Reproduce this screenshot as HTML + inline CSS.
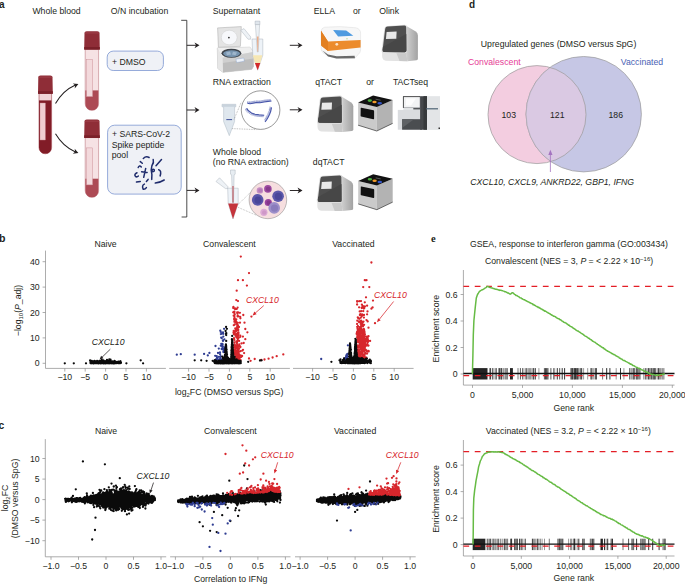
<!DOCTYPE html>
<html><head><meta charset="utf-8"><style>
html,body{margin:0;padding:0;background:#fff;}
svg{display:block;font-family:"Liberation Sans",sans-serif;}
</style></head><body>
<svg width="685" height="585" viewBox="0 0 685 585">
<rect width="685" height="585" fill="#fff"/>
<text x="-1" y="7.7" font-size="10" font-weight="bold" fill="#231f20">a</text>
<text x="468.9" y="7.8" font-size="10" font-weight="bold" fill="#231f20">d</text>
<text x="-1.1" y="242.2" font-size="10.6" font-weight="bold" fill="#231f20">b</text>
<text x="-1.4" y="429" font-size="10.4" font-weight="bold" fill="#231f20">c</text>
<text x="430.9" y="241.5" font-size="10.6" font-weight="bold" font-family="Liberation Serif" fill="#231f20">e</text>
<text x="480.8" y="47" font-size="8.7" text-anchor="start" fill="#231f20" >Upregulated genes (DMSO versus SpG)</text>
<text x="468" y="65.2" font-size="8.7" text-anchor="start" fill="#e63c96" >Convalescent</text>
<text x="620.8" y="65.2" font-size="8.7" text-anchor="start" fill="#4a62b4" >Vaccinated</text>
<defs><clipPath id="pinkclip"><circle cx="537" cy="114.6" r="49"/></clipPath></defs>
<circle cx="537" cy="114.6" r="49" fill="#f3cde0"/>
<circle cx="583.7" cy="114.2" r="57.7" fill="#c6c7e5" stroke="#9a9a9a" stroke-width="0.7"/>
<circle cx="583.7" cy="114.2" r="57.7" fill="#dac9e3" clip-path="url(#pinkclip)"/>
<circle cx="537" cy="114.6" r="49" fill="none" stroke="#9a9a9a" stroke-width="0.7"/>
<circle cx="583.7" cy="114.2" r="57.7" fill="none" stroke="#9a9a9a" stroke-width="0.5" clip-path="url(#pinkclip)"/>
<text x="501.5" y="118" font-size="8.7" text-anchor="start" fill="#231f20" >103</text>
<text x="550" y="118" font-size="8.7" text-anchor="start" fill="#231f20" >121</text>
<text x="608.5" y="118" font-size="8.7" text-anchor="start" fill="#231f20" >186</text>
<line x1="550.4" y1="172" x2="550.4" y2="153" stroke="#a474c0" stroke-width="0.8" />
<path d="M548.3 155 L550.4 149.8 L552.5 155 Z" fill="#a474c0"/>
<text x="470.3" y="184.6" font-size="8.7" text-anchor="start" fill="#231f20" font-style="italic">CXCL10, CXCL9, ANKRD22, GBP1, IFNG</text>
<text x="470" y="246.6" font-size="8.7" text-anchor="start" fill="#231f20" >GSEA, response to interferon gamma (GO:003434)</text>
<text x="485" y="263.8" font-size="8.7" text-anchor="start" fill="#231f20" >Convalescent (NES = 3, <tspan font-style="italic">P</tspan> = &lt; 2.22 × 10<tspan font-size="6" dy="-3.2">−16</tspan><tspan dy="3.2">)</tspan></text>
<line x1="463.4" y1="270" x2="463.4" y2="385.1" stroke="#8a8a8a" stroke-width="0.7" />
<line x1="460.6" y1="374" x2="463.4" y2="374" stroke="#8a8a8a" stroke-width="0.7" />
<text x="457.6" y="377.1" font-size="8.7" text-anchor="end" fill="#231f20" >0</text>
<line x1="460.6" y1="347.5" x2="463.4" y2="347.5" stroke="#8a8a8a" stroke-width="0.7" />
<text x="457.6" y="350.6" font-size="8.7" text-anchor="end" fill="#231f20" >0.2</text>
<line x1="460.6" y1="321" x2="463.4" y2="321" stroke="#8a8a8a" stroke-width="0.7" />
<text x="457.6" y="324.1" font-size="8.7" text-anchor="end" fill="#231f20" >0.4</text>
<line x1="460.6" y1="294.5" x2="463.4" y2="294.5" stroke="#8a8a8a" stroke-width="0.7" />
<text x="457.6" y="297.6" font-size="8.7" text-anchor="end" fill="#231f20" >0.6</text>
<line x1="463.4" y1="385.1" x2="674.5" y2="385.1" stroke="#8a8a8a" stroke-width="0.7" />
<line x1="472.5" y1="385.1" x2="472.5" y2="387.9" stroke="#8a8a8a" stroke-width="0.7" />
<text x="472.5" y="398" font-size="8.7" text-anchor="middle" fill="#231f20" >0</text>
<line x1="522.5" y1="385.1" x2="522.5" y2="387.9" stroke="#8a8a8a" stroke-width="0.7" />
<text x="522.5" y="398" font-size="8.7" text-anchor="middle" fill="#231f20" >5,000</text>
<line x1="572.4" y1="385.1" x2="572.4" y2="387.9" stroke="#8a8a8a" stroke-width="0.7" />
<text x="572.4" y="398" font-size="8.7" text-anchor="middle" fill="#231f20" >10,000</text>
<line x1="622.4" y1="385.1" x2="622.4" y2="387.9" stroke="#8a8a8a" stroke-width="0.7" />
<text x="622.4" y="398" font-size="8.7" text-anchor="middle" fill="#231f20" >15,000</text>
<line x1="672.3" y1="385.1" x2="672.3" y2="387.9" stroke="#8a8a8a" stroke-width="0.7" />
<text x="672.3" y="398" font-size="8.7" text-anchor="middle" fill="#231f20" >20,000</text>
<text x="573.8" y="411" font-size="8.7" text-anchor="middle" fill="#231f20" >Gene rank</text>
<text x="0" y="0" font-size="8.7" text-anchor="middle" fill="#231f20" transform="translate(438.8 328.6) rotate(-90)">Enrichment score</text>
<rect x="472.7" y="368.1" width="14.8" height="11.4" fill="#111" fill-opacity="0.92"/>
<rect x="510.0" y="368.1" width="2.9" height="11.4" fill="#111" fill-opacity="0.92"/>
<path d="M489.5 368.1V379.5M493.2 368.1V379.5M495.0 368.1V379.5M498.5 368.1V379.5M503.5 368.1V379.5M505.9 368.1V379.5M528.4 368.1V379.5M533.9 368.1V379.5M538.9 368.1V379.5M554.7 368.1V379.5M578.5 368.1V379.5M579.2 368.1V379.5M583.6 368.1V379.5M587.7 368.1V379.5M593.7 368.1V379.5M616.2 368.1V379.5M623.9 368.1V379.5M647.2 368.1V379.5M657.1 368.1V379.5M661.8 368.1V379.5M664.0 368.1V379.5" stroke="#111" stroke-width="0.95" stroke-opacity="0.45" fill="none"/>
<path d="M490.6 368.1V379.5M496.2 368.1V379.5M499.6 368.1V379.5M501.0 368.1V379.5M501.8 368.1V379.5M507.1 368.1V379.5M522.8 368.1V379.5M526.8 368.1V379.5M530.0 368.1V379.5M535.3 368.1V379.5M545.6 368.1V379.5M546.7 368.1V379.5M547.9 368.1V379.5M557.3 368.1V379.5M562.2 368.1V379.5M564.6 368.1V379.5M571.0 368.1V379.5M574.3 368.1V379.5M575.5 368.1V379.5M576.8 368.1V379.5M577.3 368.1V379.5M581.7 368.1V379.5M591.0 368.1V379.5M595.3 368.1V379.5M609.9 368.1V379.5M620.5 368.1V379.5M633.1 368.1V379.5M634.2 368.1V379.5M637.1 368.1V379.5M639.9 368.1V379.5M645.8 368.1V379.5M648.6 368.1V379.5M650.0 368.1V379.5M651.7 368.1V379.5M653.1 368.1V379.5M654.2 368.1V379.5M655.2 368.1V379.5M658.4 368.1V379.5M660.0 368.1V379.5" stroke="#111" stroke-width="0.95" stroke-opacity="0.9" fill="none"/>
<path d="M492.5 368.1V379.5M505.0 368.1V379.5M518.0 368.1V379.5M525.2 368.1V379.5M532.0 368.1V379.5M553.6 368.1V379.5M602.6 368.1V379.5M631.2 368.1V379.5M643.9 368.1V379.5M662.9 368.1V379.5" stroke="#111" stroke-width="0.95" stroke-opacity="0.6" fill="none"/>
<path d="M520.4 368.1V379.5M533.4 368.1V379.5M544.4 368.1V379.5M550.9 368.1V379.5M559.7 368.1V379.5M571.9 368.1V379.5M572.5 368.1V379.5M574.0 368.1V379.5M580.7 368.1V379.5M592.0 368.1V379.5M596.5 368.1V379.5M629.7 368.1V379.5M636.2 368.1V379.5M638.2 368.1V379.5" stroke="#111" stroke-width="0.95" stroke-opacity="0.75" fill="none"/>
<path d="M606.7 368.1V379.5" stroke="#111" stroke-width="0.95" stroke-opacity="0.95" fill="none"/>
<line x1="463.4" y1="375.6" x2="674.5" y2="375.6" stroke="#e41e26" stroke-width="1.25" stroke-dasharray="5.75 5.6"/>
<line x1="463.4" y1="373.5" x2="674.5" y2="373.5" stroke="#111" stroke-width="1.3" />
<line x1="463.4" y1="286.4" x2="674.5" y2="286.4" stroke="#e41e26" stroke-width="1.3" stroke-dasharray="5.75 5.6"/>
<path d="M472.4 374.0 L472.9 355.2 L473.3 335.0 L473.9 320.8 L474.5 314.6 L475.2 307.8 L476.3 298.0 L477.5 294.5 L478.2 293.5 L479.0 292.1 L479.6 291.3 L480.3 290.8 L481.0 290.4 L481.6 290.0 L482.4 289.8 L483.2 289.3 L484.0 288.9 L484.8 288.2 L485.5 287.8 L486.3 287.3 L487.1 286.4 L487.8 286.5 L488.4 286.7 L489.1 287.2 L489.7 287.4 L490.4 287.5 L491.1 287.8 L491.7 287.9 L492.4 288.0 L493.0 288.5 L493.7 288.4 L494.3 288.8 L495.0 289.1 L495.7 289.2 L496.4 289.2 L497.1 289.6 L497.8 289.5 L498.5 290.1 L499.1 290.0 L499.8 290.4 L500.4 290.2 L501.1 290.3 L501.7 290.6 L502.4 290.7 L503.0 290.9 L503.7 291.1 L504.3 291.5 L505.0 291.8 L505.7 291.8 L506.3 292.1 L507.0 292.5 L507.6 293.0 L508.3 292.9 L508.9 293.4 L509.6 293.8 L510.2 294.2 L510.8 293.8 L511.4 293.3 L512.0 292.8 L512.6 292.7 L513.3 293.1 L514.0 293.8 L514.6 294.3 L515.3 294.7 L516.0 295.5 L516.7 295.5 L517.3 295.8 L518.0 296.4 L518.6 296.7 L519.3 297.1 L519.9 297.7 L520.6 297.9 L521.2 298.0 L521.9 298.8 L522.5 298.8 L523.1 299.3 L523.8 299.7 L524.4 299.7 L525.0 300.1 L525.6 300.6 L526.3 300.7 L526.9 301.3 L527.5 301.4 L528.1 301.8 L528.8 301.9 L529.4 302.6 L530.0 302.8 L530.6 303.0 L531.2 303.5 L531.9 303.5 L532.5 303.9 L533.1 304.7 L533.8 304.5 L534.4 305.2 L535.0 305.4 L535.6 305.9 L536.2 306.2 L536.9 306.5 L537.5 306.8 L538.1 307.4 L538.8 307.3 L539.4 307.9 L540.0 308.0 L540.6 308.7 L541.2 309.0 L541.8 309.0 L542.4 309.7 L543.0 309.7 L543.6 310.5 L544.2 310.5 L544.8 311.2 L545.5 311.1 L546.1 311.5 L546.7 312.0 L547.3 312.5 L547.9 312.6 L548.5 313.1 L549.1 313.5 L549.7 313.5 L550.3 314.2 L550.9 314.6 L551.5 314.8 L552.1 315.3 L552.7 315.5 L553.3 316.0 L553.9 316.3 L554.5 316.3 L555.2 316.7 L555.8 317.2 L556.4 317.7 L557.0 318.0 L557.6 318.3 L558.2 318.7 L558.8 318.7 L559.4 319.1 L560.0 319.7 L560.6 319.8 L561.2 320.2 L561.8 320.9 L562.4 321.2 L563.0 321.5 L563.6 322.1 L564.2 322.5 L564.8 322.5 L565.5 322.9 L566.1 323.2 L566.7 323.7 L567.3 324.2 L567.9 324.4 L568.5 325.2 L569.1 325.2 L569.7 325.7 L570.3 326.4 L570.9 326.6 L571.5 326.8 L572.1 327.2 L572.7 327.7 L573.3 328.3 L573.9 328.5 L574.5 328.8 L575.2 329.3 L575.8 329.9 L576.4 330.3 L577.0 330.7 L577.6 331.0 L578.2 331.1 L578.8 331.6 L579.4 332.0 L580.0 332.3 L580.6 332.7 L581.2 333.3 L581.8 333.6 L582.4 333.9 L583.0 334.3 L583.6 334.7 L584.2 335.4 L584.9 335.9 L585.5 336.2 L586.1 336.4 L586.7 336.8 L587.3 337.1 L587.9 337.7 L588.5 338.3 L589.1 338.3 L589.7 339.1 L590.3 339.2 L590.9 339.8 L591.5 340.0 L592.1 340.7 L592.7 341.2 L593.4 341.4 L594.0 341.8 L594.6 342.1 L595.2 342.4 L595.8 343.0 L596.4 343.4 L597.0 343.8 L597.6 344.4 L598.2 344.6 L598.8 345.1 L599.4 345.4 L600.0 346.1 L600.6 346.1 L601.2 346.9 L601.8 347.0 L602.5 347.7 L603.1 347.7 L603.7 348.2 L604.3 349.0 L604.9 349.0 L605.5 349.7 L606.1 350.2 L606.7 350.6 L607.3 350.8 L607.9 351.3 L608.5 351.4 L609.1 351.8 L609.7 352.2 L610.3 352.5 L610.9 352.8 L611.5 353.1 L612.1 353.7 L612.7 353.8 L613.4 354.5 L614.0 354.5 L614.6 354.8 L615.2 355.2 L615.8 355.6 L616.4 356.1 L617.0 356.3 L617.6 356.7 L618.2 356.9 L618.8 357.2 L619.4 358.1 L620.0 358.2 L620.6 358.7 L621.2 358.9 L621.8 359.0 L622.4 359.7 L623.0 360.1 L623.7 360.5 L624.3 360.4 L624.9 360.7 L625.5 361.4 L626.1 361.6 L626.7 361.9 L627.3 362.1 L627.9 362.5 L628.5 363.0 L629.1 363.1 L629.7 363.7 L630.4 364.2 L631.0 364.0 L631.6 364.4 L632.2 364.9 L632.8 365.5 L633.4 365.6 L634.0 365.8 L634.6 366.2 L635.2 366.6 L635.8 366.9 L636.5 367.2 L637.1 367.4 L637.7 367.9 L638.3 368.2 L638.9 368.2 L639.5 368.5 L640.1 368.8 L640.7 369.0 L641.3 369.7 L641.9 369.9 L642.6 369.9 L643.2 370.6 L643.8 370.9 L644.4 371.2 L645.0 371.1 L645.6 371.7 L646.2 372.1 L646.9 372.2 L647.5 372.3 L648.1 372.9 L648.7 373.0 L649.3 373.4 L650.0 373.9 L650.6 374.0 L651.2 374.4 L651.9 374.2 L652.6 374.4 L653.3 374.6 L653.9 374.6 L654.6 374.9 L655.3 375.1 L656.0 375.5 L656.7 375.2 L657.3 375.0 L658.0 375.3 L658.7 375.0 L659.3 374.9 L660.0 374.9 L660.7 374.6 L661.3 374.5 L662.0 374.6 L662.7 374.2 L663.4 374.3 L664.0 373.8 L664.7 373.8" stroke="#66bb44" stroke-width="1.5" fill="none" stroke-linejoin="round"/>
<text x="485.8" y="434" font-size="8.7" text-anchor="start" fill="#231f20" >Vaccinated (NES = 3.2, <tspan font-style="italic">P</tspan> = &lt; 2.22 × 10<tspan font-size="6" dy="-3.2">−16</tspan><tspan dy="3.2">)</tspan></text>
<line x1="463.4" y1="440" x2="463.4" y2="556" stroke="#8a8a8a" stroke-width="0.7" />
<line x1="460.6" y1="544.6" x2="463.4" y2="544.6" stroke="#8a8a8a" stroke-width="0.7" />
<text x="457.6" y="547.7" font-size="8.7" text-anchor="end" fill="#231f20" >0</text>
<line x1="460.6" y1="518.1" x2="463.4" y2="518.1" stroke="#8a8a8a" stroke-width="0.7" />
<text x="457.6" y="521.2" font-size="8.7" text-anchor="end" fill="#231f20" >0.2</text>
<line x1="460.6" y1="491.6" x2="463.4" y2="491.6" stroke="#8a8a8a" stroke-width="0.7" />
<text x="457.6" y="494.7" font-size="8.7" text-anchor="end" fill="#231f20" >0.4</text>
<line x1="460.6" y1="465.1" x2="463.4" y2="465.1" stroke="#8a8a8a" stroke-width="0.7" />
<text x="457.6" y="468.2" font-size="8.7" text-anchor="end" fill="#231f20" >0.6</text>
<line x1="463.4" y1="556" x2="674.5" y2="556" stroke="#8a8a8a" stroke-width="0.7" />
<line x1="473" y1="556" x2="473" y2="558.8" stroke="#8a8a8a" stroke-width="0.7" />
<text x="473" y="568.8" font-size="8.7" text-anchor="middle" fill="#231f20" >0</text>
<line x1="521.3" y1="556" x2="521.3" y2="558.8" stroke="#8a8a8a" stroke-width="0.7" />
<text x="521.3" y="568.8" font-size="8.7" text-anchor="middle" fill="#231f20" >5,000</text>
<line x1="569.6" y1="556" x2="569.6" y2="558.8" stroke="#8a8a8a" stroke-width="0.7" />
<text x="569.6" y="568.8" font-size="8.7" text-anchor="middle" fill="#231f20" >10,000</text>
<line x1="617.9" y1="556" x2="617.9" y2="558.8" stroke="#8a8a8a" stroke-width="0.7" />
<text x="617.9" y="568.8" font-size="8.7" text-anchor="middle" fill="#231f20" >15,000</text>
<line x1="666.2" y1="556" x2="666.2" y2="558.8" stroke="#8a8a8a" stroke-width="0.7" />
<text x="666.2" y="568.8" font-size="8.7" text-anchor="middle" fill="#231f20" >20,000</text>
<text x="573.8" y="581.2" font-size="8.7" text-anchor="middle" fill="#231f20" >Gene rank</text>
<text x="0" y="0" font-size="8.7" text-anchor="middle" fill="#231f20" transform="translate(438.8 499.0) rotate(-90)">Enrichment score</text>
<rect x="472.7" y="538.7" width="12.4" height="11.4" fill="#111" fill-opacity="0.92"/>
<rect x="600.5" y="538.7" width="2.4" height="11.4" fill="#111" fill-opacity="0.92"/>
<path d="M485.9 538.7V550.1M492.6 538.7V550.1M495.5 538.7V550.1M502.3 538.7V550.1M516.5 538.7V550.1M535.7 538.7V550.1M540.5 538.7V550.1M542.1 538.7V550.1M544.5 538.7V550.1M561.8 538.7V550.1M568.6 538.7V550.1M573.2 538.7V550.1M577.2 538.7V550.1M606.1 538.7V550.1M611.6 538.7V550.1M633.7 538.7V550.1M664.4 538.7V550.1" stroke="#111" stroke-width="0.95" stroke-opacity="0.45" fill="none"/>
<path d="M487.5 538.7V550.1M500.7 538.7V550.1M507.6 538.7V550.1M515.7 538.7V550.1M522.8 538.7V550.1M538.9 538.7V550.1M549.3 538.7V550.1M559.3 538.7V550.1M590.3 538.7V550.1M591.2 538.7V550.1M611.0 538.7V550.1M623.0 538.7V550.1M633.2 538.7V550.1" stroke="#111" stroke-width="0.95" stroke-opacity="0.6" fill="none"/>
<path d="M489.1 538.7V550.1M490.7 538.7V550.1M493.9 538.7V550.1M504.3 538.7V550.1M506.0 538.7V550.1M510.8 538.7V550.1M511.6 538.7V550.1M514.7 538.7V550.1M517.3 538.7V550.1M519.6 538.7V550.1M521.2 538.7V550.1M525.2 538.7V550.1M532.4 538.7V550.1M534.0 538.7V550.1M537.3 538.7V550.1M558.0 538.7V550.1M559.9 538.7V550.1M562.8 538.7V550.1M571.0 538.7V550.1M574.2 538.7V550.1M574.8 538.7V550.1M578.8 538.7V550.1M592.4 538.7V550.1M593.8 538.7V550.1M604.5 538.7V550.1M607.7 538.7V550.1M612.5 538.7V550.1M632.0 538.7V550.1M636.6 538.7V550.1M640.9 538.7V550.1M643.9 538.7V550.1M648.7 538.7V550.1M652.7 538.7V550.1M659.1 538.7V550.1M665.1 538.7V550.1" stroke="#111" stroke-width="0.95" stroke-opacity="0.9" fill="none"/>
<path d="M497.1 538.7V550.1M498.7 538.7V550.1M561.0 538.7V550.1M628.6 538.7V550.1M642.3 538.7V550.1M645.1 538.7V550.1M663.1 538.7V550.1" stroke="#111" stroke-width="0.95" stroke-opacity="0.75" fill="none"/>
<path d="M582.8 538.7V550.1M584.1 538.7V550.1" stroke="#111" stroke-width="0.95" stroke-opacity="0.95" fill="none"/>
<line x1="463.4" y1="546.2" x2="674.5" y2="546.2" stroke="#e41e26" stroke-width="1.25" stroke-dasharray="5.75 5.6"/>
<line x1="463.4" y1="544.1" x2="674.5" y2="544.1" stroke="#111" stroke-width="1.3" />
<line x1="463.4" y1="451.7" x2="674.5" y2="451.7" stroke="#e41e26" stroke-width="1.3" stroke-dasharray="5.75 5.6"/>
<path d="M473.0 544.6 L473.2 534.8 L473.4 510.0 L473.8 498.2 L474.7 489.8 L475.4 485.3 L476.0 480.9 L477.2 474.6 L477.9 471.1 L478.6 466.9 L479.5 464.0 L480.4 460.8 L481.1 459.5 L481.7 458.2 L482.4 456.3 L483.1 455.7 L483.9 454.6 L484.6 453.8 L485.3 453.5 L486.0 453.0 L486.6 453.1 L487.3 452.6 L488.0 452.2 L488.7 452.1 L489.3 452.2 L490.0 452.1 L490.7 452.0 L491.3 451.8 L492.0 451.8 L492.6 451.8 L493.2 452.1 L493.9 451.7 L494.5 452.0 L495.1 452.1 L495.8 451.7 L496.4 452.1 L497.0 452.0 L497.6 452.1 L498.2 451.8 L498.9 451.8 L499.5 451.8 L500.2 452.3 L500.9 452.3 L501.6 452.4 L502.3 452.6 L503.0 452.7 L503.6 452.9 L504.3 453.3 L504.9 454.0 L505.6 454.1 L506.2 454.8 L506.9 454.8 L507.5 455.2 L508.2 455.7 L508.8 455.9 L509.5 456.3 L510.1 457.0 L510.8 457.3 L511.4 457.7 L512.1 457.9 L512.7 458.5 L513.4 458.8 L514.0 459.0 L514.6 459.5 L515.3 459.5 L516.0 460.2 L516.6 460.5 L517.2 461.0 L517.9 461.3 L518.5 461.5 L519.2 461.8 L519.8 462.6 L520.5 462.6 L521.1 463.1 L521.8 463.4 L522.4 463.8 L523.1 464.5 L523.7 465.0 L524.3 465.1 L525.0 465.7 L525.6 465.9 L526.2 466.5 L526.8 466.8 L527.5 467.1 L528.1 467.6 L528.7 468.0 L529.4 468.8 L530.0 469.0 L530.6 469.2 L531.2 470.0 L531.8 470.4 L532.4 470.5 L533.0 470.7 L533.6 471.1 L534.2 471.5 L534.8 472.0 L535.4 472.2 L536.0 472.7 L536.6 473.1 L537.2 473.6 L537.8 474.1 L538.4 474.4 L539.0 474.7 L539.6 475.0 L540.2 475.5 L540.8 475.8 L541.4 476.2 L542.0 476.4 L542.6 476.9 L543.2 477.7 L543.8 477.6 L544.5 478.2 L545.1 478.7 L545.7 479.2 L546.3 479.2 L546.9 479.7 L547.5 480.0 L548.1 480.5 L548.7 480.9 L549.3 481.6 L549.9 481.9 L550.5 482.3 L551.1 482.3 L551.7 482.7 L552.3 483.4 L552.9 483.9 L553.5 484.1 L554.2 484.5 L554.8 484.6 L555.4 485.2 L556.0 485.9 L556.6 486.2 L557.2 486.6 L557.8 487.1 L558.4 487.1 L559.0 487.4 L559.6 487.8 L560.2 488.4 L560.8 488.9 L561.4 489.4 L562.0 489.7 L562.6 490.1 L563.2 490.5 L563.8 490.8 L564.4 491.2 L565.0 491.4 L565.6 492.1 L566.2 492.3 L566.8 493.0 L567.4 493.3 L568.0 493.5 L568.6 493.8 L569.2 494.3 L569.8 494.9 L570.4 495.3 L571.0 495.4 L571.6 495.8 L572.2 496.4 L572.8 496.8 L573.4 497.1 L574.0 497.5 L574.6 498.1 L575.2 498.2 L575.8 498.7 L576.4 499.2 L577.0 499.8 L577.6 500.1 L578.2 500.6 L578.8 500.8 L579.4 501.1 L580.0 501.5 L580.6 502.2 L581.2 502.5 L581.8 502.7 L582.4 503.0 L583.0 503.6 L583.6 504.1 L584.2 504.3 L584.8 504.6 L585.5 505.2 L586.1 505.7 L586.7 505.7 L587.3 506.0 L587.9 506.5 L588.5 506.9 L589.2 507.4 L589.8 507.6 L590.4 508.2 L591.0 508.6 L591.6 508.8 L592.2 509.1 L592.9 509.8 L593.5 509.8 L594.1 510.5 L594.7 510.6 L595.3 510.9 L596.0 511.6 L596.6 511.7 L597.2 512.4 L597.8 512.5 L598.4 512.8 L599.0 513.1 L599.7 513.6 L600.3 514.1 L600.9 514.6 L601.5 514.5 L602.1 514.9 L602.8 515.1 L603.4 515.7 L604.0 515.6 L604.6 515.8 L605.2 516.1 L605.9 516.5 L606.5 517.1 L607.1 517.3 L607.7 517.5 L608.3 517.9 L609.0 518.2 L609.6 518.2 L610.2 518.4 L610.8 519.0 L611.4 519.2 L612.1 519.1 L612.7 519.7 L613.3 519.8 L613.9 520.2 L614.5 520.6 L615.1 520.9 L615.8 521.1 L616.4 521.7 L617.0 522.1 L617.6 522.7 L618.2 522.7 L618.8 523.5 L619.5 523.5 L620.1 523.9 L620.7 524.5 L621.3 524.9 L621.9 525.1 L622.5 525.3 L623.2 525.9 L623.8 526.2 L624.4 526.8 L625.0 526.8 L625.6 527.3 L626.3 528.0 L626.9 527.9 L627.5 528.5 L628.1 529.1 L628.8 529.4 L629.4 529.4 L630.0 529.8 L630.6 530.2 L631.3 531.0 L631.9 531.0 L632.5 531.7 L633.1 532.1 L633.8 532.2 L634.4 532.6 L635.0 533.3 L635.6 533.5 L636.3 533.7 L636.9 534.3 L637.5 534.3 L638.1 534.5 L638.8 534.6 L639.4 535.2 L640.0 535.5 L640.6 535.6 L641.2 536.0 L641.9 535.7 L642.5 536.0 L643.1 536.4 L643.7 536.8 L644.3 537.1 L645.0 537.0 L645.6 537.2 L646.2 537.5 L646.8 537.7 L647.4 538.2 L648.1 538.0 L648.7 538.5 L649.3 538.7 L649.9 539.2 L650.5 539.6 L651.2 539.9 L651.8 540.2 L652.4 540.6 L653.0 541.1 L653.6 541.7 L654.2 541.8 L654.9 542.3 L655.5 543.0 L656.1 543.1 L656.7 543.5 L657.3 543.9 L658.0 544.6 L658.6 544.9 L659.2 545.6 L659.8 545.6 L660.4 545.6 L661.1 545.2 L661.7 545.0 L662.3 545.0 L662.9 545.2 L663.5 545.2 L664.2 545.1 L664.8 544.9 L665.4 545.0" stroke="#66bb44" stroke-width="1.5" fill="none" stroke-linejoin="round"/>
<line x1="45.5" y1="250.6" x2="45.5" y2="368.4" stroke="#8a8a8a" stroke-width="0.7" />
<line x1="42.6" y1="363.3" x2="45.5" y2="363.3" stroke="#8a8a8a" stroke-width="0.7" />
<text x="39.6" y="366.4" font-size="8.7" text-anchor="end" fill="#231f20" >0</text>
<line x1="42.6" y1="337.9" x2="45.5" y2="337.9" stroke="#8a8a8a" stroke-width="0.7" />
<text x="39.6" y="341" font-size="8.7" text-anchor="end" fill="#231f20" >10</text>
<line x1="42.6" y1="312.5" x2="45.5" y2="312.5" stroke="#8a8a8a" stroke-width="0.7" />
<text x="39.6" y="315.6" font-size="8.7" text-anchor="end" fill="#231f20" >20</text>
<line x1="42.6" y1="287.1" x2="45.5" y2="287.1" stroke="#8a8a8a" stroke-width="0.7" />
<text x="39.6" y="290.2" font-size="8.7" text-anchor="end" fill="#231f20" >30</text>
<line x1="42.6" y1="261.7" x2="45.5" y2="261.7" stroke="#8a8a8a" stroke-width="0.7" />
<text x="39.6" y="264.8" font-size="8.7" text-anchor="end" fill="#231f20" >40</text>
<text font-size="8.7" fill="#231f20" text-anchor="middle" transform="translate(20.6 310.5) rotate(-90)">−log<tspan font-size="6" dy="2">10</tspan><tspan dy="-2">(</tspan><tspan font-style="italic">P</tspan>_adj)</text>
<line x1="45.5" y1="368.4" x2="165.9" y2="368.4" stroke="#8a8a8a" stroke-width="0.7" />
<line x1="64.8" y1="368.4" x2="64.8" y2="371.6" stroke="#8a8a8a" stroke-width="0.7" />
<text x="64.8" y="380.3" font-size="8.7" text-anchor="middle" fill="#231f20" >−10</text>
<line x1="85.2" y1="368.4" x2="85.2" y2="371.6" stroke="#8a8a8a" stroke-width="0.7" />
<text x="85.2" y="380.3" font-size="8.7" text-anchor="middle" fill="#231f20" >−5</text>
<line x1="105.6" y1="368.4" x2="105.6" y2="371.6" stroke="#8a8a8a" stroke-width="0.7" />
<text x="105.6" y="380.3" font-size="8.7" text-anchor="middle" fill="#231f20" >0</text>
<line x1="126" y1="368.4" x2="126" y2="371.6" stroke="#8a8a8a" stroke-width="0.7" />
<text x="126" y="380.3" font-size="8.7" text-anchor="middle" fill="#231f20" >5</text>
<line x1="146.4" y1="368.4" x2="146.4" y2="371.6" stroke="#8a8a8a" stroke-width="0.7" />
<text x="146.4" y="380.3" font-size="8.7" text-anchor="middle" fill="#231f20" >10</text>
<text x="105.6" y="246.5" font-size="8.7" text-anchor="middle" fill="#231f20" >Naive</text>
<line x1="169.2" y1="368.4" x2="289.9" y2="368.4" stroke="#8a8a8a" stroke-width="0.7" />
<line x1="188.6" y1="368.4" x2="188.6" y2="371.6" stroke="#8a8a8a" stroke-width="0.7" />
<text x="188.6" y="380.3" font-size="8.7" text-anchor="middle" fill="#231f20" >−10</text>
<line x1="209" y1="368.4" x2="209" y2="371.6" stroke="#8a8a8a" stroke-width="0.7" />
<text x="209" y="380.3" font-size="8.7" text-anchor="middle" fill="#231f20" >−5</text>
<line x1="229.4" y1="368.4" x2="229.4" y2="371.6" stroke="#8a8a8a" stroke-width="0.7" />
<text x="229.4" y="380.3" font-size="8.7" text-anchor="middle" fill="#231f20" >0</text>
<line x1="249.8" y1="368.4" x2="249.8" y2="371.6" stroke="#8a8a8a" stroke-width="0.7" />
<text x="249.8" y="380.3" font-size="8.7" text-anchor="middle" fill="#231f20" >5</text>
<line x1="270.2" y1="368.4" x2="270.2" y2="371.6" stroke="#8a8a8a" stroke-width="0.7" />
<text x="270.2" y="380.3" font-size="8.7" text-anchor="middle" fill="#231f20" >10</text>
<text x="229.4" y="246.5" font-size="8.7" text-anchor="middle" fill="#231f20" >Convalescent</text>
<line x1="293" y1="368.4" x2="413.6" y2="368.4" stroke="#8a8a8a" stroke-width="0.7" />
<line x1="312.6" y1="368.4" x2="312.6" y2="371.6" stroke="#8a8a8a" stroke-width="0.7" />
<text x="312.6" y="380.3" font-size="8.7" text-anchor="middle" fill="#231f20" >−10</text>
<line x1="333" y1="368.4" x2="333" y2="371.6" stroke="#8a8a8a" stroke-width="0.7" />
<text x="333" y="380.3" font-size="8.7" text-anchor="middle" fill="#231f20" >−5</text>
<line x1="353.4" y1="368.4" x2="353.4" y2="371.6" stroke="#8a8a8a" stroke-width="0.7" />
<text x="353.4" y="380.3" font-size="8.7" text-anchor="middle" fill="#231f20" >0</text>
<line x1="373.8" y1="368.4" x2="373.8" y2="371.6" stroke="#8a8a8a" stroke-width="0.7" />
<text x="373.8" y="380.3" font-size="8.7" text-anchor="middle" fill="#231f20" >5</text>
<line x1="394.2" y1="368.4" x2="394.2" y2="371.6" stroke="#8a8a8a" stroke-width="0.7" />
<text x="394.2" y="380.3" font-size="8.7" text-anchor="middle" fill="#231f20" >10</text>
<text x="353.4" y="246.5" font-size="8.7" text-anchor="middle" fill="#231f20" >Vaccinated</text>
<text x="229.2" y="394.6" font-size="8.7" fill="#231f20" text-anchor="middle">log<tspan font-size="6" dy="2">2</tspan><tspan dy="-2">FC (DMSO versus SpG)</tspan></text>
<path d="M109.5 362.6h0M99 363h0M104.5 363h0M113.1 362.1h0M98.1 363.3h0M109.9 362.5h0M120.9 362.9h0M107.9 361.6h0M109.3 363.3h0M111.1 361.6h0M111.1 363.1h0M96.3 362h0M105.6 362h0M98.5 361.9h0M109.2 363.1h0M104.1 362.8h0M94.8 363.1h0M110.7 362.9h0M100.5 362.8h0M108.6 362.5h0M114.8 363h0M102.6 363.2h0M105.3 363h0M111.8 362.6h0M119.7 362.9h0M107.8 362.7h0M111.1 362.4h0M112.8 363.3h0M90.7 362.5h0M103.6 361.6h0M112.9 363.2h0M107.6 362h0M109.5 361.7h0M105.9 362.8h0M110.3 362.9h0M105.7 362.4h0M94.4 360.9h0M112.8 363.1h0M118.8 361.7h0M114.3 363h0M104 363.1h0M112.1 363h0M102.7 362.8h0M104.8 363h0M112.7 363.1h0M105.9 363.3h0M105.3 362.3h0M111.7 362.7h0M108.3 362.7h0M110.7 362.3h0M109.4 363h0M107.7 361.7h0M103.6 363.1h0M109 363h0M93.3 362.2h0M110 362.9h0M112.9 363.1h0M105.9 362.2h0M119.6 362.1h0M114.7 363.1h0M120.5 361.5h0M118.2 362.7h0M114.6 363h0M113.6 363.1h0M117.9 363h0M105.9 361.5h0M107.9 362.6h0M106.2 363.1h0M95.4 362h0M103.7 362.5h0M106.7 361.8h0M100 361.8h0M97.2 362.3h0M120.9 362.6h0M103 363h0M113.9 362.7h0M108 361.6h0M110.1 362.8h0M100.1 362.6h0M90.6 362.8h0M107.5 362.2h0M109.5 362.8h0M109.6 363.2h0M93.8 363.3h0M97.4 362.2h0M109.6 362.7h0M115.1 361.6h0M95.1 362.2h0M111.1 363.1h0M90.9 362.3h0M102.3 363h0M95.1 362.5h0M106.9 361.2h0M106.8 362.7h0M114.3 362.9h0M107.4 362.8h0M109.1 363.1h0M100.7 361.9h0M100 363.2h0M108.4 363h0M116.3 361.8h0M98.3 363h0M107.2 362.8h0M91.7 362.5h0M114.4 362.4h0M107.4 362h0M114.6 362.6h0M106.2 362.6h0M106 362.6h0M113.3 363.2h0M106.7 362.4h0M105 362.7h0M101.3 362.2h0M112.7 363.2h0M103.4 361.5h0M112.7 362.6h0M109.6 362.9h0M118.4 363.2h0M118.9 363.1h0M94.8 363h0M107.1 362.3h0M100.7 362.1h0M115.5 362.8h0M108.3 363.1h0M117.8 362.1h0M96.8 363.1h0M107.7 362.8h0M99.9 362.8h0M93.5 362.7h0M108.1 362.5h0M91.1 363.3h0M111.1 362.7h0M110.3 361.4h0M106.6 362.3h0M114.2 363.1h0M112.1 362.6h0M106 361.8h0M90.5 362.3h0M113.8 363.2h0M106.8 361.6h0M105.6 363.2h0M116 363.1h0M97.1 361h0M104.3 363.3h0M115 362.5h0M108.5 362h0M102.8 361.7h0M117.7 362.1h0M96.8 363.1h0M118.2 361.8h0M104.6 361.9h0M107.1 361.7h0M104.1 362.6h0M116.3 362.5h0M103.9 361.9h0M104.4 363.1h0M109.8 362.8h0M99.7 362.8h0M95.3 361.5h0M100.5 362.7h0M96.3 363.2h0M106.5 362.9h0M111 362.7h0M109.2 361.8h0M96.5 363h0M102.4 363h0M102.7 362.9h0M98.9 362.6h0M109 362.5h0M113.2 362.4h0M103.8 363.3h0M112.6 362.3h0M108.1 361.8h0M103.6 362.1h0M103.9 362h0M103.3 363h0M98.6 363.3h0M112.4 362.6h0M103.1 362.7h0M105.4 363.1h0M101.6 363h0M106.6 362.4h0M114.7 362.9h0M106.5 361.8h0M104.7 362.1h0M99.2 361.3h0M111.4 362h0M113.8 361.3h0M92.2 361.4h0M102.7 362.3h0M111.9 363.2h0M98.6 363h0M115.4 362.6h0M106.2 362.8h0M114.3 362.9h0M102.9 362.5h0M108.9 360.8h0M110.1 362.6h0M98 363h0M116 362.1h0M116.5 363.2h0M103.5 362.4h0M90.6 363.2h0M99.7 362.5h0M100 362.7h0M98.9 361.6h0M116.1 362.7h0M107.4 362.8h0M106.2 363.2h0M119.6 362.9h0M94.9 362.7h0M114.3 363h0M109.3 363.1h0M103.7 362h0M101 362h0M101 362.8h0M114.5 363.2h0M101.1 362.6h0M94.8 363h0M112.4 362.9h0M105.5 362.1h0M106.9 361.5h0M107.2 362h0M103.8 362.6h0M110.7 362.1h0M110.3 362h0M108.1 362.5h0M104.8 362.2h0M106.4 361.8h0M108.6 362.3h0M105 361.7h0M107.3 362.6h0M103.4 361.6h0M115.8 362.7h0M105.9 363.1h0M113.1 362.3h0M100.2 361.9h0M108.4 362.2h0M112.6 362h0M105.2 363.2h0M90.7 362.5h0M117.9 362.4h0M99 362.3h0M102.1 362.9h0M100.1 363h0M114.5 363.3h0M91.6 362.9h0M113.5 362.6h0M115.7 363h0M99.7 362.1h0M100.2 362h0M110 362.1h0M94.1 362.9h0M96.2 362.3h0M90.9 362.3h0M111.4 362.2h0M93.6 363.2h0M107.5 362.8h0M90.7 363.1h0M104.4 361.6h0M91 362.3h0M107.2 361.7h0M92 363.1h0M98.5 363.2h0M104.6 363h0M101.1 363.2h0M120.5 363.1h0M106.9 363.1h0M112.8 362.9h0M116.8 363h0M108.1 363.3h0M111.2 362.2h0M110.2 361.9h0M102.3 362.8h0M115.6 362.7h0M106.3 363h0M103.9 361.6h0M109 361.5h0M105.4 362.9h0M112.1 362.3h0M112.5 361.9h0M90.6 362.2h0M103.4 361.8h0M101.8 361.5h0M109.5 362.5h0M116.6 362.4h0M102.1 361.3h0M93.1 361.7h0M113.5 362.7h0M107.5 362h0M103.3 363.2h0M113.5 363h0M115.2 362.3h0M107.6 362h0M111.7 362.5h0M103.9 363h0M96 363h0M102 362.3h0M91.9 362.6h0M105.1 363h0M107.5 362.8h0M103.2 362.3h0M91.5 361.4h0M106.2 362.6h0M105.1 361.2h0M112.6 362.3h0M91.7 361h0M96 363h0M107.7 362.6h0M102.6 363h0M105.8 362.9h0M108.4 363.2h0M113.7 361.9h0M104.2 362.9h0M120.1 362.6h0M98.3 363.3h0M118.1 361.8h0M114.6 362.3h0M97.5 361.1h0M94.9 363.2h0M94.3 362.9h0M113.6 362.6h0M94.3 362.8h0M108.7 362.7h0M111.2 361.8h0M91.6 363.2h0M109.1 361.1h0M109.1 363h0M93.5 361.6h0M102.4 362.5h0M108.2 362h0M97.3 363.1h0M112.3 362.8h0M105.8 363.2h0M98.8 362.3h0M105.2 362.8h0M102.1 361.4h0M120.4 361.4h0M110.8 363h0M98.4 362.2h0M101.7 359.9h0M105.8 362.6h0M109.3 361.8h0M120.5 362.8h0M115.2 363h0M116 362.9h0M109 362.4h0M108.2 362.1h0M96 363.1h0M92.9 361.8h0M109.1 362.5h0M109.2 363.3h0M109.5 362.1h0M92.5 363.2h0M101.4 361.6h0M116.3 362.7h0M105.9 363.3h0M96.2 363h0M96.2 362.8h0M101.9 362.5h0M113.2 363.3h0M106.3 362.2h0M112.6 362.7h0M103.3 362.1h0M117.2 362.2h0M100.5 363.3h0M105.8 363.3h0M107.4 362.7h0M98.2 363.2h0M111.9 363.1h0M91 362.3h0M102.8 363.2h0M104.5 363.2h0M105.6 363h0M106.3 362.8h0M94.7 361.7h0M108 362.3h0M111.9 361.8h0M102.6 362.7h0M101.6 363.1h0M107.6 362.4h0M100.8 360.8h0M112.7 361.8h0M101.7 362.2h0M108.9 362.6h0M109.9 363h0M106.7 362.4h0M109.2 362.8h0M107.2 362.9h0M94.5 362.6h0M96.6 361.9h0M111.3 363h0M107.1 362.1h0M106.4 362.7h0M119.6 363.1h0M111.2 362.4h0M111.7 362.5h0M106.5 362.8h0M94.5 363.2h0M102.9 363.1h0M107.2 362.6h0M101.5 362.5h0M109.3 361.9h0M99.8 362.9h0M105.4 362.6h0M106.2 362.3h0M101.3 362.4h0M107.3 362.1h0M103.4 360.5h0M114.1 363.1h0M108.5 363h0M104 363.2h0M109.8 362.9h0M106.6 362.7h0M101.3 362.7h0M100.3 362.8h0M101 363.2h0M97.9 363h0M98.7 361.9h0M113.9 361.9h0M93.2 363.3h0M98.8 362.5h0M102.8 362.7h0M98.6 362.9h0M102.5 362.4h0M114.6 363h0M101.1 363.3h0M99.8 362.5h0M112.3 361.5h0M116.3 362.2h0M110.3 363.1h0M118.4 363h0M106.9 361.1h0M107 359.9h0M102.3 361.8h0M101.4 363.1h0M99.2 361.4h0M104.4 363.2h0M102.8 362.1h0M104.2 362.2h0M109.6 363.1h0M103.2 362.3h0M109 362.6h0M109.7 362.3h0M117.9 362.6h0M97.7 362.5h0M99.4 362.6h0M103.4 363.3h0M109.8 362.6h0M103.8 363.1h0M114.6 363.1h0M111.6 362.5h0M106.9 362.1h0M105.7 362.6h0M106.1 361.9h0M113.8 363.3h0M94.2 362.4h0M93.6 361.9h0M106.5 362.7h0M100.3 363.2h0M107.1 362.6h0M95.7 361.9h0M93.5 362.3h0M104.3 362.6h0M92.2 362.3h0M102.4 362.1h0M91.8 362.8h0M109.6 362.6h0M108.6 362.5h0M112.8 363h0M107.1 362.3h0M107.6 362.5h0M97.5 363.1h0M95.8 362.9h0M109.5 363h0M106.8 362.1h0M102.8 362.8h0M107.9 362.9h0M99.2 362.7h0M91.6 362.8h0M112.1 362.5h0M98.8 363h0M116.1 362.9h0M109.5 362.5h0M97.3 361.6h0M119.6 362.6h0M106.7 362.3h0M118 362.2h0M104.1 362.8h0M109.3 361.4h0M106.2 362.6h0M105.7 362.2h0M112 362.9h0M95.9 362.4h0M103.4 362h0M107.7 362.6h0M92.5 362.4h0M97.4 362.2h0M102.8 362.2h0M108.5 361.3h0M109.7 362.7h0M111.3 362.8h0M110.7 362.5h0M106.9 361.4h0M109.7 363.1h0M109.2 363.1h0M91.7 361.8h0M96.6 363h0M100 362.4h0M111.2 361.6h0M106 362.6h0M111.4 363.3h0M107 363.2h0M116.6 362.5h0M110.6 363.1h0M114.7 362.8h0M118.2 362h0M113.4 362.5h0M106.4 362.9h0M96 362.3h0M106.1 361.5h0M105.1 363.2h0M101.1 362.8h0M113.1 362.1h0M112 363h0M102.9 362h0M105.4 363.3h0M103.1 363h0M100 362.3h0M113.1 363.2h0M110.8 361.2h0M99.7 362.5h0M111.1 362.3h0M115.5 361.7h0M110.9 362.8h0M98 362.9h0M110.1 362.8h0M96.8 362.6h0M112 363h0M94 362.8h0M95.6 362.3h0M90.8 361.7h0M112.4 363.2h0M104.5 363.1h0M103.7 363h0M118.7 363.2h0M98.2 361.7h0M106.8 362.6h0M91.4 363h0M64.8 363.3h0M73.8 363.3h0M86 363.3h0M126.4 363.3h0M140.7 360.3h0M143.1 363.3h0M90.1 360.5h0M95.4 361.3h0M109.3 359.5h0M110.5 359.7h0M114.6 360.8h0M117.8 362h0M99.5 361h0M93 362.8h0M119.9 363h0" stroke="#0a0a0a" stroke-width="2.3" stroke-linecap="round" fill="none"/>
<text x="91.7" y="344.5" font-size="8.7" text-anchor="start" fill="#231f20" font-style="italic">CXCL10</text>
<line x1="110.3" y1="349.2" x2="102" y2="357.3" stroke="#231f20" stroke-width="0.75" />
<path d="M99.6 359.6 L101.1 355.7 L103.5 358.2 Z" fill="#231f20"/>
<path d="M220 360h0M224.5 357.5h0M222.4 343.8h0M224.1 351.3h0M218.9 356.8h0M220.3 330.6h0M221.7 359.3h0M221.3 343.8h0M222.6 344.4h0M224.4 339.3h0M224 350.1h0M220.1 354.3h0M221.7 349h0M222.4 347h0M220.9 334.1h0M223.7 349.2h0M223.2 333.8h0M219.6 359.5h0M221.8 333.6h0M220.8 345.7h0M223 340.9h0M220 352.5h0M217.9 359.4h0M217 357.6h0M221.7 359.3h0M215.2 355.8h0M218 353h0M220.2 358.7h0M223.3 359.7h0M223.4 352h0M223 332.4h0M221.2 337.6h0M224.1 348.5h0M220.8 356.5h0M222.8 346.4h0M216.7 356.1h0M223.8 358.3h0M222.4 359.6h0M221.7 338.2h0M220.7 331.8h0M222.5 348.5h0M222.1 360h0M224.9 347.3h0M223.5 350h0M223.4 351.6h0M176.8 354.7h0M180.8 354.2h0M194.7 354.7h0M204.1 353.9h0M207.8 355.4h0M209.4 352.9h0M215.5 346h0M224.1 328.8h0M222.9 340.4h0M215.9 359.5h0M218.8 348.6h0M223.3 336.6h0" stroke="#2f3d92" stroke-width="2.3" stroke-linecap="round" fill="none"/>
<path d="M238.3 354.3h0M238 335.8h0M238.8 346.6h0M234 358.7h0M236.4 337.3h0M239.9 346.1h0M239 354.7h0M235.7 350.4h0M238.7 359.7h0M239.2 359.2h0M238 359.9h0M234.1 346.2h0M237.4 350.2h0M234.3 315.7h0M237.6 360.1h0M234.8 354.3h0M235.7 357.8h0M235 350.3h0M239.2 344.3h0M236.4 360h0M237.5 358.4h0M234.7 324.5h0M236.9 324h0M237.2 334.6h0M233.3 308.1h0M233.8 325.2h0M237 360.3h0M237.6 353.8h0M234.7 332.6h0M233.8 350h0M234 338.2h0M233.8 332.2h0M237.5 335.7h0M238.7 353.6h0M239 354.9h0M236.3 319.3h0M238.7 337.7h0M236.5 358.4h0M235.5 354.2h0M237 341.5h0M237.3 350.9h0M234.8 344.9h0M237.6 333.3h0M239.1 357.1h0M235 352.8h0M237.8 332.9h0M234.3 331.1h0M235.1 353.5h0M237.7 329.2h0M237.1 336.9h0M238.5 334h0M233.3 353.3h0M237.2 345.4h0M237.4 324.9h0M235.9 330.6h0M236.3 356.5h0M237.6 316.4h0M238.2 349.9h0M235 308.3h0M234.9 320.5h0M240.2 316.9h0M237.1 327.7h0M238.2 351.8h0M235.7 360.5h0M235.6 360.5h0M237.5 354.4h0M233.2 358.5h0M237.8 340h0M236.9 357.5h0M237.1 354.8h0M236.7 337.7h0M236.3 359.7h0M233.7 315.7h0M239.7 357.3h0M236.5 341.5h0M238.1 356.5h0M233.4 306.9h0M237.2 357.6h0M236.1 321.5h0M237.5 325.3h0M235.6 329.3h0M237.1 360h0M235.5 360h0M234.9 346.3h0M239.2 345.8h0M236.2 346.2h0M234.2 319.7h0M235.2 353.5h0M236.9 343h0M237.4 359.8h0M235.2 354.6h0M235.8 354.2h0M236.3 353.3h0M237 336.4h0M234.6 351.4h0M238.3 349h0M236.5 330.9h0M236 335.4h0M234.2 358.4h0M234.6 334h0M238 359.5h0M235 346.2h0M236.3 359.5h0M235.1 359.5h0M236.9 344.1h0M234.5 342.5h0M236.2 322.6h0M236 353.2h0M237.1 323.3h0M238.1 312.5h0M239 356.6h0M237.8 322.8h0M236.9 322.6h0M234.2 319.6h0M234.8 354.2h0M233.6 360.3h0M235 359.7h0M237.7 315.4h0M243 349.8h0M237.3 313.3h0M233.7 357.6h0M236.8 343.7h0M237.7 359.4h0M237.4 326.5h0M238.3 330h0M236.5 333.9h0M236.4 353h0M238.1 360.5h0M240.4 318.3h0M237.8 353.9h0M238.6 351.4h0M239.2 346.4h0M235.1 331.8h0M234.9 360h0M235.4 347.7h0M236.5 357.9h0M236.1 322.5h0M233.8 338.9h0M238.7 355.8h0M237.9 335.2h0M240.3 335.6h0M235.8 359.9h0M234.6 359.3h0M235.3 352.2h0M236.5 348.1h0M239 346.5h0M234.4 312.9h0M234.4 344.6h0M240.6 355.3h0M237 342.5h0M233.5 347.8h0M234 334.2h0M233.7 330.9h0M234.8 318.8h0M237.2 360.1h0M236.1 355.5h0M237.2 326.3h0M233.8 354.5h0M239 327h0M238.1 360.4h0M239.9 312.8h0M235.8 346.1h0M237.8 328h0M235.8 358.8h0M237.3 351.4h0M239.1 348.8h0M241.5 343.4h0M233.2 307.9h0M238.1 338.5h0M235.1 359.6h0M234.3 331.3h0M240.3 336.8h0M235.1 349.8h0M233.9 354.3h0M242.1 356h0M239.1 359.8h0M233.2 312.3h0M234.2 353h0M237.5 346.7h0M235 309h0M239.7 357.6h0M238 337.5h0M237 329.1h0M234.2 318.5h0M235.3 328.5h0M235.7 345.7h0M234.4 316.2h0M233.3 351h0M234.7 314.4h0M233.5 332.7h0M235.1 359.8h0M236 360.5h0M234.6 359.2h0M234.4 360h0M238.5 359.5h0M234.7 357h0M240.1 360.4h0M239.1 340.9h0M237.7 360.3h0M234.7 331.9h0M237.6 358.6h0M238.2 356.3h0M237.8 325.2h0M237.6 346.5h0M240.5 351.2h0M237.6 307.6h0M234.4 311.6h0M234.3 339.9h0M237.9 337.4h0M239 360.2h0M236.1 358.4h0M240.5 360h0M237.2 348.1h0M234.4 360.4h0M235.8 352.1h0M237.4 333.8h0M236.7 351.6h0M239.3 358.6h0M238.7 327.3h0M234.4 321.8h0M238.5 332.4h0M234.5 318h0M235.1 348.1h0M237.8 325.4h0M235.5 335.8h0M234.4 354.3h0M234.4 332.2h0M238.8 354.5h0M236 360.5h0M238.8 360.5h0M240.8 256.6h0M249 273.1h0M238 280.2h0M242.9 280.2h0M246.9 285.6h0M236.7 290.7h0M236.3 300.1h0M238 301.1h0M236.7 308.9h0M243.3 315h0M240 322.7h0M245.3 329h0M247.4 332.3h0M242.9 336.6h0M240.4 347h0M243.7 343h0M242.5 350.6h0M244.5 322.7h0M238.4 316.3h0M237.2 312.5h0M245.3 339.2h0M244.1 353.1h0M249 358.5h0M254.7 359h0M261.2 360h0M264.5 359.5h0M268.6 358.7h0M272.6 357.5h0M276.7 356.2h0M283.3 354.4h0M250.6 360.8h0M241.2 356.9h0M238.8 352.1h0" stroke="#d7262c" stroke-width="2.3" stroke-linecap="round" fill="none"/>
<path d="M222.4 361.1h0M219.6 361.9h0M238.9 361.6h0M219.1 362.8h0M234.1 361.2h0M223.2 362.4h0M223.1 361.3h0M224.3 362.3h0M236.4 363h0M221 361.9h0M231.1 362.9h0M236.1 362.6h0M239.4 360.9h0M227.6 362.6h0M222.5 363.3h0M229.9 361.8h0M219 362.5h0M226.3 362.8h0M215.8 363.2h0M226.2 362.6h0M214.8 361.6h0M236.7 362.1h0M225.8 361.7h0M222.1 362.6h0M225.7 362.1h0M223.6 361.7h0M236.3 362.7h0M238.3 362.8h0M226.3 362.5h0M229.4 362.9h0M216.9 362.7h0M223.2 360.3h0M238.4 362.6h0M237.3 360.4h0M230.9 362.8h0M235.9 361.7h0M230.6 362.7h0M222.5 360.8h0M227.3 362.1h0M231.6 363h0M237.8 362.3h0M215.4 362.7h0M226.4 361.7h0M216.9 362.7h0M229.9 362.4h0M225.6 361.9h0M225.1 363h0M217.7 362.3h0M229 361.1h0M217.6 362.7h0M217.2 362.6h0M228.6 363.3h0M229.2 362h0M220.6 362.8h0M228.1 363.1h0M230.1 362.3h0M216.6 362.7h0M226.2 362.4h0M233.4 362.2h0M234.5 360.7h0M233.6 361h0M217.4 362.7h0M219.2 362.3h0M239.8 361.5h0M218.3 362.5h0M235 362.5h0M224.4 363h0M215.1 362.6h0M222.5 362.9h0M233.2 361.2h0M230.9 362.2h0M237.5 360.9h0M237.4 362.3h0M219.1 363.3h0M234.7 362.3h0M232.5 363h0M224.5 362.8h0M234 361.6h0M215.8 362.7h0M230.5 362.1h0M235.7 362.5h0M217.7 361.8h0M221.4 362.5h0M219.8 361.2h0M229.9 362.6h0M217.7 362.8h0M235.6 363.2h0M219.5 362.4h0M232.7 363h0M224.7 361.9h0M228.8 361.5h0M232.7 362.3h0M215.1 360.7h0M223.7 362.5h0M237.5 362.2h0M235.6 362.6h0M236.1 363.1h0M232.5 362.3h0M218.8 362.5h0M236.8 361.5h0M230.7 361.9h0M216.7 362.9h0M238.1 362.6h0M230.1 362.6h0M224.1 363.1h0M226.9 362.3h0M223.9 362.8h0M214.9 362.4h0M215.2 362.8h0M226.7 363h0M218.5 363.3h0M232.2 363.2h0M227.8 362.4h0M221.6 362h0M239.7 362.7h0M240.6 361.9h0M234.8 363h0M237.5 363.1h0M231.3 361.7h0M224.2 362.9h0M237.5 361.3h0M239.2 362.9h0M234.6 362.4h0M234 361.7h0M223.9 363.2h0M229.1 363h0M223.5 363.1h0M223.2 362h0M224.3 363.2h0M221.1 363.2h0M218.3 362.2h0M214.9 362.4h0M226.3 362.4h0M229.6 363.1h0M216.4 362.6h0M222.6 362.6h0M229.1 361.6h0M239.2 361.9h0M229.9 361.1h0M216.8 362.6h0M240.5 361.9h0M224 363.1h0M237.4 362.1h0M216.5 360.9h0M221.9 363.1h0M221.4 362.6h0M221.7 363.2h0M233.1 363.1h0M219.9 362.2h0M230.5 362.2h0M219.8 362.1h0M233.9 361.8h0M216.8 362.9h0M235.8 362.6h0M218.3 362.6h0M219.6 361h0M231.4 362.8h0M238.8 363.1h0M234.3 362.3h0M231.7 361.9h0M223.5 362.3h0M216.2 363h0M231.1 363.1h0M223.4 361.8h0M221.4 363.2h0M226.8 360.7h0M229.4 363.1h0M240.5 361.8h0M233.6 362.8h0M223.3 362.7h0M218.4 362.9h0M234.7 361.5h0M225.8 362.2h0M228.8 362.1h0M231.9 362.5h0M230.4 362.4h0M221.4 361.7h0M233.3 363.1h0M222.8 361.3h0M234.9 362.1h0M222 363.1h0M228.4 362.7h0M214.9 363.1h0M227.1 362.2h0M224.2 361.7h0M240.6 363h0M217.1 361.4h0M215.4 363h0M227.8 363h0M229.2 362.2h0M224.3 360.8h0M218.6 362.5h0M238.8 361.6h0M218.9 361.3h0M221 362.9h0M240.4 361.7h0M223.7 363.3h0M235.6 362.3h0M238.3 363h0M217.5 363.3h0M231.6 362.9h0M225.2 363h0M229.4 363h0M225.4 360.9h0M231.1 362h0M220.6 363.3h0M226 362.4h0M220.8 362.7h0M231.5 361.5h0M222.5 362.5h0M229.6 363.3h0M218.8 361.8h0M221.7 361.6h0M234.3 362.9h0M223.4 362.5h0M227.4 362.8h0M232.5 362.9h0M230.3 361.9h0M237.8 362.9h0M220.2 362.5h0M235.1 362.6h0M237.3 362.4h0M240.7 361.2h0M222.5 362.8h0M240.2 363.2h0M215 362.7h0M233.9 363h0M217.3 362.5h0M217.1 361.8h0M223.6 361.7h0M237.7 362.4h0M240.3 362.5h0M235.4 363.1h0M232.7 362h0M220.8 363h0M226 363.1h0M240.6 363.2h0M223 362.9h0M227.4 362.9h0M218.3 362.7h0M232.6 363h0M218.6 363.2h0M217.6 362h0M223.9 360.7h0M223.8 363.2h0M220.3 361h0M233.8 362.8h0M221.8 362.9h0M216.5 362.5h0M215.8 362.1h0M229.2 363.2h0M224.2 361.6h0M231.8 363.2h0M228.9 361.6h0M240.4 362.8h0M237.5 363.1h0M223 362.2h0M225.7 362.2h0M224.8 363.1h0M225.4 360.8h0M214.8 360.1h0M230.6 362.5h0M230.7 362.9h0M224.6 363.3h0M217.7 362.5h0M236.7 362.8h0M216 360.9h0M232.8 362.6h0M229 361.8h0M223 363.3h0M234.2 363.3h0M237 361.8h0M240.7 363.2h0M220.8 362h0M224.6 361.9h0M233.3 362.2h0M230.7 362.4h0M232.4 362.6h0M228.9 361.9h0M220.5 362.6h0M238.4 362.7h0M227.1 363.1h0M227.2 361.9h0M220.5 361.7h0M228.5 361.3h0M228.4 361.2h0M220.9 362.9h0M219.2 362.7h0M231.4 362.2h0M236.3 361.5h0M215.8 361.9h0M224.7 362.3h0M217.9 361.5h0M218.7 363.3h0M224 362.8h0M235.7 362.1h0M217 363.1h0M225 361.5h0M226.4 363.3h0M227.2 362.7h0M218.6 361.5h0M232.5 362.4h0M220.9 362.3h0M224.4 362.7h0M215.2 362.4h0M220 362.9h0M219.4 363.1h0M233.5 363.1h0M221 362.3h0M236.5 361.9h0M237.1 362.4h0M220 361.5h0M230.8 362.4h0M224.4 362.1h0M224.3 363h0M233.3 363h0M231.6 362.2h0M235.9 362.6h0M229.8 362.4h0M238.9 362.2h0M233.3 360.5h0M224.4 362.8h0M216.6 362.4h0M234.5 362.3h0M227.7 362.3h0M238.2 363.3h0M230.2 363h0M226.8 361.2h0M225.5 362.8h0M227.1 362.4h0M227.5 362.5h0M228.1 362.5h0M234 361.8h0M225.2 361.6h0M229.2 362.9h0M234.8 363.2h0M220.5 362.7h0M216.7 363.1h0M217 362.8h0M234.4 362.9h0M232.5 363.1h0M233.3 362.9h0M232.8 363.3h0M225.6 359.8h0M236 361.3h0M237.5 362.7h0M228.2 362.5h0M214.9 362.4h0M221.6 363.2h0M222.9 363.2h0M229.2 361h0M228.1 363h0M222.7 363.1h0M237.3 362.6h0M221.4 361.2h0M220 362h0M224.5 362.8h0M226.8 361.8h0M224.3 363.2h0M235.6 362.5h0M229.2 360.9h0M216 362.7h0M225.4 362h0M229.5 362.9h0M235.5 362.5h0M222.3 362.8h0M230.2 361.3h0M226.6 362.2h0M237.6 362.8h0M216.2 361.8h0M216 362.6h0M237.2 361.9h0M219.4 362.6h0M238.8 361.4h0M227.7 362.5h0M232.3 362.9h0M220.2 362.4h0M236.6 361.7h0M220.1 361.3h0M217.3 361.6h0M239.5 362.2h0M225.5 362.8h0M238.4 362.6h0M232.6 363.1h0M232.9 363h0M215.8 362.8h0M220.8 362.5h0M229.9 362.7h0M218.7 362h0M238.5 362.3h0M218.7 361.3h0M235.6 362.2h0M215.6 363.2h0M224.6 362.8h0M229 362.7h0M217.2 361.5h0M225.9 362.9h0M232.4 361.7h0M217.9 361.9h0M238.8 360.6h0M228.5 363.2h0M222.3 362.2h0M227.7 361.7h0M239 362.2h0M237.3 362.6h0M230.3 362.8h0M218.4 363.2h0M221.8 361.6h0M220.6 361.9h0M238.9 361.8h0M240 363h0M223.7 361.7h0M216 362.7h0M223.4 362.5h0M234.1 363h0M219.4 363.1h0M216.5 362.4h0M229.3 362.1h0M235.3 362.5h0M230.3 363h0M228.1 363.2h0M217.3 362.9h0M229.8 362.8h0M223.9 362.1h0M219 362.1h0M219.1 362.3h0M236.7 362.9h0M237.5 362.7h0M217.2 363.2h0M237.7 362.3h0M228.7 362.4h0M217.8 362.6h0M228.7 363.2h0M227.9 362.8h0M225.3 362.7h0M220 362.7h0M237.5 362.7h0M227.8 363.1h0M239.3 363.2h0M227.5 362.9h0M232.7 361.9h0M220.7 363.3h0M221.6 362.6h0M215.5 362.2h0M222.3 362.4h0M238 362h0M220.8 362.5h0M230.3 362.9h0M216.3 361.5h0M221.1 360.7h0M215.8 361.4h0M230.9 362.6h0M223.6 361.3h0M235.9 360.8h0M215 362.7h0M239.3 362.3h0M217 362.7h0M221.1 363.1h0M218.7 361.6h0M223.7 362.8h0M220.4 362.7h0M223.4 359.4h0M235.4 362.7h0M227.2 361.3h0M238.4 363.3h0M234.3 362.8h0M231 362.7h0M236.8 363.2h0M233.4 362.8h0M223.8 361.7h0M232.3 360.8h0M234.2 361.9h0M239.2 361.7h0M238.3 363.2h0M235.7 361.1h0M230.1 361.3h0M235.2 362.5h0M237.5 362.4h0M228.6 360.5h0M239.4 361.1h0M235.3 361.3h0M221.3 362.9h0M219.9 362.6h0M226.7 363.2h0M238.4 362h0M232.6 363h0M235.2 362.2h0M235.4 362.2h0M236.3 360.8h0M225.3 361.9h0M236.5 362.4h0M223.6 361.5h0M235.4 362.1h0M214.8 363.1h0M217.6 363.3h0M235.9 361.9h0M226.7 362.5h0M223.5 363.1h0M236.8 362.3h0M230.9 363.2h0M221.8 362.8h0M233 361.7h0M235.8 362.7h0M217.9 363.2h0M236.2 363h0M219.5 362.9h0M224.2 360.5h0M220.6 362.1h0M238.1 362.3h0M225 360.4h0M227.9 363.3h0M240.5 362.5h0M218.9 361.3h0M228.5 362.6h0M239.4 363.3h0M226.6 363h0M223.9 362.5h0M217.3 361.1h0M228.1 362.6h0M224.5 361.1h0M232.1 362.3h0M216.7 362.4h0M239.7 362.4h0M224.2 362.4h0M224.5 361.9h0M228.3 362.2h0M227.7 361.1h0M224.2 362.9h0M236.5 363.2h0M232.6 362.1h0M234.3 362.9h0M238 363h0M215.6 361.4h0M223.2 361.5h0M238 361.2h0M218.5 362h0M215.9 362.5h0M225 363.3h0M222 361.7h0M234.6 362.9h0M225.7 361.9h0M240.3 362.1h0M232.4 361.6h0M224.6 361.6h0M232.8 362.9h0M222 362.5h0M236.3 362h0M235.4 362.9h0M228.2 362.8h0M237.6 362.3h0M219.2 361.7h0M222.9 362.4h0M224.7 363h0M240 362.6h0M222.8 363.1h0M239.4 363h0M226.2 362.3h0M217.5 363.2h0M224.8 362.2h0M239.9 363.2h0M238.4 362.5h0M226.5 362.5h0M235 361.9h0M222.9 362.2h0M227 361.7h0M229.3 362.4h0M221.9 361.6h0M224.2 362.1h0M222.2 362.6h0M231.2 363.2h0M215.8 361.3h0M236.3 362.3h0M239.3 362.9h0M221.6 363.3h0M229 362.9h0M234.4 362.8h0M235.8 362.2h0M217.6 362.7h0M240 361.8h0M231.3 362.6h0M225 361.5h0M239.3 363.3h0M225 362.3h0M235.8 362.9h0M237.5 362.7h0M228.6 361.6h0M238.3 363.1h0M218.2 363.1h0M225.5 362.9h0M227.8 362.3h0M229.8 361.9h0M225.3 362.5h0M236.8 362.9h0M235.3 363h0M232.2 362.7h0M234.4 360.9h0M238.2 363.3h0M234.1 362.6h0M237.7 361.8h0M218.1 362.8h0M230.7 361.6h0M221.9 361.9h0M236.2 362.7h0M221.8 363.1h0M217.2 362.5h0M232.4 361.3h0M224.1 363h0M233 361.3h0M223.2 362.3h0M214.8 362.9h0M221.9 362.8h0M216.3 361.9h0M235.8 362.8h0M215.7 363h0M220.6 362.8h0M231.1 362.8h0M229.6 362.4h0M220.4 363.1h0M236.6 362.5h0M235.8 363h0M235 363.2h0M215.5 362.1h0M216.4 363.3h0M231.2 363.1h0M225.2 361.8h0M228.1 362.6h0M237.4 362.9h0M240.7 362.3h0M223.3 360.6h0M240.5 362.1h0M218.2 362.7h0M226.6 362.6h0M226.6 361.7h0M223.6 362.9h0M222.1 362.2h0M219.8 363.2h0M226.2 361.9h0M219.9 363.1h0M221.6 362.6h0M229.3 362.4h0M234.2 360.4h0M239.5 361.7h0M233.5 362.4h0M216.3 363.2h0M237.3 363.1h0M233.6 362.7h0M224 362.6h0M219 360.9h0M222.7 360.7h0M215.9 362.8h0M238.2 362.3h0M235.7 362.8h0M217.5 363.2h0M218.7 363.1h0M240.6 362h0M238.5 362.9h0M236.2 362.1h0M218.1 362.2h0M228 362.4h0M220.2 363.3h0M238.4 363.1h0M233.3 360.3h0M226.1 362.2h0M233.8 361.7h0M236.7 361.9h0M218.2 362.5h0M230 363.2h0M224.6 361.2h0M235.2 363.2h0M226.8 361h0M228.7 362.7h0M216.6 362.6h0M237.8 361.9h0M227.4 362.8h0M221.1 362.7h0M238.4 362.9h0M230.1 362.9h0M218 362.9h0M230 362.1h0M231.3 363h0M216.5 362.1h0M233.6 362.1h0M225.2 362.9h0M232.3 363.1h0M231.7 362.5h0M232.8 362.7h0M238.4 363.2h0M230.4 362.5h0M240.5 363h0M220.7 361.7h0M236.2 362h0M231.3 363.3h0M217.2 363h0M240.2 363.2h0M216 363h0M221 362.6h0M232.3 363h0M239 361.6h0M221.6 361.3h0M218.7 361.4h0M222.1 362.8h0M236.3 362.9h0M233.6 361.7h0M223.1 362.1h0M233.3 363.2h0M234.9 363.2h0M234.3 363.2h0M229.5 362h0M230.5 360.6h0M230.1 363h0M221.3 362.3h0M229.3 362.6h0M220.5 360.8h0M232.6 358.6h0M233.7 362.6h0M227.9 360.7h0M223.8 360.7h0M227.4 358h0M229.3 358.9h0M226.2 359.9h0M234.3 361h0M234.3 361.3h0M225.4 361.9h0M232.9 361.2h0M236.4 360.5h0M233 362.3h0M222.3 363.3h0M231.7 360.8h0M227.9 361.5h0M227.1 360.5h0M235.4 360.9h0M232.4 361.7h0M234.1 357.9h0M232.1 359.5h0M234.3 362.6h0M227.5 362.1h0M235.8 362.2h0M227.6 362.8h0M225.3 361.4h0M226.1 362.8h0M227.7 362.3h0M236.4 360h0M232.9 358.4h0M234.1 359.1h0M224.9 363.1h0M224.5 362.9h0M224.2 363h0M234.9 361.3h0M233 362.2h0M233.1 359.8h0M229.1 360.4h0M222.1 362.3h0M230.7 361.3h0M226.4 356.9h0M223.1 361.8h0M229.1 361.4h0M235.7 360.7h0M227.1 360h0M236.2 361.3h0M221.9 362.8h0M235.2 361.3h0M220.6 363h0M236.6 359.3h0M223.3 359.7h0M231.7 361.8h0M232.6 363.3h0M224.6 361.4h0M220.9 362.7h0M224.7 361.7h0M236.2 361.2h0M231.1 360.6h0M230.2 362.6h0M221.5 361.3h0M221.5 360.9h0M222.7 363.1h0M222.3 356.6h0M231.6 363h0M224.9 363.1h0M222.1 361.7h0M225.4 360h0M227.7 361.2h0M232.3 358.4h0M226 360h0M234 358.6h0M224.1 362.4h0M234.4 362.1h0M225 359.7h0M220.6 361.3h0M223 358.2h0M231.2 360.1h0M223.4 361.4h0M222.8 357.4h0M226.7 359.2h0M231.1 361.7h0M221.5 362.5h0M220.7 362.5h0M236.1 362.2h0M226.4 363.1h0M233.3 361.9h0M224.5 361.2h0M222.2 361h0M224.5 362.7h0M226.6 361.3h0M232.9 363h0M224 361.7h0M226.7 360.9h0M228.1 360.6h0M234.6 359.7h0M234.1 362.1h0M224.3 360.6h0M222.3 362.8h0M227.9 363h0M222.3 362.2h0M228.2 362.5h0M227.6 361.7h0M222.4 361.1h0M228.1 362.3h0M235.7 362.4h0M224.1 363h0M232.6 358.6h0M236.1 361.3h0M234.4 358.6h0M229 359.4h0M224.3 360.9h0M223.9 358.8h0M221.8 362.7h0M227.9 357.6h0M232.4 360.8h0M225.6 362h0M223.8 362h0M222.4 361.2h0M236.5 361.7h0M220.6 363.1h0M231.1 362.7h0M228.1 363.2h0M232.5 361.5h0M228.6 362.9h0M230.3 362.5h0M233.5 362.1h0M235.9 363h0M226.4 358.3h0M235.2 362.5h0M230.2 361.6h0M235.1 361.8h0M221 362.4h0M227.6 362.2h0M232.6 362h0M229.9 360.9h0M231.5 362.3h0M220.6 361.5h0M228.2 362.7h0M228.8 360.5h0M236.6 362.4h0M230.6 362.3h0M223.7 358.6h0M236.7 361.5h0M236.1 362.8h0M225.7 361.4h0M231.3 362h0M220.8 362.2h0M233.9 362.2h0M220.4 361.8h0M227.8 362.1h0M229.6 363h0M224.3 362h0M222.4 361.9h0M222.7 362.9h0M228.9 358.7h0M221.4 360.7h0M224.2 361.6h0M227.8 360.4h0M227.1 360.4h0M234.5 360.9h0M236 362.6h0M227.1 357.3h0M221.3 362.3h0M220.7 362.7h0M225.2 361.7h0M234.6 356.9h0M227.3 358.4h0M233.6 362.4h0M231.1 362h0M224.4 363.2h0M231.2 359.4h0M235.1 360.9h0M236.1 362.9h0M235.1 362.4h0M229.7 361.7h0M224.6 359.8h0M224.3 361.2h0M231.5 361h0M221.6 363.1h0M228.1 359.8h0M231.4 363.2h0M228.2 363h0M231.5 362.4h0M223.4 359.8h0M236.1 362.9h0M227.5 361.5h0M236.1 362.6h0M226 345h0M226.7 358.9h0M226.4 356.4h0M225.6 348.7h0M225 359.1h0M224.5 358.2h0M225.6 360.7h0M224.9 355.3h0M226.7 352.2h0M225.7 352.3h0M225.9 349.9h0M225.9 360h0M226.6 363h0M225.5 360.2h0M226 345h0M226 347.4h0M226.2 351.2h0M225.9 344.9h0M225.7 348.7h0M226.9 358.4h0M226.5 351.8h0M226 346.6h0M224.3 359.5h0M226.4 353.1h0M224.7 358.1h0M224.6 363.2h0M225.3 350h0M225.2 358.9h0M226.5 349.8h0M224.4 362.9h0M226.1 345.5h0M225.4 360.5h0M225.6 353.3h0M225.9 355.3h0M224.6 358.4h0M224.7 361.7h0M226.4 361.6h0M225.6 350h0M226.1 348.2h0M225.9 356.8h0M227.4 359.7h0M225.1 352.6h0M226.6 360.4h0M226.5 356h0M226.9 358.9h0M225.6 348h0M225.4 352.1h0M226.3 349.8h0M225.7 348.2h0M226.5 361.5h0M225.3 352.5h0M226.2 359.6h0M226.4 361.2h0M225.2 358.7h0M226 355.2h0M225.4 349.5h0M225.6 349.5h0M226.3 357.8h0M226.1 350.1h0M225.8 346.1h0M226.4 357.4h0M224.9 358.3h0M226.8 359h0M226.1 347.5h0M226 345h0M225.4 357.4h0M225.4 349.6h0M225.3 351.7h0M226 362.4h0M227.4 360.4h0M225.9 346.6h0M224.7 359.5h0M226 353.6h0M226.5 356.4h0M226.5 353.2h0M224.4 361.3h0M225.9 355.9h0M226.4 358.5h0M225.4 359.1h0M226.4 354.2h0M225.8 348.6h0M226.9 354.8h0M226 345.5h0M225.8 361.3h0M225.6 351.2h0M227.8 362.6h0M225.8 346h0M226.2 354.4h0M224.7 357.6h0M226.2 349h0M225 355h0M224.9 355.8h0M225.9 344.9h0M226.7 357.8h0M224.5 360.7h0M224.7 362h0M226.6 353.2h0M224.8 360.1h0M225.9 348.7h0M224.9 356.9h0M227.4 358.7h0M225.1 361.1h0M226.3 349.2h0M225.9 346.1h0M226 345.1h0M225.8 357.8h0M226.2 349.7h0M224.8 360.8h0M225.9 345h0M225.8 347.8h0M225.2 358.6h0M227 354.4h0M227.2 360.5h0M225 357.2h0M225.8 349.1h0M225.7 359.7h0M226.2 347.6h0M225.1 352.3h0M226 348.8h0M226.1 346.2h0M226.9 357.1h0M225.8 347.7h0M225.6 356.3h0M225.6 356.6h0M224.9 361.2h0M225.9 346h0M226.5 351.2h0M225.7 348.9h0M226 345.8h0M225.9 344.4h0M226.2 348.9h0M226.4 358.5h0M226.8 356h0M226.1 360.8h0M226.8 356.9h0M226.9 356.7h0M226.2 347.1h0M227.5 360.7h0M226.1 349.1h0M225.3 350.9h0M226 346.7h0M225.6 354.6h0M226.2 348.4h0M225.8 346.7h0M225.3 356.8h0M225.3 361.4h0M227.1 362.8h0M224.6 359h0M226.8 362h0M225.8 359.5h0M226.7 355.6h0M225.9 345.1h0M226.5 351.3h0M226.8 354.3h0M225.7 349.3h0M226 346.7h0M226.3 361.3h0M225.9 347.5h0M225.8 354.1h0M226 346.5h0M225.5 359.3h0M227.1 356.4h0M225.5 350h0M225.8 345.9h0M225.8 352h0M225.9 349.6h0M226 361.5h0M226.1 347.7h0M225.2 356.5h0M226.2 349.1h0M227.2 359.1h0M225.9 344.4h0M226.5 356h0M225.8 345.6h0M225.4 357.6h0M225.6 349.4h0M225.9 352.9h0M225.4 350.6h0M226 345.1h0M226.5 352.6h0M227.3 359.8h0M226.4 352.8h0M225.9 346.8h0M225.8 345.7h0M225.9 362.9h0M226.1 346.2h0M225.9 345.1h0M225.9 345.5h0M226.4 360.6h0M225.9 348h0M225.5 351.8h0M225.7 358h0M225.9 353.5h0M224.1 361.5h0M226.5 356.8h0M225.7 349h0M226 358.4h0M226.3 360h0M225.8 346.1h0M226.3 352.1h0M226.3 333.2h0M225.9 334.1h0M225.6 331h0M226.9 328.8h0M226.2 340.9h0M226.6 349.7h0M226.2 335h0M225.4 348.3h0M226.1 327h0M232.8 355.6h0M231.4 357.7h0M231.9 359.6h0M231.9 349.2h0M231.4 359.6h0M231.2 361.4h0M232.2 356.1h0M232.1 359.1h0M233.1 353.2h0M233 352.2h0M231.6 352.5h0M231.7 349.8h0M231 359.4h0M232.7 347.3h0M231.9 354.1h0M231.9 353.6h0M232.1 347.5h0M233.2 359.8h0M231.5 350.2h0M232.3 343.9h0M232.5 355.2h0M232.1 342.3h0M231.8 353.4h0M232.4 350.6h0M232.6 346.5h0M231.8 360h0M232.3 343.8h0M232.4 349.8h0M233.2 355.5h0M232 350.7h0M231.1 359.1h0M232.3 342.8h0M231.6 362.7h0M232.2 352.3h0M233 355h0M232.2 355.3h0M232.2 342.1h0M231.9 352.4h0M232.4 354.5h0M232 345.3h0M231.9 354.8h0M233.1 355h0M231.8 351h0M232.9 355.7h0M232.7 359.6h0M231.1 362.8h0M233.2 361.9h0M231.4 359.9h0M231.4 362h0M232.4 346.5h0M232.3 342.5h0M232.8 350.7h0M233.5 361.3h0M231.6 353.4h0M232.5 346.2h0M231.3 354.5h0M232.3 343.3h0M232.8 349.7h0M230.7 362.4h0M230.7 360.5h0M232.3 347.1h0M231.1 360.7h0M232.5 359.2h0M232.7 347.9h0M233.2 355.1h0M232 353.4h0M231.5 357.5h0M232.2 341h0M231.8 347.2h0M231.2 359.2h0M232.7 355.3h0M232.3 362h0M231.7 347.7h0M232.7 353.3h0M232.1 350.1h0M232.2 343.2h0M231.9 355.6h0M232.2 341.7h0M232.2 342.4h0M231.2 360h0M232.6 354.5h0M233.2 363.2h0M232.2 345.3h0M233.2 363.2h0M232.5 353.8h0M232.5 350.3h0M233.1 354h0M232.2 341.5h0M231.9 349.2h0M231.7 354.7h0M232.3 342.6h0M232.4 345.3h0M232.2 340.7h0M232.8 356h0M232.5 357.3h0M233.2 359.7h0M231.8 352.1h0M232.1 342.2h0M232.2 342h0M232.9 359.9h0M232.8 350.2h0M232.1 349.9h0M232.1 342h0M231.9 345.5h0M231.2 357h0M232.1 343.4h0M231.9 346.7h0M232.3 346.6h0M232.2 361.1h0M231.9 346.8h0M231.9 348.3h0M233.1 354.8h0M232.3 341.7h0M232.3 353.5h0M232.3 344.8h0M232.9 352.9h0M233.1 354.1h0M231.5 352.5h0M231.9 346.2h0M231.7 347.8h0M232.2 340.7h0M231.8 346.4h0M232 348.7h0M233 357.6h0M232.1 362.5h0M233.3 361.3h0M232 342.9h0M232.1 352.7h0M232.4 346.9h0M233.1 355.5h0M231.2 359.1h0M231.9 344.7h0M232.2 359h0M231.4 355.6h0M232.2 342h0M232 345.3h0M232.1 342.4h0M232.2 342.6h0M232.2 341.1h0M232.2 348.9h0M232.1 343.8h0M233.5 361.1h0M232.3 344.9h0M231.9 346.3h0M232.8 352.7h0M232.2 341.3h0M232.7 359.6h0M232 350.6h0M231.1 359.5h0M232.2 352.5h0M231.8 357.2h0M232.6 350.6h0M231.7 349.8h0M232.1 343h0M232.2 341.4h0M232.4 360.1h0M232.2 341.2h0M231.9 350.8h0M231.2 362.6h0M231.5 360.5h0M232.3 348.9h0M232.2 341.6h0M233.2 355h0M232.2 348.8h0M232.3 343.6h0M232.4 355.1h0M233.3 356.4h0M233.4 357.7h0M230.6 361.8h0M231.7 350.7h0M231.5 351.7h0M232.3 344.2h0M232.6 347.7h0M232.2 340.6h0M231.7 347h0M231.9 362.2h0M232.2 341.1h0M231.4 350.3h0M233 353.8h0M232.6 349.8h0M231.2 363h0M233.1 359.2h0M233.5 361h0M233.1 357.2h0M231.9 351.5h0M232.2 341.2h0M231.7 347.4h0M232.5 344.3h0M232.9 360.8h0M231.3 357.1h0M232.5 355h0M232.3 341.5h0M232.2 340.6h0M231.8 348.4h0M232.2 346.7h0M233.1 355.1h0M231.3 357.5h0M231.2 359.7h0M232.6 349.8h0M232.2 359.6h0M231.9 339.2h0M232 339.8h0M232.5 349.3h0M232.3 345.3h0M232.2 335.9h0M232.8 345.2h0M231.9 347.9h0M194.7 360.3h0M201.2 360.3h0M206.6 360.8h0M212.7 360.8h0M248.2 361.8h0M260 360.5h0M261.6 360.3h0M214.3 362h0" stroke="#0a0a0a" stroke-width="2.3" stroke-linecap="round" fill="none"/>
<text x="245.9" y="302.8" font-size="8.7" text-anchor="start" fill="#d7262c" font-style="italic">CXCL10</text>
<line x1="263.8" y1="305.6" x2="255.1" y2="313.2" stroke="#d7262c" stroke-width="0.75" />
<path d="M252.6 315.4 L254.3 311.6 L256.6 314.2 Z" fill="#d7262c"/>
<path d="M251.4 316.6h0" stroke="#d7262c" stroke-width="2.3" stroke-linecap="round" fill="none"/>
<path d="M345.3 361.2h0M346.4 355.4h0M346.1 361.6h0M345.3 360.7h0M345.7 362.3h0M346.1 357.4h0M345.3 362.4h0M345.3 359h0M345.6 361.6h0M346 361.2h0M347.3 354.7h0M344.4 361.3h0M345.8 361.1h0M344.2 361.9h0M344.9 361.1h0M344.9 360h0M345.1 358.9h0M345.4 360h0M346.1 359.4h0M347 361.4h0M345.5 358h0M346.3 357h0M346.5 355.3h0M345.1 360.8h0M347.1 357.1h0M346.8 360.6h0M345.9 361.7h0M345.1 361.2h0M346.7 362.2h0M347 357h0M347.9 362.2h0M346.7 355.6h0M347.2 359.9h0M346 359.4h0M345.5 361.5h0M345.4 361.5h0M345.4 361.6h0M347 357.4h0M347 356.7h0M345 359.7h0M345.7 361.2h0M345.1 360.6h0M346.7 359.3h0M346.5 361h0M346.3 359h0M346 361.3h0M346.6 359.7h0M344.4 358.6h0M346.1 356.3h0M345.4 358.7h0M344.1 360.9h0M346.1 360.8h0M347.4 355.6h0M347.1 355.9h0M346.2 361.7h0M345.5 361.9h0M346.3 362.1h0M345.2 359.9h0M346.9 354.3h0M346.8 359.3h0M344.5 362.3h0M346.2 359.2h0M346.9 354.9h0M343.3 362.1h0M347.1 360.8h0M344.8 360.5h0M344.8 361.7h0M346.9 361.8h0M345.6 358.6h0M344.8 360.9h0M347.6 353.9h0M344.4 362h0M345.3 360.1h0M347.9 359h0M344.7 361h0M344.7 361.4h0M321.2 359h0M347.9 345.3h0" stroke="#2f3d92" stroke-width="2.3" stroke-linecap="round" fill="none"/>
<path d="M358.1 351.3h0M364 348.9h0M364.2 334.2h0M358.7 346.4h0M364.1 350.3h0M359.5 341.2h0M365 343.8h0M364.7 349h0M361.8 344.2h0M364.4 337.8h0M362.9 339.6h0M358.6 346.1h0M360.5 355.7h0M360.8 342h0M362.7 359.9h0M362.8 345.3h0M361 349.2h0M359.5 331.7h0M363.4 336.5h0M363.8 345h0M360.5 345.2h0M360.1 333.3h0M363 356.7h0M364.3 354.7h0M360.7 353.9h0M358.9 355.6h0M364.6 349.6h0M357.5 335.5h0M364.9 334.5h0M362 358.5h0M358.7 356.1h0M360.8 342.9h0M360.6 338h0M359.7 332.1h0M361.9 354h0M363.2 344.4h0M362.3 350.3h0M360.8 358.5h0M362.3 335.7h0M361.7 342.7h0M361.1 336.7h0M357.1 333.6h0M362.2 333.2h0M362.9 342h0M357.3 353h0M357.7 346.3h0M358.8 351.7h0M363 341.7h0M360.4 346.7h0M363.2 349h0M364.9 350.7h0M359.4 337.4h0M359.3 338.9h0M357.8 335.6h0M358.9 346.8h0M361.2 344.2h0M362 358.2h0M360 339.6h0M359.4 359.7h0M361.7 352.8h0M364.8 359h0M362.2 357.9h0M363.7 343.9h0M362.4 333h0M363.6 356.3h0M363.3 333.6h0M359.9 338h0M357.1 337.2h0M362.7 343.1h0M362.9 342h0M364.3 340h0M360.7 344.2h0M359 351.6h0M357.9 340.8h0M362.8 344.9h0M359.9 359.4h0M364.9 357.2h0M358 346.1h0M362.6 354.5h0M362.4 343.2h0M362.8 338.1h0M364.6 337.9h0M358.6 335.4h0M363.6 360.2h0M360.8 346.2h0M362.5 352.8h0M358.9 358.4h0M359.1 351.2h0M364.7 348.6h0M359.9 355.9h0M359 346.5h0M358.2 334.5h0M360.3 355.8h0M364.8 338.7h0M362.9 347.2h0M364.1 341.9h0M358 355.6h0M363.3 339.5h0M363.4 338.5h0M362.8 360.4h0M359.7 341.6h0M364.8 336.5h0M365.1 353h0M359.2 346.6h0M360.6 332h0M360.2 347.8h0M363 332.3h0M364.4 336.1h0M360.1 344.1h0M360.9 344.2h0M356.7 333.3h0M362.3 337.2h0M357.4 345.3h0M360.7 337.8h0M360.8 336.7h0M362.9 345.4h0M363.2 349.7h0M359.8 340.2h0M363.2 333.1h0M360.3 349.2h0M361.2 359.1h0M364.2 358.1h0M362.7 331.6h0M360.2 338h0M364.1 335.3h0M360.8 353.1h0M360.8 348.8h0M361.9 332h0M358.1 333.9h0M361.7 348.3h0M359.2 338.4h0M363.3 348.7h0M368.3 341h0M362.1 344.3h0M359.9 334.4h0M362.8 348.1h0M360.2 348.9h0M360.1 349.5h0M365 358.2h0M362.2 343.3h0M364 337.7h0M359.7 345h0M363.8 346.4h0M359.6 360.3h0M361.2 354.2h0M362.9 351.8h0M363 338.3h0M363.8 359.2h0M362.4 342.7h0M356.7 333.9h0M360.1 341.7h0M362.8 334.2h0M364.7 342.9h0M359.9 335.6h0M361.1 351.6h0M359.1 354.6h0M359.6 341.1h0M357 355.2h0M357.9 338.8h0M357.2 340.3h0M358 339.7h0M357.3 358.3h0M364.3 334.7h0M361.6 341.2h0M360.8 340.7h0M359.2 335.8h0M364.8 340h0M361.6 346.8h0M362.8 354.1h0M364.1 342.8h0M362.4 340.9h0M359.2 352.8h0M364 334.3h0M364.1 348h0M360.9 357.1h0M359.2 335.6h0M362.5 358.5h0M362.7 336.8h0M358.7 351.8h0M364.6 358.6h0M362.1 345.1h0M357.4 356.3h0M363.3 345.8h0M364 332h0M361.6 343.9h0M362.6 336.3h0M360.9 352.1h0M356.7 342.6h0M358 346.4h0M362.9 343.4h0M365.2 341.6h0M358 349.7h0M357.7 353.1h0M362.2 346.2h0M359.6 344.2h0M358 347.8h0M362.8 354.8h0M357.2 350h0M362.1 357.4h0M364.5 345.4h0M364.3 338.9h0M360.3 335.5h0M360.8 335.5h0M364.5 355.5h0M364.9 349.2h0M357.5 346.8h0M364.7 351h0M359.1 332.2h0M357.2 334.1h0M359 342.3h0M365 347h0M364.5 333h0M362.8 339.7h0M362.4 359.5h0M358.1 353.9h0M360.1 335.5h0M360.4 338.5h0M361.8 347h0M360.5 334.3h0M363.4 340.9h0M365.5 341.5h0M363.3 332.9h0M366.4 350.5h0M360.9 345.4h0M364.2 350.6h0M364.6 343h0M361.6 338.1h0M362.1 356.3h0M363.6 348.1h0M360.4 338.2h0M364.5 331.9h0M366.4 357.6h0M362.3 356.3h0M364.3 354.8h0M364.9 340.6h0M363.6 345.7h0M357.3 339.6h0M362 339.4h0M357.8 346.2h0M363.4 356.9h0M362.4 341.3h0M361.3 341.4h0M360.7 354.1h0M358.7 341.7h0M357.1 334.7h0M362.5 344.6h0M359.1 346.2h0M357.3 358.5h0M358.3 337.9h0M359.3 357.6h0M360.6 329h0M364.2 330.2h0M357.2 326.8h0M361.8 321.6h0M363.5 321.6h0M357.3 320.7h0M359.9 331.9h0M361.3 326.7h0M359.3 321.4h0M362.3 324.4h0M362 329.4h0M360.3 322.2h0M358.2 331h0M361.4 324.2h0M357.1 331.9h0M360.3 328.3h0M363 326.3h0M361.3 321.2h0M362.4 323.8h0M359.9 328.6h0M362.5 321.8h0M361 328.4h0M363.8 328.9h0M361.9 322.9h0M358.8 329.7h0M359.2 330.8h0M361.2 331.5h0M363.4 331.7h0M359.6 329.4h0M361.2 325.5h0M359.9 329.7h0M358.5 330.8h0M358 326.2h0M359 322h0M361.1 320.6h0M359.8 327.4h0M360.9 329.6h0M357.5 328.2h0M357.1 324h0M363.1 321.9h0M361.3 321.6h0M361.8 324.5h0M363 330.5h0M364 331.6h0M364.1 324.8h0M358.9 329.2h0M360.7 323.9h0M357.6 330.1h0M361.8 330.7h0M359.9 327.1h0M361.7 307.6h0M362.1 314.3h0M367.1 314.3h0M357.2 301.7h0M359.2 318.8h0M361.7 316.3h0M357.1 304.5h0M363.9 308.6h0M357.1 301.1h0M367.1 305.7h0M359.9 315h0M361.8 308.1h0M360.3 314.2h0M362.8 307.1h0M361.9 304.7h0M362.8 315h0M361 301.1h0M359.7 311.4h0M363.4 307.8h0M359.1 307.3h0M357.8 317.5h0M358.1 318.1h0M363.3 311.1h0M364.2 308.2h0M360.7 317.7h0M359.3 301.2h0M363.9 317.6h0M361.5 315.1h0M364.9 306.5h0M367.5 311.4h0M366.4 338.7h0M368.6 350.9h0M368.2 345.7h0M367.6 337.5h0M367.8 342.6h0M365.7 341.8h0M367.9 341.2h0M368.7 351.4h0M365.3 344.5h0M366 353.6h0M367 351.5h0M365.1 345.2h0M368 340.2h0M368.5 345.6h0M367.1 353.6h0M365 357.6h0M367.1 344.2h0M368.5 336.2h0M367.3 338.4h0M366.5 341.2h0M366.2 345.7h0M367.7 338.9h0M365.3 349.4h0M365.4 357.4h0M366.1 340.1h0M371.4 262.5h0M364.8 280.2h0M366.5 280.2h0M363.2 287.1h0M369.3 287.1h0M366 297.3h0M373 300.6h0M364.8 302.3h0M362.8 305.9h0M371.4 308.7h0M372.6 307.4h0M361.2 311.2h0M364 315h0M368.5 327.7h0M366.9 336.6h0M365.2 339.2h0M367.7 321.4h0M366.5 320.1h0M370.1 340.9h0" stroke="#d7262c" stroke-width="2.3" stroke-linecap="round" fill="none"/>
<path d="M362.6 361.3h0M353 362.7h0M362.9 359h0M362.7 362.1h0M353.1 358.8h0M357.1 362.4h0M352.1 362.1h0M351.9 362.1h0M359.4 362.2h0M343 360.7h0M354.2 360.2h0M352.5 361.6h0M351.4 360.2h0M353.3 361.5h0M354.9 360h0M360 362h0M354.9 361.3h0M361.8 360.6h0M353.6 359h0M349.4 361.8h0M353.7 361.9h0M357.1 362.1h0M359.3 362.9h0M355.2 363.1h0M358.7 360h0M345.7 361.9h0M350.2 362.7h0M356.4 362.5h0M364.8 360.7h0M359.3 360.4h0M356.6 358.6h0M354.6 363.2h0M355.5 362.5h0M355.5 360.5h0M358.2 363.1h0M357.7 362.5h0M351.4 359.7h0M354.1 361.8h0M360 360.3h0M354.9 360.2h0M359.7 360.9h0M354 362.4h0M363.9 359.6h0M343.2 362.5h0M356.4 362.5h0M363.3 360.8h0M347.6 361.7h0M357.6 361.8h0M358.3 362.9h0M364.4 362.5h0M347.7 363h0M352.6 362.9h0M357.8 362.9h0M366.7 361.5h0M350.7 363.1h0M358.8 362.5h0M356.7 362.1h0M343.1 359.8h0M353.3 363.3h0M350.6 363.1h0M357.7 362.1h0M359.7 363h0M345.4 362.4h0M353.8 361h0M362.2 361h0M344.2 362.6h0M368.5 360.7h0M348.2 362.8h0M354.6 362.5h0M351 362.5h0M361.3 362.2h0M356.1 363.2h0M352.9 362.9h0M358.5 359.5h0M350.7 362h0M342.1 361.9h0M350.8 362.2h0M351.4 362.3h0M359.2 359.1h0M350.5 362.7h0M349.7 361.1h0M354.8 362h0M344.9 362.8h0M356.4 359.1h0M364.1 360.9h0M356.4 362.6h0M355 362.6h0M350.9 362.6h0M357.1 361.7h0M354.8 362.7h0M361.1 362.6h0M353.8 361.1h0M345.7 361.7h0M361.4 362.9h0M350.9 360.9h0M351.3 362.1h0M353.6 362.1h0M350.2 361.8h0M366.1 362.2h0M353.7 360.9h0M349.4 362.8h0M357.4 362.3h0M360.9 363.1h0M349.3 361.3h0M354.3 359.1h0M356.8 363h0M355.1 361.5h0M364.2 360.1h0M352.5 359.9h0M354.6 362.5h0M348 361.6h0M348.6 360.2h0M356.9 362.6h0M359.5 363.1h0M351.9 362.8h0M356.2 363h0M362.6 360.7h0M363.2 362.8h0M355.9 362.6h0M367.3 361.8h0M353.4 362.4h0M369.4 360.8h0M358.3 363.2h0M356 361.3h0M362.3 362.7h0M363.3 362.9h0M346.5 361.9h0M345.5 362h0M357.9 361.7h0M355.8 362.8h0M348.2 360.2h0M351.1 361.5h0M367.4 363h0M362.2 360.6h0M360.8 362.6h0M356.5 362.3h0M351.4 362.6h0M352.3 358.1h0M362 360.7h0M348.4 362.4h0M356.2 361.6h0M359.3 360.1h0M356.6 362.3h0M345.3 362.4h0M346.4 360.2h0M363 362.4h0M356.9 362.4h0M353.9 362.8h0M347.9 359.2h0M364.2 360.3h0M352.1 360.5h0M354.6 362.7h0M349.1 360.9h0M355.9 361.7h0M359.3 362.9h0M366.6 362.4h0M350.8 358.5h0M361.8 361.6h0M354.1 363.1h0M349.5 362.3h0M354.5 362.8h0M354.5 362.7h0M370.8 363.2h0M367.8 361.9h0M352.7 362.8h0M354.9 363.2h0M368 360.8h0M369.5 361.5h0M361.5 360.5h0M352.3 363.2h0M355.3 362.3h0M351.8 362.5h0M354.2 361.7h0M350.4 360.9h0M354.3 363.2h0M355.4 362.9h0M356.6 358.8h0M356.6 361h0M350.3 363.2h0M351.2 362.6h0M359.6 363.1h0M352.2 361.6h0M348 362.3h0M362.4 362.4h0M350.4 360.5h0M346.1 361.6h0M351.6 361h0M354.9 360.7h0M353.1 361.4h0M356.7 362h0M357.7 359.5h0M340.5 359.4h0M351.1 361.9h0M352.6 362.2h0M367 361.8h0M353.4 363h0M355.9 362.5h0M361.6 362h0M350.7 362.9h0M364.7 360.7h0M358.3 360.3h0M353.6 361.1h0M341.8 363.2h0M353.1 362.1h0M350.6 360.7h0M358.2 362.1h0M354.6 358.6h0M356.7 362.3h0M351.4 362.5h0M355.6 362.1h0M349.9 359h0M352 360.8h0M352.7 361.2h0M350.6 362.3h0M355.1 362.5h0M357.7 361.3h0M358.1 361.9h0M364.2 362.4h0M357.3 362.3h0M344 362.6h0M350.2 360.6h0M358.8 361.3h0M355.3 361.5h0M352.2 363.3h0M365.9 362.5h0M344.1 361.5h0M350.6 360.9h0M351.9 363.1h0M350.4 362.2h0M362 361h0M357.5 362.6h0M365.5 361.6h0M349 362.7h0M350.7 362.4h0M347.7 361.1h0M341.3 361.3h0M347.9 359.6h0M353.3 361.9h0M355.9 363.3h0M370.4 361.4h0M366.2 361.1h0M358.6 362h0M346.1 362.2h0M360.4 362.9h0M354 361.7h0M370.5 360.6h0M356.1 362.5h0M358.6 363.3h0M357.1 362h0M367 361.3h0M345.3 363.2h0M359.5 360.2h0M352.5 362.7h0M354.9 361.5h0M358.6 363.1h0M357 362.1h0M353.9 362.4h0M355.8 361.3h0M360.4 362.8h0M352.4 362.3h0M351.9 360.9h0M353 363h0M353 359.6h0M351.3 363.1h0M349.6 362.4h0M343 362.9h0M352.8 361.4h0M359.8 361.4h0M357 359.3h0M358.8 360.6h0M352 362h0M365.7 359.7h0M356.5 362.2h0M359 361.9h0M352.1 360h0M359.2 361.5h0M367.4 362.6h0M354 362.5h0M369.8 359.7h0M356.4 360.9h0M352.9 362.5h0M354 362.4h0M356 361h0M348.9 362.7h0M347.3 363h0M357.5 361.3h0M357.4 361.2h0M354.6 361.3h0M352.8 358.2h0M353.2 361.7h0M347.3 363h0M359.2 361.2h0M347.8 361.9h0M355.1 363.2h0M353.6 361h0M356.8 361.8h0M356.4 361.5h0M353.9 362.8h0M342.3 361.7h0M353.8 362.5h0M368.1 361.9h0M350.2 362.3h0M359.8 358.3h0M353.1 362.9h0M350.7 362.6h0M353 359.5h0M353.9 363h0M348.4 361.9h0M356.3 362.3h0M360.4 361.9h0M352.6 362.1h0M348.6 361.7h0M354.4 362.9h0M357.8 359.6h0M359.2 360.3h0M356.1 361.9h0M356.6 363.2h0M350.9 361.7h0M366.1 361.1h0M357.7 362.3h0M359.4 358.6h0M355.3 362.6h0M353.4 357.5h0M357.8 362.1h0M344.6 362.2h0M340.7 361.8h0M353.6 361.6h0M358.7 359.4h0M365.4 361.9h0M352.8 361.8h0M353.5 362h0M353.2 362.8h0M353.1 360.5h0M357.4 362.8h0M355.9 362.6h0M350.3 358.7h0M352.9 362.9h0M359.5 362.9h0M348.6 361.1h0M357.5 362h0M356.6 359.5h0M360.2 359.7h0M356.3 361.4h0M354.3 363.2h0M362.1 362.2h0M356.9 360.6h0M340.1 360.1h0M351.5 362.2h0M353.3 363.1h0M360 363.1h0M356.2 362.2h0M356.4 361.5h0M354.3 362.1h0M355 362.7h0M351.2 362.9h0M356.4 359h0M363.1 362h0M353.2 362.5h0M354.9 361h0M352.4 360.7h0M356.4 361.2h0M365.2 359.3h0M353.3 362h0M354.4 361.8h0M358.7 363.3h0M349.2 362.2h0M355.7 361.5h0M357.8 362.6h0M354.4 360.4h0M354.5 363.2h0M341.1 362.9h0M355 362.4h0M352.6 358.9h0M360 361.4h0M364.1 361.6h0M347.7 361.5h0M362.2 361.6h0M355.4 362.9h0M352.8 361.4h0M357.8 357.6h0M359.3 360.4h0M351.3 363h0M355.5 362h0M349.5 362.8h0M363.8 361.5h0M355.1 358.2h0M359.3 363.2h0M354.3 360.8h0M358.9 362.4h0M340.4 359.8h0M366.1 362.1h0M366.5 361.1h0M350 357.5h0M354.8 362.8h0M347.4 359.8h0M354 362.5h0M354.2 363h0M358.2 362.6h0M354.5 358.4h0M364.8 362.6h0M349.9 362.2h0M358.2 362.1h0M346.5 361.4h0M349.2 361.1h0M342.9 361.9h0M355.5 362.9h0M354 360.5h0M362.3 362h0M357.4 360.8h0M354.3 362.2h0M348.2 359.8h0M348.1 362.6h0M354.5 361h0M353.5 360.7h0M351.9 362.9h0M370.3 361.4h0M356 362.6h0M360.3 363h0M355.2 361.7h0M354.7 363.3h0M347.5 363.2h0M351.3 362.3h0M362.3 362.8h0M354.3 363.3h0M367.9 362h0M355.4 362.5h0M353.3 362.4h0M353.9 361.1h0M350.5 361.9h0M340.4 361.9h0M360.5 360h0M363.8 362.4h0M366.6 361.6h0M356.6 361.6h0M354.3 360.7h0M355 361.3h0M364.6 362.9h0M359.8 362.3h0M346.7 362.7h0M355.9 360.9h0M347.4 362.8h0M355.9 361.1h0M346.7 361.4h0M353.7 363.2h0M357.5 362.6h0M353.6 363.1h0M360.1 360.7h0M363 361.1h0M357 359.8h0M354.1 362.7h0M348.9 359.9h0M357.6 362.7h0M355.5 359.8h0M361.9 361.2h0M354.9 362.3h0M342.4 362.8h0M351.6 358.5h0M354.9 363h0M355.4 361.6h0M354.9 362.9h0M345.3 361.5h0M355.9 361.3h0M340.5 362.9h0M357.9 363h0M351.8 360.3h0M354.7 363.1h0M346.3 361.9h0M357.6 361.2h0M353.7 360.5h0M353.3 362.4h0M369.6 361.7h0M353.3 362.9h0M350.5 361.2h0M368.4 362.2h0M357 363h0M357.8 362.3h0M364.6 363.2h0M352.8 362.6h0M348.3 360.1h0M360.4 362.4h0M350.4 361.7h0M355.3 363.1h0M345 361.4h0M350.8 361.9h0M358.4 362.1h0M356.6 362.9h0M349.8 360.1h0M346.9 359.4h0M347.4 362h0M355.8 361.3h0M352.4 361.3h0M359.6 361.9h0M361.8 358.1h0M352 360.5h0M354.3 359.9h0M357.7 361.5h0M358 361.9h0M354.1 359.8h0M348.6 362.9h0M360.2 363.1h0M363.2 359.2h0M367.1 361.2h0M341.4 362.6h0M355.5 361.4h0M354 360.9h0M355.7 361.1h0M357.7 361.5h0M361.4 362.6h0M348.1 362.6h0M365.2 362.2h0M359.8 360.8h0M341.4 362.2h0M356.7 362.3h0M358.9 360.4h0M340.2 360.5h0M354.4 361.7h0M360.2 361h0M349.5 362.2h0M358.7 360.7h0M350 362.2h0M356.5 362.5h0M364.6 362.8h0M348.1 359.2h0M355 360.7h0M351.7 361.7h0M360.4 363.1h0M358 362.3h0M358.8 360.9h0M355.2 360.2h0M350.2 362.1h0M355.8 362.1h0M355.8 359.9h0M352.7 362.1h0M362.5 360.5h0M342.1 363h0M354 362.5h0M351.3 362.8h0M352.4 362.6h0M348.6 362.2h0M340.9 362.4h0M346.3 361.3h0M358.6 362.2h0M353.7 361.1h0M354.4 363.3h0M356.5 360.6h0M345.4 362.6h0M355.5 363h0M349.8 361.6h0M359 362.8h0M353.6 362.9h0M368 362.1h0M353.9 359.7h0M350.9 363h0M353 362.6h0M366.8 361.6h0M356.1 363.3h0M360 362.5h0M358.8 361.7h0M350.2 362h0M360.3 361.5h0M360.4 361.3h0M366.9 358.7h0M352.1 360.5h0M370.4 361.8h0M358.5 361.9h0M351.3 360.6h0M353.9 361.2h0M354.9 362.1h0M353.8 362.7h0M370.1 362.9h0M361.6 361.3h0M357 363.2h0M353.4 361.6h0M351.4 362h0M354.3 362.1h0M357.2 361.1h0M352.6 361.3h0M354.8 361.4h0M370.8 363h0M353.3 362.3h0M353.1 359.7h0M349.3 361.3h0M365.8 360h0M352.8 363.2h0M358.8 359.6h0M358.5 360.8h0M355 361.6h0M356.3 361h0M346.9 362.8h0M349.4 359.3h0M357.8 363h0M357.7 362.1h0M355.5 360h0M352.8 362.5h0M366.1 358.7h0M363.7 361.2h0M351.3 361.9h0M346.5 362.6h0M354.4 363.1h0M351.1 360.9h0M342.3 361.7h0M352.3 362h0M354.2 360.9h0M356.6 361.4h0M360.4 361.6h0M348.2 362.8h0M349.6 362.3h0M349.2 362.5h0M358 361.1h0M370.8 360.6h0M341.8 362.9h0M356.1 362h0M357.8 360.5h0M353.4 358.4h0M356.2 362h0M356.1 362.4h0M355.9 361.2h0M368.9 360.6h0M360.1 360.1h0M348 360.3h0M357.9 361.5h0M356.7 362.3h0M344 358.4h0M350.7 360.7h0M360.9 360.2h0M361.7 361.7h0M356.1 362.7h0M360.6 362.9h0M351.4 360.3h0M352.3 362.5h0M344.5 362.9h0M345.6 362.3h0M351.5 363.1h0M344.4 361.8h0M351.9 362.6h0M352.7 361.4h0M352.2 361.5h0M351.2 361.4h0M353.3 360.3h0M358.3 361.9h0M357.4 363.3h0M361.2 361.9h0M364.7 361.9h0M361.9 362h0M344 359.2h0M353.4 361.7h0M351.6 361.7h0M343.7 361.3h0M347.2 361.4h0M357.8 362.7h0M350.6 359.3h0M349.8 352.7h0M350.1 361.8h0M350.8 353.3h0M349.1 359.4h0M351 357.5h0M350.6 358.9h0M348.5 362.7h0M350.1 349.8h0M350 361.2h0M350.1 345.4h0M350 352.7h0M349.2 353.7h0M350.2 346.5h0M349.6 356.7h0M351.6 359.7h0M350.1 347.3h0M350.2 351.8h0M348.6 359.5h0M349.8 349.3h0M349.3 352.5h0M348.8 362.9h0M350.3 350.8h0M350.1 344.4h0M349.2 353.4h0M350.1 345h0M349.9 347h0M350.1 347.4h0M349.8 359.2h0M350.4 361.9h0M350.8 359.1h0M350.8 360h0M350.5 351.5h0M350.1 345.2h0M350 350.3h0M350.3 346.3h0M350.2 348.8h0M351.4 358.3h0M350.2 344.8h0M351 356.9h0M350.6 350.4h0M350.1 348h0M350.9 355.8h0M350.2 350.8h0M349.9 346.7h0M350 363h0M351.4 361.4h0M351.6 361.6h0M349 359h0M350.3 348.9h0M350.4 355.5h0M351 352.8h0M350.2 353.6h0M349.9 354.5h0M349.6 350.2h0M350.7 350.1h0M350.2 348.8h0M349.1 356.6h0M350.3 361.5h0M350.3 346.5h0M351 359.8h0M350.1 347.9h0M350 346.9h0M350.2 356.9h0M350.1 349.5h0M351.2 357.5h0M349.9 355.8h0M350.1 359h0M350 349.8h0M350.1 350.7h0M352 363.1h0M350.3 357.8h0M350.1 345h0M349 362.1h0M351.3 360.4h0M349.2 353.4h0M350.2 358.1h0M349.5 360h0M350.1 346.1h0M350.4 358.9h0M350.2 361.2h0M349.5 351h0M349.8 352.9h0M350.3 349.1h0M350.2 346h0M349.1 359.8h0M350.5 349.9h0M349.8 362.1h0M350 357.9h0M350.2 346.7h0M350.4 349.1h0M350.5 358h0M350.1 356.2h0M350.5 353.2h0M351.3 360.1h0M349.5 360.2h0M350.4 347.1h0M351.3 356.3h0M351.9 362.6h0M348.6 359.5h0M349.8 348.8h0M349.6 349h0M349.6 360.9h0M350 361.7h0M350.8 356.7h0M351.1 353.9h0M349.9 347.2h0M350.3 345.8h0M350.2 352.5h0M349.5 360.1h0M349.2 359.1h0M349.9 351.6h0M350.2 348.7h0M349.8 347.5h0M350.1 347.2h0M349.7 351.3h0M350 350h0M350.2 349.6h0M349.4 360.6h0M349.6 349h0M350.2 351.3h0M349.9 349.7h0M350.1 354.2h0M349.7 349h0M349.7 353.6h0M349.7 352.1h0M349.3 359.4h0M350.1 346.3h0M350.3 346.5h0M350.3 358.2h0M351.9 363.1h0M349.6 351.3h0M350.1 353.4h0M349.9 350.5h0M350.2 346h0M351.3 361.9h0M350 346.4h0M350.6 349.7h0M349.9 346.5h0M350 347.4h0M350.3 348h0M351 354.4h0M350.5 348h0M350.1 345h0M350.3 349.3h0M350.1 355.7h0M349.6 353.6h0M351.2 358.3h0M350.3 347.2h0M350.1 350.2h0M350.4 352.4h0M349.9 363.2h0M350.1 344.8h0M349.2 354.4h0M351.1 358.4h0M351.3 362.7h0M350.4 348.1h0M351.4 358.4h0M350 356.2h0M350.1 345.2h0M349.6 350.3h0M349.2 363.2h0M351.3 361.3h0M351.5 358.5h0M349.7 350.4h0M349.9 349.8h0M349.3 353.3h0M350.3 347.4h0M350.5 352.2h0M349.1 356.8h0M350.8 357.1h0M349.5 352.6h0M350.1 358.7h0M348.3 363h0M349.3 354.7h0M350 346.4h0M350.4 349h0M350.3 357.3h0M350.1 344.4h0M351.3 355.9h0M350.9 349.6h0M350 343.4h0M350.5 349.1h0M356.1 347.6h0M355.3 346.7h0M355.7 339.4h0M356.3 351.1h0M356 360.7h0M355.9 344.3h0M355.1 347.1h0M355.2 351.8h0M355.5 348.6h0M355.7 352.3h0M356.2 349.1h0M355.1 356.5h0M354.5 358.8h0M355.9 342.8h0M355.2 360.3h0M355.8 341.5h0M355.7 339.7h0M354.5 356h0M355.7 357.3h0M354.8 362.9h0M356 351.9h0M354.5 359.6h0M354.6 355.3h0M354.4 360.4h0M355.9 344h0M356.7 362.3h0M355.7 342.9h0M356.5 356.1h0M354.1 361.3h0M355.6 340.3h0M355.7 341.2h0M354.2 362.2h0M355.2 347.7h0M355.9 347.2h0M355.6 357.7h0M356.7 358.2h0M355.9 348.1h0M355 348.3h0M355.8 341.9h0M355.8 350.9h0M356.1 351.4h0M355.3 350.4h0M355.1 350.8h0M355.7 363.2h0M355.7 342.3h0M355.7 358.3h0M355.8 349.2h0M355.7 352.2h0M356.1 346.7h0M356.1 350.9h0M355.2 346.9h0M355.1 357h0M355.6 354.8h0M356.9 356.2h0M355.5 345.6h0M356.1 346.4h0M356 359.4h0M355.6 340.2h0M355.8 342.1h0M354.8 355.6h0M355.6 343.8h0M355.6 354.8h0M356 345.7h0M355.7 341.2h0M355.2 359.1h0M354.6 363.1h0M354.9 355.1h0M354.9 351.8h0M355.5 347.5h0M356.2 357.3h0M354.5 355.4h0M355.8 343.1h0M355.6 342.1h0M356.2 356.9h0M357.1 359.8h0M355.7 347.5h0M354.9 362.1h0M356.7 353.1h0M355.9 359.8h0M357.2 361.4h0M355.9 345.3h0M355.3 345.2h0M354.4 357.5h0M355 350h0M354.7 358.8h0M355.7 341.1h0M356.9 356.4h0M354.5 359.5h0M356.3 354.1h0M356.6 360.9h0M356.1 350.2h0M354.5 355.2h0M356.4 360.9h0M356.1 351.1h0M355 358.5h0M356.7 358.2h0M355.3 346.3h0M355.2 345.8h0M355.2 352h0M355.8 344.8h0M355.3 346.8h0M356.1 362.3h0M355.1 346.5h0M355.9 343.1h0M355.7 354.6h0M356.2 347.6h0M355.7 347.6h0M355.6 344.7h0M355.8 362.5h0M355.3 353.3h0M355 353.8h0M356.3 355.8h0M355.6 341.9h0M355.4 342.9h0M356.1 350.9h0M355.6 344.5h0M357.1 359.2h0M355.9 348.6h0M354.7 355h0M355.5 349.5h0M355.7 341.8h0M355.7 345.1h0M355.3 345.1h0M355.6 339.3h0M355.2 348.9h0M356.3 361.1h0M355.8 345.8h0M355.6 357.2h0M355.8 344.8h0M355.5 341.4h0M355.2 344.6h0M355.7 348.2h0M355.4 361.5h0M356.1 347.2h0M355.7 361.4h0M355.4 344.1h0M355.8 341.8h0M354.9 355h0M354.8 359.8h0M356.1 353.2h0M355.7 340.7h0M355.6 340.3h0M355 347.4h0M354.6 353.2h0M356.6 360.1h0M355 360.5h0M355.7 350.6h0M354.3 362.6h0M355.5 347h0M355.6 361.1h0M356.8 354.3h0M354.5 362.1h0M355.8 361.5h0M355.7 340.1h0M355.8 360.6h0M356.8 354.7h0M355.8 346.2h0M355.5 357.1h0M355.4 350.6h0M355 349.7h0M356.7 353.1h0M355.7 353.7h0M355.9 345.1h0M355.5 345.5h0M355.3 346.1h0M355 348.4h0M354.7 358.7h0M356.2 354.8h0M357 362.8h0M357.1 361.1h0M355.7 340.4h0M355.9 343h0M356.4 352.5h0M356.6 362.5h0M356 347.7h0M354.3 359.7h0M355.8 350.7h0M355.3 346.7h0M356.4 349.6h0M356.5 357.2h0M355.4 338.8h0M355.3 344.5h0M355.8 344h0M331.4 361.8h0M343.6 360.8h0M370.9 361.5h0M368.1 361h0M339.5 360.3h0M341.2 362.8h0" stroke="#0a0a0a" stroke-width="2.3" stroke-linecap="round" fill="none"/>
<text x="373.9" y="298.2" font-size="8.7" text-anchor="start" fill="#d7262c" font-style="italic">CXCL10</text>
<line x1="393.6" y1="301.5" x2="379.1" y2="319.6" stroke="#d7262c" stroke-width="0.75" />
<path d="M377 322.2 L378.1 318.2 L380.7 320.3 Z" fill="#d7262c"/>
<path d="M375 323.2h0" stroke="#d7262c" stroke-width="2.3" stroke-linecap="round" fill="none"/>
<line x1="45.3" y1="439.1" x2="45.3" y2="556.8" stroke="#8a8a8a" stroke-width="0.7" />
<line x1="42.4" y1="458.5" x2="45.3" y2="458.5" stroke="#8a8a8a" stroke-width="0.7" />
<text x="39.6" y="461.6" font-size="8.7" text-anchor="end" fill="#231f20" >10</text>
<line x1="42.4" y1="479.1" x2="45.3" y2="479.1" stroke="#8a8a8a" stroke-width="0.7" />
<text x="39.6" y="482.2" font-size="8.7" text-anchor="end" fill="#231f20" >5</text>
<line x1="42.4" y1="499.6" x2="45.3" y2="499.6" stroke="#8a8a8a" stroke-width="0.7" />
<text x="39.6" y="502.7" font-size="8.7" text-anchor="end" fill="#231f20" >0</text>
<line x1="42.4" y1="520.1" x2="45.3" y2="520.1" stroke="#8a8a8a" stroke-width="0.7" />
<text x="39.6" y="523.2" font-size="8.7" text-anchor="end" fill="#231f20" >−5</text>
<line x1="42.4" y1="540.7" x2="45.3" y2="540.7" stroke="#8a8a8a" stroke-width="0.7" />
<text x="39.6" y="543.8" font-size="8.7" text-anchor="end" fill="#231f20" >−10</text>
<text font-size="8.7" fill="#231f20" text-anchor="middle" transform="translate(8.4 498) rotate(-90)">log<tspan font-size="6" dy="2">2</tspan><tspan dy="-2">FC</tspan></text>
<text font-size="8.7" fill="#231f20" text-anchor="middle" transform="translate(17.6 498.5) rotate(-90)">(DMSO versus SpG)</text>
<line x1="45.3" y1="556.8" x2="166.2" y2="556.8" stroke="#8a8a8a" stroke-width="0.7" />
<line x1="51" y1="556.8" x2="51" y2="559.8" stroke="#8a8a8a" stroke-width="0.7" />
<text x="51" y="569.3" font-size="8.7" text-anchor="middle" fill="#231f20" >−1.0</text>
<line x1="78.5" y1="556.8" x2="78.5" y2="559.8" stroke="#8a8a8a" stroke-width="0.7" />
<text x="78.5" y="569.3" font-size="8.7" text-anchor="middle" fill="#231f20" >−0.5</text>
<line x1="106" y1="556.8" x2="106" y2="559.8" stroke="#8a8a8a" stroke-width="0.7" />
<text x="106" y="569.3" font-size="8.7" text-anchor="middle" fill="#231f20" >0</text>
<line x1="133.5" y1="556.8" x2="133.5" y2="559.8" stroke="#8a8a8a" stroke-width="0.7" />
<text x="133.5" y="569.3" font-size="8.7" text-anchor="middle" fill="#231f20" >0.5</text>
<line x1="161" y1="556.8" x2="161" y2="559.8" stroke="#8a8a8a" stroke-width="0.7" />
<text x="161" y="569.3" font-size="8.7" text-anchor="middle" fill="#231f20" >1.0</text>
<text x="106" y="434.3" font-size="8.7" text-anchor="middle" fill="#231f20" >Naive</text>
<line x1="170.1" y1="556.8" x2="290.5" y2="556.8" stroke="#8a8a8a" stroke-width="0.7" />
<line x1="175.4" y1="556.8" x2="175.4" y2="559.8" stroke="#8a8a8a" stroke-width="0.7" />
<text x="175.4" y="569.3" font-size="8.7" text-anchor="middle" fill="#231f20" >−1.0</text>
<line x1="202.9" y1="556.8" x2="202.9" y2="559.8" stroke="#8a8a8a" stroke-width="0.7" />
<text x="202.9" y="569.3" font-size="8.7" text-anchor="middle" fill="#231f20" >−0.5</text>
<line x1="230.4" y1="556.8" x2="230.4" y2="559.8" stroke="#8a8a8a" stroke-width="0.7" />
<text x="230.4" y="569.3" font-size="8.7" text-anchor="middle" fill="#231f20" >0</text>
<line x1="257.9" y1="556.8" x2="257.9" y2="559.8" stroke="#8a8a8a" stroke-width="0.7" />
<text x="257.9" y="569.3" font-size="8.7" text-anchor="middle" fill="#231f20" >0.5</text>
<line x1="285.4" y1="556.8" x2="285.4" y2="559.8" stroke="#8a8a8a" stroke-width="0.7" />
<text x="285.4" y="569.3" font-size="8.7" text-anchor="middle" fill="#231f20" >1.0</text>
<text x="230.4" y="434.3" font-size="8.7" text-anchor="middle" fill="#231f20" >Convalescent</text>
<line x1="295" y1="556.8" x2="415.7" y2="556.8" stroke="#8a8a8a" stroke-width="0.7" />
<line x1="300.1" y1="556.8" x2="300.1" y2="559.8" stroke="#8a8a8a" stroke-width="0.7" />
<text x="300.1" y="569.3" font-size="8.7" text-anchor="middle" fill="#231f20" >−1.0</text>
<line x1="327.6" y1="556.8" x2="327.6" y2="559.8" stroke="#8a8a8a" stroke-width="0.7" />
<text x="327.6" y="569.3" font-size="8.7" text-anchor="middle" fill="#231f20" >−0.5</text>
<line x1="355.1" y1="556.8" x2="355.1" y2="559.8" stroke="#8a8a8a" stroke-width="0.7" />
<text x="355.1" y="569.3" font-size="8.7" text-anchor="middle" fill="#231f20" >0</text>
<line x1="382.6" y1="556.8" x2="382.6" y2="559.8" stroke="#8a8a8a" stroke-width="0.7" />
<text x="382.6" y="569.3" font-size="8.7" text-anchor="middle" fill="#231f20" >0.5</text>
<line x1="410.1" y1="556.8" x2="410.1" y2="559.8" stroke="#8a8a8a" stroke-width="0.7" />
<text x="410.1" y="569.3" font-size="8.7" text-anchor="middle" fill="#231f20" >1.0</text>
<text x="355.1" y="434.3" font-size="8.7" text-anchor="middle" fill="#231f20" >Vaccinated</text>
<text x="230.6" y="581.5" font-size="8.7" text-anchor="middle" fill="#231f20" >Correlation to IFNg</text>
<path d="M139.3 501.9h0M131.8 500.8h0M105.6 502h0M111.7 503.1h0M119.3 497.2h0M109.4 493h0M135.3 498.5h0M100.3 498.2h0M126.8 499h0M123.4 494.7h0M118.2 501.5h0M124.4 507.5h0M129.2 507.2h0M114.5 497h0M135.2 493.5h0M127.1 499.3h0M101.8 494.9h0M121.8 510.8h0M102.3 498.1h0M118.3 502.3h0M115.9 499.3h0M146.3 495.3h0M90.2 498.1h0M121.5 503h0M120.4 496.8h0M123.7 505.2h0M123.1 492.7h0M113.4 498.3h0M113.9 497.1h0M148.5 503.5h0M142 496.9h0M118.6 493.7h0M111.5 493.1h0M129.3 509.6h0M87.5 501.4h0M115.2 501.9h0M112.1 499.7h0M120.7 498.6h0M99.9 502.9h0M110 500h0M90.9 498.8h0M131 495.9h0M135.5 492.9h0M138.2 502.3h0M88.7 500.7h0M123.7 495.6h0M116.7 500.6h0M142.5 502.5h0M142.3 500.7h0M95.3 498h0M124.1 498.1h0M106.5 497.6h0M130.3 499.6h0M104 501.3h0M114.4 502.6h0M138.1 506.8h0M128 501.4h0M106.4 502.2h0M127.9 497.4h0M154.6 499.3h0M116.8 501.4h0M109 504.6h0M123.5 500.2h0M133 502.4h0M145.9 497.8h0M125.1 498.8h0M128.2 496.3h0M116.4 498h0M85.8 498.9h0M115.2 496.4h0M114.4 498.3h0M119.8 497.4h0M125.6 494.6h0M108.6 494.3h0M103.7 505.8h0M94.6 501.4h0M103.1 502h0M136.5 501.2h0M88.4 501.4h0M77.8 499.5h0M122.7 496.4h0M86.7 501h0M150.2 500.5h0M135.6 500.7h0M101.1 496.7h0M130.5 498h0M81.1 499.1h0M133.9 501.5h0M112.2 496.5h0M115.6 499.4h0M134.5 497.5h0M97.6 503h0M135.5 494.1h0M66.4 499.6h0M125.6 498.1h0M93.9 502h0M127.7 498.9h0M141.3 500.6h0M114.7 490.3h0M154.2 498.2h0M125.8 490.3h0M99.7 503.6h0M135.8 497.3h0M127.4 502.2h0M118.6 508.5h0M108.7 498.2h0M68.5 501.2h0M85.4 499.2h0M145.9 496.4h0M119.3 501.4h0M120.1 502.2h0M116.6 502.2h0M120.1 499.7h0M81.5 501.6h0M79.1 500.2h0M110.2 498.9h0M149.9 498.3h0M136.1 498.6h0M96.9 502.6h0M123.6 503.9h0M135.5 499h0M76.6 500.3h0M116 492.9h0M103.1 492.5h0M96.3 497.4h0M115.2 498.8h0M97 496.2h0M137.8 499.3h0M128.3 500.9h0M132.4 496.5h0M133 494.5h0M117.7 492.1h0M112.3 495.7h0M119.8 499.9h0M127.7 503.4h0M125.2 504.6h0M138.7 496.6h0M109.1 498.8h0M113.7 498.9h0M147.4 499.1h0M125.1 501.7h0M129.3 503.3h0M126.2 496.3h0M95.7 499.3h0M127.1 502.6h0M121.4 500.9h0M116.5 503.9h0M107.4 500.9h0M123.4 498.3h0M117.3 499.6h0M120 494.5h0M132.4 497.5h0M105.6 496.7h0M108.3 494.5h0M117.1 494.6h0M123.1 487.2h0M87.1 495.4h0M122.5 496.1h0M116.5 495.7h0M129.5 499.1h0M139.3 503.1h0M135 500.1h0M79.1 500.8h0M102.9 502.4h0M126.1 499.7h0M143.3 496.9h0M120.5 501.7h0M122.5 495.3h0M116.8 506.1h0M93.9 502.9h0M131.7 499.7h0M119.1 497.8h0M106.5 502.4h0M92.7 498.1h0M82.1 499.7h0M114.8 491.3h0M118.2 498.2h0M106.5 497.7h0M150.2 500.5h0M115.6 504.1h0M134.9 503.3h0M144.7 496.2h0M106.9 502.8h0M97.5 506.1h0M119.7 494.6h0M91.4 503.1h0M107 495.9h0M139.9 499h0M131.5 510.7h0M90.8 496.6h0M120.3 494.7h0M128 499.5h0M135.7 497.7h0M111 504.7h0M101.2 500.2h0M110.6 503.3h0M95.9 496h0M72.3 500.1h0M112.3 495.7h0M106.5 499.1h0M119.6 492.2h0M124.7 491.7h0M135.9 490.4h0M93.3 495.9h0M129.2 503.7h0M133.3 498.8h0M106.5 498.7h0M149.8 497.9h0M146.1 500.1h0M100.4 492h0M89.9 497.5h0M125.8 498.6h0M134.3 503.2h0M83.3 498.5h0M120.5 493.5h0M90.1 498.8h0M88.4 500.8h0M116.8 500.4h0M131.3 497.4h0M122.3 493.3h0M121.1 505.7h0M139.8 498.3h0M139.6 496.5h0M115.6 497.6h0M134.3 496.4h0M125 503.9h0M128 494.1h0M112.8 501.5h0M115.9 496.1h0M107.8 502.5h0M108.8 502.3h0M117.8 494.9h0M122.4 501.8h0M116.2 498h0M131.1 504.1h0M106.9 493.8h0M116.2 500.7h0M100.1 495.3h0M115.7 493.4h0M115.2 495h0M140.1 495.2h0M128.9 496h0M123.5 493h0M117.2 493.2h0M121.2 502.3h0M82.1 499.8h0M109.1 502.4h0M122.2 506.8h0M117.2 504.9h0M138.6 503.2h0M118.9 499.3h0M128.7 504.1h0M136.3 498.8h0M115.9 503h0M106.8 506.4h0M116.1 498.4h0M105.8 498.6h0M131.6 498.9h0M131.2 495.6h0M135.1 498.3h0M112.6 506.8h0M108.3 502.4h0M76.3 498.5h0M83.6 498.9h0M144.1 492.2h0M121.9 499.3h0M137 501.3h0M141.5 501h0M123 502.5h0M118 499.4h0M133.1 498.2h0M89.2 501h0M103.2 503.4h0M66.9 499.1h0M137.3 505.8h0M129.3 500.9h0M123.3 498.2h0M141.5 498.2h0M139.8 497.7h0M117.3 509.1h0M121.1 496.9h0M117.5 499h0M143.8 503.4h0M85.1 498.5h0M116.4 488.1h0M118.8 499.4h0M106.9 499.1h0M146.4 498h0M67.9 501h0M135 501h0M129.4 503.5h0M117 498.1h0M116.8 499.5h0M92.8 499.3h0M113.4 498.4h0M120.7 503.8h0M133.3 504.1h0M154.7 498.7h0M99.3 500.7h0M116.8 500.6h0M142.1 501.1h0M115.4 505.5h0M108.3 495.1h0M139.6 498.7h0M109.7 507.6h0M136.9 501.2h0M122.4 500.9h0M108.9 497h0M115.2 497.5h0M125.5 498.8h0M109.3 498.1h0M106.9 490.2h0M114.5 499.5h0M139.4 499.5h0M120.9 501.3h0M129.3 486.4h0M121.1 493.4h0M146.3 503.8h0M136.5 501.1h0M119.9 494.4h0M119.5 492.4h0M123 504.5h0M118.6 504.1h0M140.5 501.3h0M111.3 500.8h0M109.6 503h0M102 506h0M123.7 499.7h0M136.8 502.6h0M96.9 499h0M112.6 499.8h0M121 501h0M128.9 498.2h0M116.9 497.1h0M125.2 495.6h0M118.7 502.6h0M130.4 503.4h0M130.5 497.5h0M116.5 501.6h0M80.9 500.3h0M119.5 501.6h0M135.7 503.5h0M100.9 501.3h0M131.2 493.8h0M118.5 497.3h0M128.5 503.6h0M119.5 495.8h0M87.2 501h0M101.1 495.5h0M108.4 500.4h0M112.7 498.3h0M100.5 500.3h0M106.8 498.6h0M114.5 498.9h0M137 495.9h0M104.5 504.4h0M105.6 495.5h0M106 499.6h0M65.7 498.7h0M130.1 496h0M92.4 501.4h0M128.3 501.3h0M120.7 496.3h0M112.1 501h0M142 504h0M77.5 499.7h0M124.1 507.6h0M118.8 505.9h0M96 499.3h0M100.5 498.8h0M99.8 503h0M152 496h0M132 495.3h0M134.2 499.6h0M152 500h0M114.5 506.3h0M99.6 502.5h0M101.8 501.3h0M139.1 500h0M119.4 500h0M151.7 499h0M110.5 501.7h0M119.6 498.4h0M147.5 498.1h0M109.9 496.8h0M93.2 502.9h0M143.7 496.6h0M120.4 495.4h0M139.3 496h0M141.8 501.1h0M121.3 500.8h0M120.8 496.1h0M115.8 507h0M107.5 495.5h0M138.2 492.3h0M123.6 501h0M134.8 498.6h0M116.8 499.3h0M123.5 495.9h0M92 501.2h0M95.7 503.7h0M94.4 498.8h0M134.5 506.4h0M118.5 498.7h0M121.7 498.8h0M140.2 500.9h0M124.8 495h0M98.9 495.8h0M142.4 501.6h0M115.5 499.3h0M146.6 495.4h0M133.1 500.7h0M128.6 500h0M97.2 500.6h0M110.1 503.4h0M121.5 499h0M149.4 495.9h0M129.7 497.2h0M68.2 499.1h0M131.6 493.9h0M107 493.8h0M104.7 497.1h0M121.6 501.2h0M110.7 501.8h0M127 496.5h0M126.3 497h0M122.9 500.9h0M121.6 499.9h0M89.2 502.2h0M97.1 505.8h0M125.7 495.8h0M141.5 498.2h0M129 497.2h0M71.7 497.7h0M119.1 504.3h0M120.3 501.5h0M124.3 497.3h0M128.7 494.4h0M146.1 497h0M115.3 504.2h0M133 494.8h0M87.5 499.5h0M127.8 501.2h0M145.8 499.8h0M104.2 501h0M154.3 497.4h0M135.7 503.3h0M120.7 501.5h0M106.1 496.4h0M122.9 500h0M106.3 499.1h0M128.4 500.3h0M96.3 501.4h0M137.8 500.1h0M100.1 500.4h0M125.7 502.5h0M122.4 497.4h0M97.5 502.1h0M115.6 502.3h0M130.9 504.3h0M115.9 508.3h0M133.5 499.5h0M110.3 502.9h0M136 494h0M110 502.9h0M135.2 495.9h0M126 504.1h0M139 497.3h0M99.9 502.4h0M154.5 498h0M124.2 503.6h0M119 503.5h0M136.2 499.5h0M134.5 496.9h0M108.2 504h0M147 499.6h0M105.5 504h0M107 493.6h0M117.4 498.9h0M78.9 499.2h0M152.7 500h0M110 502.2h0M117.5 501.2h0M133 496.1h0M75.3 500.8h0M138.3 500.4h0M98.9 493.1h0M117.7 499.5h0M93.7 497.7h0M139.3 503.3h0M112.8 500h0M98.5 497.5h0M147.8 501h0M108.3 501.5h0M115.3 500.1h0M122.7 500h0M108.2 502.6h0M69.1 501h0M109.4 490h0M110.5 498.6h0M124.3 501h0M98.3 502.2h0M140.6 499.2h0M131.4 504.9h0M124.4 502.3h0M124 502.3h0M122.8 505.5h0M119.3 503.8h0M127.6 499.9h0M85.2 501.6h0M126.6 496.7h0M112 496.3h0M127.2 500.6h0M128.4 498.4h0M127.5 500.9h0M139.2 493.6h0M121.5 496.7h0M85.8 500.2h0M119.3 501.2h0M135.1 496.6h0M127.8 496.8h0M129.9 497.4h0M137.5 497.6h0M151.8 498h0M118 496.6h0M65.6 501h0M111.7 502.5h0M117.9 499.1h0M130.9 508.7h0M119.9 491.7h0M124.4 502.5h0M111.9 490h0M118 501.4h0M113.4 504.3h0M110.6 501.2h0M104.8 498.3h0M104.9 502.6h0M90.3 498h0M138.8 500.6h0M111.5 499.3h0M149.8 499.9h0M121.3 493.4h0M106 504.2h0M131.2 496.4h0M126.4 500.2h0M150.1 498.3h0M101.3 498.8h0M144.4 500.4h0M116.4 501.8h0M127 497.5h0M86.1 500.8h0M133.3 498.3h0M141.6 500.3h0M132.4 495.7h0M105.1 497.7h0M84.6 502.3h0M117.7 498.5h0M88.5 500.6h0M136.4 497.8h0M109.3 503.5h0M111.7 496.3h0M91.1 503h0M108.7 499.6h0M144.9 500.9h0M130.8 498.3h0M134.2 505.5h0M117.9 500.2h0M66.9 499.7h0M122.7 507.6h0M132 495.6h0M118.3 500.6h0M108.1 503.2h0M131 500.1h0M125.8 505.2h0M134.3 500.4h0M120.6 500.2h0M111.3 506.8h0M117.4 501.9h0M142.7 497.4h0M124.6 494.2h0M123 503.3h0M121.4 497.1h0M117.9 505.5h0M116.6 497.3h0M114.4 501.4h0M119.7 497.9h0M129.9 500.8h0M113.2 496.7h0M120.9 500.4h0M120.8 500.2h0M130.2 503.6h0M115.2 496.9h0M90.9 499.2h0M129.7 492.7h0M100.7 500.2h0M113.2 502.5h0M131.5 494.2h0M89.5 498.3h0M113.2 499.5h0M122.6 498.2h0M92.8 497.6h0M127 500h0M102.8 498.8h0M106.2 501.7h0M131.2 497.2h0M127.9 509.3h0M118.5 499.6h0M118.4 499.7h0M102.9 499.8h0M134.4 500.3h0M138.2 502h0M96.3 498.9h0M79.9 498.2h0M95.3 501.9h0M100.9 502.2h0M96.2 500.6h0M118.7 496.2h0M136.6 501.2h0M66.1 500.9h0M124.2 503.7h0M138.3 497.4h0M118.5 504.2h0M99.8 496.8h0M109.1 497.9h0M130.6 499.6h0M151.6 498.3h0M137.6 497.8h0M107.7 495.3h0M132.2 497.2h0M111.2 505.3h0M112.2 496.9h0M112.9 496h0M140.8 502.6h0M138.7 499.5h0M128.3 499.3h0M113 499h0M101.2 497.5h0M129.1 502.3h0M71 498.9h0M121.4 501.2h0M129.5 498h0M108.2 502.3h0M131.8 500.1h0M109.7 499.6h0M94.2 498.1h0M115.7 502.7h0M127.9 506.3h0M117.2 495.4h0M130.4 498.3h0M142.9 506.9h0M98.8 502.8h0M138.7 500.7h0M90.8 500.9h0M119.9 502.4h0M86.5 499.7h0M104 500.6h0M127.1 503.1h0M125.8 502.8h0M138.1 497.7h0M139.9 500h0M134.5 502h0M105.5 504.8h0M125.7 499.9h0M104.9 496.7h0M106.8 504.8h0M109.7 499.1h0M119.8 499.5h0M136.4 489.2h0M115.7 495h0M116.2 495.3h0M137.2 502.4h0M122.1 497.1h0M115.5 497.8h0M141.3 497.1h0M95.8 498h0M108.2 495.3h0M124.9 493.3h0M137.7 496.1h0M118.2 501.4h0M128.3 509.9h0M132.4 497.1h0M108.5 498h0M115.5 498.2h0M135.2 502h0M111.4 505.2h0M131.2 493.9h0M122.9 498.5h0M128 506.1h0M80.2 500.1h0M119.1 500.6h0M105.8 500.2h0M102.3 500.6h0M126.4 496.7h0M119.4 502.6h0M127.5 502.2h0M136.8 501h0M113.6 509.1h0M100.7 499.2h0M115.5 499.1h0M116.9 502.6h0M130.1 500.2h0M107.2 504.6h0M122.3 507.7h0M137.4 504.1h0M120.4 502.8h0M134.1 494.2h0M112.8 499.2h0M122.9 500.1h0M127.4 499.8h0M68.5 500.3h0M111.4 493.7h0M142.4 497.9h0M139.6 498.8h0M146.7 502.6h0M118.5 494h0M125.1 504h0M110.7 495.2h0M74.7 500.1h0M138.2 499.4h0M117.4 508.3h0M137 502.2h0M133.7 500.3h0M102.5 501.9h0M104.3 496.3h0M86.9 498.3h0M106.6 496.5h0M97 501.2h0M96.5 498.2h0M108.4 497.3h0M111.3 495.9h0M111.4 502h0M128.6 497.5h0M98.7 498.9h0M119.1 499.8h0M98.7 499.2h0M108.2 494.8h0M123.3 497.3h0M103.4 500h0M70.1 499.1h0M140.8 500.8h0M129.1 513.6h0M116.9 503.4h0M120.9 501.7h0M119.6 495.5h0M154.2 498.5h0M134.8 495.8h0M105.1 501.2h0M82.3 500.1h0M153.9 499.6h0M111.3 497.5h0M84.7 499.1h0M130.6 502h0M129.1 499.5h0M119.3 497h0M120.6 501.3h0M146.4 500.5h0M111.4 501.2h0M129.8 495.1h0M121.1 497.8h0M130.7 496.7h0M131.7 505.2h0M100.7 503.2h0M125 502.8h0M120.9 506.9h0M101.3 503.7h0M93.9 497.1h0M105.6 501.9h0M150.5 502.4h0M123.8 504.3h0M131 503.4h0M95 501.8h0M136.2 504.6h0M126.9 497.6h0M127.7 496h0M118.1 505.1h0M106.4 497.6h0M109.5 495.6h0M116.1 507.2h0M82.5 500.6h0M110.4 500.4h0M139.6 498.4h0M85.7 499.7h0M126.1 495.4h0M149.3 495.4h0M114.4 495h0M118.9 501.1h0M101.1 503.5h0M143.1 498.4h0M128.5 501h0M113.7 502.3h0M120.1 495.7h0M122.3 498.3h0M102.2 499.8h0M102.1 501.9h0M142.5 500.8h0M94.2 501h0M144.5 499.9h0M138.1 500.6h0M135.5 496.6h0M79.9 498.7h0M132.3 498.8h0M96.5 498.7h0M126.7 507.6h0M124 500.8h0M112 497.3h0M84.3 501.3h0M141.7 500.8h0M136.5 504.7h0M124 502.9h0M108.8 500.8h0M114.8 499.2h0M126.1 500.8h0M113.4 505.4h0M150.4 497.6h0M104.4 502.2h0M115.8 492.5h0M108.6 506h0M120.6 501.2h0M153.2 501.5h0M118.8 499h0M111.4 499.2h0M113.9 502h0M127.7 500h0M96.5 501.4h0M117.5 496.4h0M125.5 502.8h0M98.2 497.3h0M114.3 497.2h0M119.2 502.3h0M95.4 500.3h0M147.5 494.9h0M96 500.3h0M139 494.8h0M140 498.1h0M80.3 498.2h0M102.3 494h0M125.5 499.3h0M129.7 505.8h0M109.1 494.6h0M83.4 499.4h0M131.7 497.4h0M112.8 500.8h0M123.4 508.5h0M104.1 499.5h0M100.3 491.3h0M112.6 497h0M125.2 492.7h0M134.5 498.1h0M116.5 503.2h0M135.4 497.3h0M105.1 506.8h0M107.4 505.3h0M128.8 496.2h0M130.4 503h0M138.9 494h0M132.2 500.9h0M131.7 496.5h0M101.4 495.9h0M142.3 499h0M129.3 505h0M88.8 500.9h0M101.8 497.7h0M151.5 496.7h0M68.3 500.1h0M129 492.5h0M145.6 505.6h0M127.6 494.2h0M120.4 497.6h0M120 498.3h0M116.3 504.1h0M101.5 498.2h0M132.8 495.5h0M110.6 499.6h0M115.9 492.5h0M111.1 510.1h0M129.6 504.4h0M141.9 501.1h0M136.3 503.3h0M145.2 500.9h0M123.7 499.7h0M86.9 500.1h0M119.6 503.6h0M125.8 502.1h0M148.5 498.1h0M114.4 501.5h0M128.7 498.9h0M138.4 503.4h0M120.9 496.3h0M99.8 494.8h0M140.6 495.2h0M115.2 500.1h0M109.4 496.4h0M112.1 504.2h0M120.2 499.9h0M123.3 502.8h0M136.9 499.7h0M99.7 496.8h0M95.2 500.2h0M137.3 502.8h0M107.3 499.3h0M112 505h0M122.2 494.3h0M125.5 500.7h0M141.6 492h0M121.2 499.4h0M115.3 502.2h0M124.5 497.6h0M127.3 498.3h0M133.9 494.7h0M141.5 502.5h0M107.3 493h0M134.4 500.9h0M129.8 501.7h0M124.6 497.5h0M104.7 495.3h0M77.4 500.7h0M108 498h0M138.7 498.6h0M134.6 492.7h0M114.4 496.4h0M126 495.7h0M89 500.2h0M117.5 500.1h0M135.2 496.5h0M136.5 498.5h0M144.3 503.8h0M95.5 499.1h0M117.3 497.7h0M133.6 496.1h0M114.6 497.4h0M99.5 489.8h0M111.4 495.4h0M69.8 499.4h0M144.1 496.2h0M136.9 505.9h0M120.2 494.1h0M113.1 496.2h0M112 495.4h0M92.8 496.7h0M87.3 497.1h0M107.4 504.4h0M121.1 500.7h0M136.3 494.9h0M126.7 502h0M106.7 498.6h0M105.4 499.3h0M126 502.7h0M124.8 502.1h0M119 496.7h0M135 500h0M112.2 498.8h0M143.9 493.4h0M70.8 500h0M133.3 494.4h0M129 497.8h0M118.3 493.8h0M130.8 500h0M131.9 497.3h0M84 500.9h0M153 499.3h0M93.8 501h0M107.4 505.7h0M123 506.7h0M118.2 498h0M100.5 502.4h0M121.6 496.8h0M86.9 500h0M98.3 499.7h0M142.1 494.8h0M133 498.3h0M129.9 497.6h0M117.3 506.4h0M122.4 502.6h0M85.7 499.4h0M130.8 493.9h0M108.1 494.6h0M128.9 504.9h0M130.1 500h0M137.5 501.4h0M113.5 506.3h0M140.7 500.9h0M84.6 497.2h0M123.6 503h0M127.6 502h0M131.4 493h0M88 499h0M90.8 498.7h0M120.7 503h0M154.5 498.1h0M131.2 495.6h0M121.8 501.7h0M130.3 501.9h0M112.2 507.4h0M89.8 499.7h0M86.8 499.5h0M119.9 500h0M113.9 494.3h0M110.4 505.9h0M125.8 499.8h0M124.8 498h0M134.7 497.5h0M117.8 498.5h0M100.6 494.6h0M124.5 498.3h0M133.8 497.4h0M120.4 502.5h0M125.1 503h0M123.2 498.9h0M105.6 499.7h0M88.7 498h0M130.9 501.4h0M149.4 500.5h0M83.9 499.3h0M109.2 494.5h0M141.8 497.9h0M155 500.1h0M117.9 492.2h0M105 502.4h0M109.8 502.7h0M126.8 501.6h0M88.4 500.5h0M78.3 500.9h0M97.6 496.6h0M67.4 499.9h0M128.3 497.4h0M97.9 498h0M115.7 503.2h0M88.8 498.8h0M130.3 497h0M121.4 501.6h0M127.4 498.4h0M127.7 503.3h0M127 502.6h0M125.8 498.2h0M109.5 504.3h0M107.7 501.3h0M148.3 499.2h0M152.1 498.5h0M121.5 499.6h0M131.8 502.5h0M116.7 497.7h0M141 502.3h0M110.6 501h0M102.3 498.8h0M103.4 499.1h0M129.8 504.6h0M70.6 499.7h0M73 499.7h0M147.1 500.9h0M120 489.1h0M104.3 495.5h0M114.8 491.8h0M127 494.1h0M111 504.7h0M122.5 493h0M128.8 502.3h0M144 499.9h0M125.5 502.5h0M113.3 489.6h0M148.1 501.3h0M143.2 496.7h0M113.7 501.8h0M114 507.8h0M145.4 508.5h0M96.5 503.8h0M119.5 495.5h0M122.5 495.7h0M128.9 500.6h0M112 505.6h0M117.8 496.1h0M114.9 496.7h0M102.8 500.7h0M115.4 495.2h0M114.2 498.3h0M90.9 497h0M131.5 509.3h0M123.6 503.3h0M87.9 500.5h0M150.3 499.3h0M100.6 504.5h0M80.6 500.3h0M131.9 502.5h0M127.3 501.6h0M125.3 501.5h0M152.5 497.6h0M106.2 497.9h0M72.5 499.8h0M118.4 498.6h0M135.4 500.4h0M127.5 498h0M133.9 502.9h0M76.2 499.6h0M115.8 500.2h0M123.2 503.2h0M108.8 494.1h0M69.4 500.9h0M91.6 501.3h0M143.1 498.1h0M110.9 502.2h0M106 507.4h0M109.5 496.8h0M111 502.5h0M134.7 503.8h0M134 501.6h0M110.8 499.8h0M122.8 490.7h0M150.8 496.7h0M125.1 501.5h0M142 501.7h0M106.4 500.5h0M145.5 500.2h0M116.3 503.7h0M110.4 507h0M124.1 504h0M106 498.3h0M113.8 486.5h0M128.1 495.8h0M132.2 501.6h0M130.8 499h0M102.6 502.7h0M118.7 508.2h0M125.1 492.9h0M99.8 499.4h0M121.6 500.7h0M111.8 493.1h0M131 507h0M140.2 497.7h0M130 500.2h0M113.2 496h0M125.7 498.3h0M123.7 505.9h0M122.2 503.1h0M108.4 499h0M119.4 501.6h0M118.2 509.8h0M119 506.2h0M103.2 504.2h0M134.5 499.1h0M65.1 498.8h0M115.1 495.8h0M129.4 501.2h0M139.6 505.9h0M126.6 496.5h0M122.7 494.9h0M132.8 497.6h0M120.7 496.1h0M127.5 497.3h0M148.2 501.1h0M135 502.5h0M129.4 493.7h0M135.5 502.7h0M121.7 493.8h0M128 488.8h0M138.2 498.4h0M78.9 498.3h0M149.6 500.1h0M118.7 500.9h0M121.5 502.3h0M123.3 502.1h0M86 499.3h0M144.6 503.9h0M148.5 497.3h0M118.5 497.4h0M112.2 502.6h0M146.5 501.2h0M140.2 499.3h0M81.4 501.6h0M118.3 508.6h0M74.1 500.2h0M147.2 500.3h0M110.1 498h0M122.9 494h0M118 501.7h0M138.6 494.1h0M123.7 500.9h0M121.4 498.7h0M112.2 496.3h0M154.9 498.7h0M71.8 499.5h0M90.3 501.1h0M92.9 493h0M126.1 498.2h0M134.5 503.3h0M126.4 500.3h0M109.4 496.7h0M104.5 495.3h0M112.5 500.9h0M131.5 499.9h0M102.5 496.9h0M100.2 499.4h0M144.1 501.1h0M114.8 501h0M99.4 495.5h0M133.5 501.7h0M144.6 501.9h0M76.7 501.9h0M128.1 503.1h0M124.1 499.4h0M134.8 502.4h0M113.5 500.7h0M76.2 498.9h0M137.8 498.3h0M105 503.3h0M92.4 500.4h0M74.4 499.9h0M125 491.1h0M131.8 498.3h0M107.9 502.6h0M144.5 496.8h0M122.9 502.8h0M105.4 494.2h0M130.2 500.6h0M137.9 498h0M129.5 495.3h0M124.7 493.6h0M115.9 510h0M136.6 495.4h0M125 498h0M91.5 500.1h0M122.3 497.7h0M96.3 500.9h0M135.4 494.6h0M105.3 499.2h0M117.7 502h0M120.9 507.1h0M121.5 503.8h0M132 498.6h0M141.8 499.8h0M119.9 506.4h0M107.5 501.3h0M130.8 501.2h0M112.6 496.9h0M112.1 501h0M115.3 495.6h0M131.1 499.1h0M89.3 496.8h0M132.4 499.3h0M134.6 495.8h0M131.6 500.9h0M124.1 496.6h0M96.7 501.7h0M109.6 505.8h0M104.6 504.3h0M110.7 499.6h0M115 500.5h0M112.5 502.6h0M146.1 496h0M125.5 500.7h0M122.6 492.6h0M113 501.1h0M98.9 503.2h0M114.9 500.2h0M99.1 498.2h0M116 502.3h0M122.6 500.4h0M68.5 498.9h0M117 497.7h0M121.6 495.9h0M78.4 500h0M135.7 496.5h0M126.3 507.7h0M126.4 503.3h0M118.9 500h0M75 500.5h0M109.5 499.1h0M110.8 498.9h0M136.7 497.5h0M119.6 497.3h0M114.9 495.2h0M115.3 497.2h0M130.6 502.7h0M105.3 497.1h0M108.7 495.2h0M126.1 504.8h0M133.8 496.1h0M116.8 498.8h0M129.7 488.9h0M126.6 503.8h0M128.4 498.9h0M92.7 500.2h0M76.4 499.6h0M104.8 505.5h0M132.7 493.6h0M115.2 496.2h0M129.8 505.5h0M133.7 496.4h0M118.5 498.3h0M134.3 504.7h0M102 501.6h0M79.9 500.7h0M117.5 494.6h0M116.3 503h0M106.7 497.1h0M79.4 500.1h0M98.3 495.2h0M96.3 499.9h0M105.3 497.2h0M111 499.7h0M134.1 501.9h0M114 499.1h0M149.8 499.3h0M134.7 498.3h0M115.2 496.8h0M108.5 500.1h0M123.1 502.6h0M121.9 502.4h0M105.9 501.8h0M98 498.3h0M90.1 500.5h0M120.6 500.1h0M132.9 496.6h0M86.8 498.4h0M114.7 502.6h0M138.3 498.1h0M136.6 499.7h0M96.1 502.3h0M145 497.3h0M109.3 508.7h0M120.8 498h0M117.8 497.4h0M109.3 500.5h0M131.2 502.9h0M88.8 498.6h0M127.4 497.1h0M140.8 494.4h0M131.8 501.6h0M97 502.6h0M123.3 500.6h0M112.6 498.3h0M128.7 500.9h0M135 496.2h0M106.6 502.4h0M80.6 498.6h0M129.4 501.9h0M103.6 502.2h0M98.6 494.9h0M128.1 491.8h0M123.3 503.8h0M147.3 502.1h0M115.9 506.1h0M144.7 500.7h0M137.9 498.2h0M118.8 497.8h0M108.4 492.9h0M121.9 497h0M146.2 497.8h0M90.7 497h0M72.3 499.5h0M138.8 497.4h0M124.8 498.3h0M127.5 502h0M123 491.1h0M142.7 495.3h0M118.7 503.8h0M119.9 495.6h0M120.3 500.1h0M119.7 499.6h0M102 499.4h0M111.8 502.2h0M151.4 496.5h0M138 497.7h0M111.2 491.4h0M77.3 498.2h0M137 499.8h0M90 499.7h0M107.9 495.6h0M143.3 495.7h0M137.2 501.5h0M151.2 496.6h0M97.1 495.1h0M76.7 500.3h0M103 501.1h0M140.3 502.5h0M136.4 501.2h0M111.6 500.2h0M102 496.4h0M129.9 496.1h0M100.8 501.9h0M119.1 495.9h0M147.9 497.2h0M103.7 502h0M129.4 504.3h0M129.3 503h0M90.1 503h0M99.6 493.6h0M119.8 494.7h0M121.5 499.3h0M143.4 499.9h0M121.7 495h0M127.7 496.8h0M105.7 503h0M122.1 495.5h0M122.8 503.2h0M120.1 502.8h0M126.7 501.2h0M116.7 498.1h0M122.3 493.7h0M112.4 499.1h0M67.7 498.8h0M125.6 500.8h0M123.6 493h0M149.4 501.6h0M126.8 499.9h0M134.9 498.5h0M131.9 495h0M109.9 499.5h0M124.7 498.3h0M131.1 504.3h0M113.8 504.7h0M126.5 503.9h0M100.7 500.4h0M120.8 490h0M127.7 499.3h0M114.3 502.9h0M132.4 498.8h0M126 501.9h0M127.5 497.9h0M141.3 495.2h0M98.7 499.9h0M131.3 502.3h0M114 502.2h0M126.9 505.8h0M140.4 499.3h0M112.7 494.8h0M111.8 505.9h0M126.5 496.4h0M119.4 496.5h0M126.3 500h0M91.3 500.3h0M121.3 505.1h0M126.1 499.5h0M117.8 502.2h0M128.6 496.6h0M119.8 500.6h0M106.5 503.6h0M143.9 496.2h0M126.2 499.3h0M127.2 497.3h0M132.3 507.7h0M126.9 496.6h0M120.6 495.6h0M140.4 501.4h0M125.3 502.8h0M136.2 502.6h0M124.2 503.2h0M118.2 496.7h0M134.3 498h0M107 496.1h0M110 494.5h0M113.8 500.1h0M86.7 496.6h0M127.2 499.3h0M131.7 501.1h0M122 498.1h0M137.5 496.9h0M96.1 495.2h0M113.3 499.1h0M107.1 501h0M110.3 505.1h0M122.5 496.9h0M124.5 502.2h0M111.7 499.2h0M99.8 496h0M97.5 497.4h0M117.8 501h0M148.7 497.7h0M125.1 498h0M135.5 495h0M118 501.3h0M134.8 502.1h0M126.5 496.8h0M113.4 497.4h0M93.9 499.2h0M133.9 497.9h0M134.4 495h0M73.2 499.1h0M133.2 500.3h0M77.1 500.7h0M121.3 500.3h0M123.7 504.3h0M140.4 500.1h0M122.6 505.3h0M107 498.3h0M112.5 495.7h0M120.9 492.5h0M127 501.4h0M115.8 499h0M132.9 503h0M123.5 498.1h0M120.4 491.5h0M151.8 497.7h0M115.9 502h0M142.5 500.7h0M129.5 504.5h0M129.5 500.1h0M99.7 503.8h0M135.6 499.3h0M121.3 501.7h0M110.4 505h0M132.5 499.1h0M84.5 498.9h0M92.5 501h0M137.2 500.5h0M77.8 500.4h0M128 499.7h0M112.1 496.6h0M137 500.2h0M129.6 500.1h0M117.4 500.8h0M126.4 494.1h0M103.3 498.2h0M108.4 506.3h0M122.8 504.9h0M106.8 499.7h0M117.3 497h0M107 501.9h0M121.6 496.9h0M118.2 499.6h0M128.4 501.3h0M138.5 496.3h0M108.6 496h0M78.2 499.3h0M93.3 502.7h0M123 492.2h0M131 492.8h0M113.8 495.1h0M111.2 497.7h0M128.3 498.3h0M113.4 505.3h0M98.9 497h0M135.6 506.2h0M116 501.5h0M121 497.4h0M130.5 497.1h0M127.5 500h0M127.1 502.7h0M95.2 498.6h0M126 499.5h0M109.8 502.6h0M111.6 499.4h0M98.7 502.8h0M121.4 501.3h0M137.9 498.1h0M127.8 497.1h0M100.9 496.8h0M134.8 501.2h0M109.7 494.5h0M143 501.2h0M148.2 496.8h0M145.1 497.5h0M91 498.9h0M134.9 492.7h0M118.3 492.7h0M154.6 498h0M105.3 507.5h0M133.9 506.1h0M134.8 498.3h0M140.5 504.6h0M100 502.1h0M93.1 499.5h0M131.4 494.8h0M123.5 502.4h0M147.1 494.8h0M141.2 498.3h0M92.8 498.2h0M137 501.7h0M143.1 503.5h0M112.4 495.6h0M130.2 500.2h0M134.4 495.8h0M106.2 499.7h0M78.6 498.8h0M107.9 497.8h0M132.6 495.1h0M120.1 493.4h0M79.7 501h0M120.2 495.5h0M112.4 500.6h0M106.4 500.2h0M134.6 498.1h0M100.7 502.5h0M113.6 499.2h0M84.5 501.7h0M121.3 499.2h0M69.8 499.1h0M105.8 494.9h0M140.6 497.9h0M85 498.6h0M138.3 497.1h0M128.2 503h0M116 494.8h0M100.5 499.2h0M144.2 495h0M121.4 503.3h0M118.5 492h0M139.9 501h0M124.6 500.6h0M96.9 501.3h0M90 497.9h0M145.1 500.4h0M117.3 496.9h0M148.9 496.3h0M117.1 498.4h0M118.4 504h0M116.1 496h0M113 500.7h0M139 499.1h0M107.3 498.9h0M113.3 508.2h0M125 490.7h0M119.7 497.9h0M110 501h0M125.8 496.4h0M84.2 498h0M145 499.4h0M120.7 493h0M135.9 493.4h0M114.1 498.9h0M114.5 507h0M131 497.2h0M113.1 499.8h0M108.9 492.8h0M137 497.5h0M69.3 500.5h0M102.7 499.3h0M140.7 496.8h0M118.5 503.8h0M104.2 501.8h0M95.7 503.1h0M118.9 497.4h0M149.4 501.1h0M126.1 494.7h0M87 499.4h0M121.5 498.7h0M119.2 499.2h0M120 501h0M121.6 499.8h0M106.9 499.3h0M132.4 498h0M71.9 502.3h0M114.7 500.1h0M115.5 507h0M105.7 495.3h0M140 500.2h0M123.2 508.8h0M130.1 498.7h0M65.9 501h0M92.1 498.7h0M133.1 497.8h0M138 498.9h0M129.5 499.1h0M119.9 502.7h0M103.3 502.2h0M119.4 504.9h0M148.4 501.2h0M104.3 499h0M108.7 494.8h0M101.2 499.9h0M101 503.5h0M132 494.5h0M100.3 495.2h0M130.1 507h0M117.1 498.7h0M125.4 500.4h0M145.6 499.6h0M116.7 497.4h0M133.3 501.3h0M105.7 503.3h0M134.7 501.6h0M131.2 497.8h0M118.9 492.1h0M87.5 502.3h0M106.6 501.1h0M116.9 502.5h0M109.3 495.9h0M128.4 492.9h0M114.7 503.6h0M114.1 500.6h0M113.9 502.8h0M121 502.5h0M101.7 501.1h0M141.7 497.8h0M120.7 499.3h0M120.4 496.6h0M144.2 496.4h0M111.7 498.3h0M112.9 498.5h0M85.7 499.3h0M116.1 498h0M131.3 497.1h0M119.9 495h0M133.6 500.1h0M133.1 493.7h0M110.7 495.5h0M103.1 502.2h0M114.6 503.2h0M100.8 494.8h0M107.5 497.6h0M125.1 499.8h0M129.7 501.8h0M127.8 504.4h0M125 505.5h0M134.8 498.2h0M106.1 496.2h0M74.2 499.6h0M123.1 500.3h0M114.1 499.9h0M140.5 498.7h0M138.6 502.7h0M114.9 499.4h0M111.4 501.1h0M85.2 499.8h0M92.7 496h0M100.2 497.2h0M131.3 502.7h0M114.1 501.3h0M97.2 499.4h0M134.1 496.6h0M123.6 500.4h0M111.3 498.3h0M120 501.9h0M151.3 496.9h0M90.3 499.9h0M141.6 499.3h0M144.1 493.1h0M127.8 497.8h0M143.9 498.6h0M119.8 503.9h0M72.6 500.6h0M107.5 500.5h0M109.1 501.1h0M106.3 498h0M104.9 502h0M139.7 493.2h0M121.7 495.9h0M117.5 501.6h0M140.8 496.8h0M139.7 503.3h0M151.9 502.9h0M110.4 508.4h0M104.5 497h0M137.3 500.8h0M131.4 503.7h0M117.2 506h0M96.7 496.5h0M136.7 500h0M113.9 503.2h0M123.2 497.3h0M120.4 493.1h0M136.9 500.9h0M120.5 494.5h0M121 502.1h0M122.7 492.4h0M133 499.5h0M136.8 497.6h0M118.4 504.1h0M123.7 498.2h0M134.8 500.6h0M124.5 495.4h0M128.5 498.9h0M108.5 492.5h0M112 500h0M105.8 502h0M118.3 496h0M112.5 503.5h0M110.7 498.7h0M121.1 506.6h0M82 501.7h0M112.1 494.3h0M141.2 490.4h0M123.3 504.1h0M112.3 501.3h0M118.4 501.1h0M91.4 500.9h0M116.8 501.3h0M100.4 501.4h0M106.2 501.1h0M125 511.2h0M103 499.4h0M125.2 499.8h0M142.9 498.5h0M125.9 502.8h0M75.3 499.7h0M134.9 486.1h0M99 505h0M132.6 500.8h0M106.9 504.8h0M136 494.6h0M112.1 495.3h0M128.8 501.4h0M109.1 497.8h0M127.3 507.7h0M70.1 500.1h0M108.6 501h0M141.9 497.2h0M132.3 498.3h0M118.1 491.9h0M101.7 503.1h0M116.7 509.6h0M140.1 497.7h0M110.6 502.7h0M119.9 489.5h0M90.4 502h0M135 492.3h0M119.3 497.5h0M138 499.4h0M100.9 502.7h0M148.5 495.4h0M112.6 503.3h0M136.7 493.9h0M113.1 496.8h0M121.5 497.6h0M127.7 501.5h0M128.9 498.1h0M112.8 499.5h0M123.7 505.4h0M139.3 492.6h0M109.2 493.9h0M130.8 495.3h0M131.3 498.6h0M105.9 496.5h0M110.1 499.7h0M98.7 496.7h0M129.8 501h0M122.8 496.1h0M122.8 502.9h0M131.2 506.4h0M138.8 499.7h0M131.9 501.9h0M85.4 500.5h0M131.6 497.3h0M132.9 503.4h0M123.4 498.2h0M144.6 505h0M126.8 497.4h0M110 499h0M127.4 493h0M123.6 505.3h0M119 492.9h0M108.1 500.4h0M110.4 494.8h0M74.2 499.7h0M137.3 500h0M131.6 501.3h0M113.5 495h0M91.8 499.9h0M85.4 498.9h0M109.9 498.7h0M143.8 503.5h0M139.8 501.3h0M81 500.1h0M133.1 503.3h0M118.1 493.9h0M148.3 499.2h0M122.4 500.1h0M105.6 496.6h0M79.5 498.8h0M107.4 501.1h0M116.1 500.9h0M131 495.2h0M153.7 496.4h0M130 502h0M138.7 495.3h0M102.6 494h0M129.2 503.3h0M102.6 501.4h0M103.4 502.4h0M116.3 503.8h0M131.2 503h0M122.8 499.2h0M145.6 498h0M119.2 494.5h0M124.8 500.1h0M85.1 502.1h0M98.4 498.3h0M126.9 495.7h0M123.3 502.3h0M110 501.6h0M134.5 500h0M128.8 492.4h0M118.4 498.8h0M106.7 493.7h0M109.4 501.4h0M121.6 497h0M123.4 501.5h0M84.2 501.3h0M92.2 499.4h0M107.4 499.4h0M117.1 502.9h0M128.4 502.2h0M104.3 495.2h0M100.3 508.3h0M112.3 502.6h0M117.2 498.7h0M117 507.1h0M117.1 498.1h0M120 500.7h0M111.5 497.3h0M132.8 498.6h0M126.5 493.7h0M122.2 505.3h0M105.3 494.1h0M141.9 495.5h0M131.3 497.6h0M121.2 500h0M113.1 496.9h0M103.8 497.5h0M127.3 500.8h0M122.9 502.4h0M123 496h0M138 497.3h0M92.6 500.1h0M76 498.3h0M115 495.8h0M144.7 505h0M130.9 502.2h0M130.3 505.1h0M123.8 507.6h0M86.2 499.9h0M119.3 501.2h0M97.2 499.7h0M127.3 497h0M109.5 496.5h0M121 506.1h0M122.2 501.7h0M135.7 496.7h0M95.8 499.9h0M105.9 494.7h0M120 501.6h0M137.9 504.7h0M131.4 500.3h0M128.5 498.3h0M107.3 496.8h0M73.6 501h0M110.4 505.3h0M99.2 500.8h0M96 497.5h0M123.3 504h0M119.3 499.5h0M128.6 497.8h0M116.6 504.7h0M116.3 501.8h0M124.7 499.3h0M124.6 504h0M101.3 497.9h0M95 498.9h0M126.1 504.9h0M116.3 503.9h0M154.5 498.6h0M119.6 497.8h0M124.3 496.7h0M123 507.5h0M111.3 498.6h0M132 501.7h0M116.5 499.9h0M119 505h0M74.1 499.8h0M118.1 497.9h0M111.5 499.9h0M114.9 503.5h0M105.2 506.9h0M79 500.2h0M125.6 497.5h0M100.4 499h0M96.3 499.4h0M114.5 507.9h0M111.8 505.4h0M143.8 498.1h0M84.8 503.4h0M126.6 503.3h0M130.1 495.6h0M108.2 503.4h0M123.8 504.7h0M116 505.9h0M94.9 501.6h0M117.6 502.6h0M120.5 503.4h0M92.8 499h0M126.2 501.6h0M110.8 499.2h0M138.9 502.2h0M85.7 497.8h0M138.1 499.8h0M108.8 500.1h0M99.6 499.6h0M115 493.2h0M134.3 497.2h0M131.9 501.3h0M130.3 502.3h0M154.8 498.5h0M130 497.6h0M126.2 508.8h0M112.5 505.7h0M113.1 496.8h0M108.3 493.8h0M87.2 501.6h0M118.1 506.3h0M121 503.1h0M106.1 495.3h0M144.8 500.1h0M150.3 497.4h0M107.4 502.9h0M101.2 500.1h0M117.6 500.9h0M91 499h0M85 499.1h0M115.4 499.6h0M132 496.1h0M137.9 504.2h0M120.5 498.4h0M105.1 493.5h0M114.2 495.3h0M118.7 502.2h0M107.7 498.5h0M111 503.8h0M106.8 500.8h0M117.8 500.5h0M112.3 506.1h0M110.2 502.2h0M139.5 497.7h0M131.8 501.4h0M112 496.3h0M127.3 496.7h0M132.3 501.3h0M126 497h0M105.1 493.7h0M112.1 499.4h0M115.9 496.8h0M133.7 497h0M123.2 495.7h0M115.5 507.8h0M109.2 497.8h0M135.2 500.5h0M96.8 496.9h0M129.9 498.6h0M112.2 501.3h0M108 502.9h0M128.4 492.4h0M123.6 493.9h0M89.8 501.8h0M105.8 508.8h0M96.7 503.2h0M127.5 493.9h0M125.5 503.8h0M128.4 491.9h0M116.5 503.3h0M118.6 496.9h0M115.7 500.8h0M79.9 498.4h0M120.8 499.1h0M144.4 501.4h0M126.6 496.7h0M127.7 498.8h0M126.1 507.2h0M133.8 495.9h0M121.3 495.1h0M146.6 499.3h0M140.2 501.5h0M71.7 499.9h0M102 495.7h0M116.3 495.2h0M104.4 494.2h0M101.7 494.5h0M131.2 507.7h0M109.4 500.4h0M109.7 507.9h0M139.3 491.7h0M128.6 494h0M112.7 499.3h0M130 500.4h0M89 499.7h0M114.4 504.2h0M125.3 499.2h0M124.6 504.2h0M136.9 502.5h0M107.1 498.7h0M121.1 500.7h0M100.5 504h0M126.6 497.9h0M133.6 505.2h0M103.5 498h0M108 499.1h0M111.5 499.9h0M113.9 499.4h0M79.9 499.7h0M106.2 499.3h0M146.7 493.5h0M113.4 499.2h0M122.5 500.1h0M93.6 496.7h0M128.5 491.5h0M116.8 503.9h0M129.8 496.3h0M132.5 510.1h0M119.1 498.1h0M132.4 495.6h0M107.4 502.7h0M79 499.9h0M123.4 499.6h0M130.7 497.3h0M105.6 503.1h0M117 496.8h0M108.8 497h0M127.2 503.7h0M124.9 498.9h0M106.4 502.1h0M93 499.8h0M133.5 493.6h0M124.3 501h0M84.9 498.1h0M133.9 495.3h0M108.9 492.4h0M147 496.7h0M120.6 495.6h0M101.4 498.1h0M124.5 501.4h0M144.7 494.5h0M100.9 501.1h0M68.4 501.3h0M110.1 504.7h0M101.8 500.3h0M98.5 503h0M126.7 498.1h0M124.8 499.5h0M111.2 500.3h0M131.3 507.2h0M103 502.2h0M114.8 499.6h0M98.9 497h0M125.6 500.2h0M126.1 501.7h0M131.4 494.6h0M84.6 499.9h0M137.4 503h0M129.5 494.6h0M131.8 500.9h0M146.1 500.9h0M104.1 504.2h0M131 497.8h0M128.3 509.3h0M132 507.8h0M85.9 498.8h0M123.9 500.2h0M140.3 492.9h0M137.3 500.1h0M75.6 500.7h0M118.4 501.5h0M119.3 509.1h0M108.8 503.6h0M148.4 500.5h0M113.1 501.9h0M123.3 502.3h0M122.4 505.5h0M151.8 497.4h0M145.2 497.5h0M114.6 499.3h0M142.9 492.5h0M147.5 495.6h0M122.6 492.2h0M121.6 500.8h0M118.7 504.6h0M109.7 501.7h0M116.6 505.7h0M146.5 495.8h0M114.3 505.5h0M125.5 496.8h0M132.5 494.1h0M138 499h0M118.1 507.2h0M126 502.1h0M96.3 498.2h0M148.1 497.9h0M125.1 496.6h0M136.2 502.9h0M103 494.7h0M117.1 504.6h0M126.4 501.3h0M112.3 499.5h0M144.3 501.3h0M130.3 498.8h0M93.7 499.3h0M103.8 502.1h0M149.8 497.9h0M114.9 493.6h0M145.3 496.8h0M128.9 499.2h0M117.1 503.8h0M130.2 500.7h0M95.9 500.3h0M120.9 495.3h0M104.2 498h0M105.1 498.1h0M136.6 498.7h0M111.5 506.4h0M108.1 502.5h0M71.8 501.7h0M101.2 490.5h0M107.8 499.7h0M123.3 502.8h0M147.9 500.1h0M89.1 497.1h0M133.1 499.4h0M143.1 499.5h0M88.7 501.9h0M129.5 502.5h0M86.2 500.3h0M135.1 505.8h0M111.8 494h0M130.9 500.6h0M110.6 501.8h0M145.6 499.9h0M134.6 498.5h0M150.4 497.4h0M140.2 498h0M111.9 498.4h0M92.9 499.7h0M96.8 506.5h0M127.6 502.7h0M105.2 500.5h0M124.4 506.8h0M89.5 497.5h0M121.4 502.3h0M117.4 509.2h0M141.9 502.1h0M119.9 498.9h0M85.6 500.1h0M107.5 501.2h0M107.6 500.7h0M116.6 499.2h0M120.8 502.8h0M118.5 503.5h0M125 509.5h0M113.9 506.1h0M116.5 502.8h0M100.4 504.4h0M134.9 503.7h0M89.8 498.3h0M131.4 496.7h0M106.4 498.7h0M120.8 502.3h0M129.8 501.2h0M117.5 497.2h0M133.1 495.6h0M111.9 504h0M115.4 501.3h0M115.5 494.9h0M125.6 505.8h0M115.9 506.2h0M124.1 503.8h0M144.4 498.1h0M127.3 500h0M126.6 494.5h0M96.2 501.4h0M96 500.4h0M131.2 499.2h0M115.2 502.7h0M140.1 505h0M110.4 499h0M139.7 499.7h0M111 496.1h0M112.5 495.4h0M143.4 505.6h0M92.3 500.5h0M91 495.6h0M131.5 497h0M146.9 496.4h0M134 504.1h0M122.4 498.1h0M112.8 504.6h0M71.1 500.3h0M103.7 503.8h0M104.3 499.3h0M152.2 496.9h0M121 500.4h0M133 497.2h0M128 494.5h0M116.3 494.5h0M96.4 498.1h0M79.5 501.1h0M110.5 490.4h0M113.8 499.1h0M130.5 501.9h0M119.4 499.6h0M142.8 498.8h0M151 497.2h0M121.3 500.6h0M121.9 498.5h0M135.4 498.6h0M127.6 494.6h0M134.7 501h0M129 493.5h0M115.2 493.8h0M110.4 501.4h0M136.7 500.2h0M148.4 498.8h0M113.4 500.6h0M82.5 499h0M132.3 493.8h0M97.6 505.4h0M113.6 500.2h0M113.5 494.9h0M142.8 500.2h0M87.8 497.4h0M99.5 500h0M108 495.4h0M110.6 502.8h0M102.2 494.8h0M102.7 502.8h0M118.1 491.8h0M114 504.4h0M110 501.6h0M93 496.8h0M149.8 499.9h0M127.4 500h0M128.1 497h0M121.5 496.1h0M93.4 500h0M125.3 486.3h0M112.1 504.4h0M127.5 499.7h0M133.8 502h0M103.7 497.9h0M89.9 500.9h0M115.1 503.1h0M118.8 506h0M111.6 506.4h0M129.9 499h0M116.1 495.8h0M126.9 497.5h0M112.3 497.6h0M125.5 505.1h0M147.9 500.2h0M112.2 506.5h0M153.2 496.9h0M108.5 501.6h0M148.3 495.4h0M133.6 497.5h0M128.7 502.4h0M101.2 497.1h0M121.9 508.5h0M112 498.6h0M107.4 501h0M117.3 500.1h0M77.1 500.3h0M123.1 509.3h0M138.9 503.6h0M119.8 498.2h0M106.8 504.5h0M105.2 499.7h0M83.2 501.7h0M93.8 497.4h0M145.3 495.8h0M110 492.7h0M130.9 493.3h0M120.6 496.9h0M145.7 500h0M124 490.2h0M116.5 490.3h0M114.3 501.5h0M148.5 501.9h0M128.6 499h0M108.8 497.3h0M120.6 500.5h0M107.2 498.9h0M131.9 501.3h0M134.3 495.3h0M95 495.4h0M128.7 504h0M121.8 505.6h0M121.4 499.7h0M133.5 494.7h0M79.3 500.4h0M142.9 497.6h0M131.4 498h0M108.1 498.2h0M89.5 497.9h0M104.1 502.4h0M65.9 501.9h0M126.8 499.5h0M108.6 502.6h0M137.1 498.4h0M113.7 486.6h0M90.1 499.4h0M91.8 500h0M135.2 498.6h0M113.6 497.3h0M148.4 498.5h0M105 499.6h0M149.7 499.5h0M120 496.6h0M86.5 498.7h0M125.2 504.4h0M150.1 497.5h0M131 499.2h0M154.2 498.2h0M135.3 501.9h0M108.2 498.9h0M117.1 502.5h0M126.3 501.8h0M123.9 500.2h0M99 498.1h0M123.4 499.1h0M125.2 504.9h0M135.5 502.3h0M101.8 502.6h0M116 501.1h0M126.1 497.2h0M118.1 493.8h0M129.6 498.1h0M140.4 498.7h0M117.8 494.7h0M134.9 501h0M108.1 495h0M120 493.3h0M101.4 496.4h0M107.7 501h0M114.2 507.5h0M136 497.4h0M98.7 500.2h0M108.4 494.4h0M107.2 496.3h0M138.8 495.8h0M116.9 498.8h0M125.8 498.7h0M93.5 500.7h0M124.7 500.5h0M116.5 500.1h0M99.9 499.6h0M143.4 499.2h0M80.3 497.9h0M141.5 500.1h0M128.2 500h0M142.4 498h0M135.4 497.1h0M132.1 505.5h0M85.5 500h0M105.4 494.4h0M79.1 501.4h0M121.2 494.8h0M148.7 493.8h0M119.9 497.2h0M139.3 503.5h0M136.3 504h0M92.6 496.7h0M130.1 499.4h0M121.7 505.2h0M108.3 501.5h0M108.8 501.5h0M88.6 497.5h0M117.1 498.1h0M123.7 500.7h0M106.9 499h0M96.8 496h0M128.3 501.2h0M122 500.1h0M112 497.5h0M144.3 498.5h0M140.5 501.7h0M106 505.1h0M109.4 499.9h0M113.2 499.2h0M139.8 498.2h0M139.8 508h0M115.4 501.1h0M106.2 497.6h0M143.5 500.6h0M128.3 503.4h0M114.7 505.1h0M105 492.9h0M113.2 506.8h0M130.6 507h0M143.3 497.9h0M122.7 501.7h0M97.5 496.9h0M118.2 501.3h0M120.1 500.4h0M96.8 501.8h0M133.4 504.1h0M124 492.3h0M121.1 505.9h0M110.8 504.8h0M134.6 503.4h0M120.6 498.2h0M128.7 500.2h0M139.6 498.1h0M89.8 499.7h0M126.2 490.3h0M146.6 495.3h0M100.1 497.6h0M93.9 501h0M121.7 499.1h0M90.9 500.1h0M122.9 504h0M116.1 501.8h0M65.6 500.4h0M129.6 496.6h0M103.4 496.1h0M106.2 504h0M108.6 495.8h0M132 500.2h0M107.3 499.3h0M100.4 499.9h0M109.2 504h0M119.6 493.6h0M107 504.1h0M142.6 496.3h0M111.3 497.5h0M111.4 502.4h0M109.6 498.1h0M120.5 498.5h0M152.1 496.5h0M119 505.2h0M106.6 496.7h0M131.2 499.7h0M117.5 498.9h0M113.7 494.3h0M147.5 499.6h0M89.7 497h0M110.1 491.9h0M105.9 502.3h0M119 495.1h0M106.5 491.9h0M104.7 501.1h0M133.5 497.8h0M124.2 497.2h0M116.8 493.3h0M123.5 501.2h0M137.6 495.9h0M115.1 501.6h0M139 500.3h0M127.6 493.7h0M118.3 509.5h0M140.4 499h0M130.7 504.2h0M132.6 501.3h0M119.1 501h0M127 499.9h0M112 501.6h0M131.8 499.1h0M89.2 502.2h0M143.3 497.9h0M119 501.6h0M101 496.2h0M121.1 488.5h0M109 503h0M108.9 499.6h0M118.1 498h0M135.3 501.2h0M128.7 503.8h0M137.7 502.3h0M90.8 502.2h0M107.1 492.6h0M119.4 496.1h0M142.2 504.3h0M96.1 503.1h0M102.1 497.5h0M89.5 501h0M123.4 499.4h0M88.5 499.5h0M144.2 501.6h0M115.8 507.7h0M126.4 504.6h0M139.6 500.3h0M134.2 506.6h0M108 498.4h0M136.6 498.7h0M120.4 503.7h0M111.9 500.7h0M87.4 501.1h0M116.3 500.8h0M97.3 498.6h0M82.9 501.9h0M124.9 505.9h0M102.4 502.4h0M133.5 498.7h0M113.4 500.3h0M130.1 504.8h0M109.1 497.2h0M125.4 500.9h0M124.4 497.9h0M119 495.9h0M121.1 492.7h0M138.8 498.4h0M107.9 499.9h0M114.3 497.8h0M129.1 497.6h0M140.7 500.9h0M100 500.3h0M134.5 501.1h0M131.2 496.8h0M129.6 498.1h0M85.2 498.1h0M110.4 495.8h0M148.5 499.4h0M93.2 497.7h0M111.3 492.1h0M147.6 501.4h0M138.9 497.8h0M115.7 494.3h0M127.6 487.7h0M105.3 503.1h0M125.9 506.1h0M126.6 502h0M121.4 490.1h0M154.6 497.9h0M133.6 496.1h0M142.3 500.4h0M97.2 500.2h0M123.2 501.3h0M97.1 499h0M123.7 502h0M129.6 491.9h0M103.6 498.2h0M84.1 499.8h0M98.4 502.6h0M134 497.3h0M85 501.3h0M127.5 498.5h0M102.7 497h0M130.5 494h0M124.9 502.2h0M140.8 495.2h0M122.2 502.9h0M120.8 497.7h0M141.7 498.2h0M123.3 493.9h0M127.4 502.8h0M125.4 490.7h0M129.5 497.8h0M84.1 499.3h0M115.2 499h0M141.2 495.9h0M119.8 492.4h0M117.1 494.3h0M120.5 498.7h0M122.7 496.4h0M142.1 498.7h0M114.2 501.6h0M117.2 495.1h0M114.9 503.1h0M104.4 489.2h0M137.3 493.2h0M124 505.6h0M137.5 499.1h0M111.2 500.1h0M123.2 496.8h0M95 500.5h0M122.9 499.7h0M106.3 496.6h0M133.2 497.2h0M99.6 497.5h0M95.1 497.3h0M105.3 510h0M119.9 495.6h0M98.7 499h0M135.5 500.6h0M102.7 502.2h0M125.6 500.3h0M137.3 502.6h0M141.3 496.9h0M90.8 499.3h0M110.8 495.7h0M90.9 501.5h0M85.5 497.8h0M100.8 498.1h0M90.5 500.9h0M108.9 497.2h0M138.8 500.2h0M125.6 494h0M130.5 501.2h0M118 500.7h0M125 504.5h0M105.6 494.9h0M110.5 490.8h0M86.3 500.4h0M111.2 499.1h0M136.6 500.6h0M131.5 502.6h0M113.5 501.8h0M129.7 499h0M125.9 495h0M74.5 498.8h0M122.5 491.7h0M126.2 499.1h0M120.9 497.8h0M130.8 493.9h0M135.6 491.8h0M121.1 507.2h0M76.5 501.5h0M108 497.5h0M136.9 499.4h0M130.8 500.7h0M120.6 495.5h0M152.6 497.5h0M111.1 493.9h0M120 499.4h0M124.1 501.2h0M107.9 500.9h0M105.7 495.2h0M127.9 503.4h0M118.4 492.5h0M75.3 501.8h0M133.8 499.3h0M145.8 500.8h0M76.1 499.1h0M117.1 495.9h0M114.8 508.4h0M116.9 499.2h0M126.3 497.6h0M132.7 501.1h0M133.7 503.7h0M82.7 499.8h0M130 501.7h0M114.2 503h0M108.5 497.1h0M127.7 501.5h0M96.7 500h0M117 497.1h0M121.7 501.3h0M106.8 502.8h0M110.6 496.7h0M91.1 500.3h0M102.4 496.4h0M98.4 501.8h0M126.4 500.8h0M132 492.5h0M104.3 503.6h0M93.4 501h0M111.8 499.4h0M119.9 499.1h0M140.3 497.4h0M122.1 502.7h0M107.3 503.1h0M121.5 499.5h0M112 503.7h0M130.5 504h0M124.2 503.1h0M131.1 502h0M104.5 494.2h0M114.9 497.9h0M111.4 493.5h0M122.4 499h0M131.3 499.3h0M78.2 499.6h0M133.5 498.9h0M127.6 500.7h0M127.8 493.2h0M122.6 496.7h0M108.7 499h0M121 500.2h0M141.9 498.2h0M113.7 508.4h0M117.6 503.1h0M103.2 507.5h0M102.6 495.4h0M98.8 496.2h0M137.9 497.5h0M94.2 495.8h0M137.3 501.9h0M123.7 497.4h0M145.1 496.2h0M123.2 495.5h0M116.9 487.2h0M139.5 503.4h0M134.7 502.4h0M125.6 498.4h0M101 503.1h0M105.8 500.6h0M134.9 501.4h0M109.2 501h0M120.3 494h0M85.4 501.2h0M71.2 498.3h0M130.7 498.8h0M118.1 498.9h0M127 492.5h0M107.3 498.8h0M119.7 497.1h0M142.1 496.7h0M129.1 502.3h0M87.9 498.8h0M137.1 496.1h0M94.4 499.8h0M148.6 499.5h0M114.7 502.1h0M108.3 505.7h0M75.4 500.4h0M129.5 503.2h0M133.8 500.7h0M106 496.3h0M98.1 505.8h0M116.7 504.2h0M86.7 498.2h0M151.8 498.9h0M133.6 499.9h0M121.8 505.7h0M122.4 501.9h0M122.4 496.7h0M93.9 501.7h0M116.3 505.4h0M124.7 496.5h0M118.4 493.6h0M119 498.7h0M110.4 499.8h0M116 492.2h0M85.1 502.9h0M89.9 502.6h0M103.6 499.2h0M121.2 495.6h0M127.7 499h0M114.2 494.6h0M120.2 496.3h0M84.6 501.8h0M126.8 507.9h0M116.1 501.6h0M132 499.9h0M107 491.9h0M112.1 499.3h0M125.6 491.6h0M93.4 504.9h0M109.8 493.8h0M125.3 491.6h0M139.7 490.3h0M102.9 497h0M108.5 498.4h0M132.2 498h0M133.5 495.6h0M136.9 505.9h0M137.5 496h0M116.2 501.2h0M152.1 500.4h0M114.3 503.4h0M126.7 498.6h0M102.4 498.6h0M98 498.6h0M108.9 502.8h0M151.7 501.6h0M143.9 502.8h0M96.8 502.6h0M109.6 493.2h0M125.1 501.2h0M109.2 497.2h0M75.9 498.8h0M143 491.4h0M126.5 503.8h0M114.6 498.5h0M67.8 500.7h0M130.3 497.2h0M116.3 510.4h0M117 498.9h0M114.6 496.8h0M141.1 496.4h0M125.4 496.4h0M100.1 502.6h0M128.3 500.4h0M127.5 504.6h0M96.3 498.7h0M133.8 500.4h0M127 497.9h0M107.4 506.7h0M105.8 496.7h0M99.8 506.8h0M137.5 502.1h0M105.3 508.2h0M85.6 500.7h0M139.4 507.2h0M120.3 496h0M145.1 497.6h0M127.4 505.6h0M119.7 500.6h0M107.9 498.7h0M110 500.1h0M137.3 503.3h0M122.1 502h0M121.3 501.5h0M130.5 504.9h0M127 508.2h0M128.1 492.4h0M123.3 502.8h0M120.3 497.3h0M149.6 499.3h0M103.2 497h0M113.8 503.2h0M72 499h0M123 501.8h0M133.8 501.3h0M94.1 507.2h0M93.6 495.4h0M120.7 500.5h0M112.1 500.3h0M96.9 497.3h0M146.8 496.5h0M102.5 495h0M135.7 497.3h0M79.4 499.7h0M129.8 499.2h0M112.6 510.7h0M127.6 494.3h0M128.9 500.2h0M141.7 500.6h0M107.4 495.8h0M124.2 496.1h0M113 505.1h0M110.2 503.3h0M98.3 493.6h0M124.7 496.5h0M125.9 497.8h0M77.5 499.9h0M123 501.5h0M104.3 497.9h0M121.2 503.7h0M114.4 497.5h0M106.2 500.8h0M120.7 496.4h0M144.1 501.7h0M82.6 500.4h0M100.4 491.9h0M101.5 498.1h0M74.4 498.6h0M125.1 498.4h0M107 498.5h0M117.1 498.3h0M136.5 502.2h0M99.4 498.3h0M117.6 502.2h0M110.9 504.7h0M130.4 496.8h0M114.9 503.3h0M154.6 498.2h0M120.2 502.2h0M135 503.4h0M128.1 501.1h0M90.9 500.3h0M125.7 506.5h0M125.6 487.9h0M111.5 497.5h0M116.4 510.1h0M122.6 498.4h0M113.7 501.8h0M83.8 497.8h0M144.3 496.8h0M97.3 494.6h0M109.4 499.7h0M135.5 499.3h0M121.9 499.2h0M104.4 498.1h0M125.6 502.4h0M126.2 490.1h0M120.5 501.1h0M82.9 461.4h0M104.9 464.3h0M119.8 478.2h0M75.8 489.3h0M111.5 483.6h0M124.7 484.8h0M95.5 517.7h0M95 530h0M92.2 539.5h0M126.9 514.4h0M113.7 511.1h0M108.8 487.3h0M115.9 485.6h0M123 487.7h0M86.8 493.4h0M73 495.9h0" stroke="#0a0a0a" stroke-width="2.3" stroke-linecap="round" fill="none"/>
<text x="136.5" y="478.9" font-size="8.7" text-anchor="start" fill="#231f20" font-style="italic">CXCL10</text>
<line x1="153.5" y1="482.6" x2="150.9" y2="490.5" stroke="#231f20" stroke-width="0.75" />
<path d="M149.8 493.6 L149.4 489.5 L152.6 490.5 Z" fill="#231f20"/>
<path d="M246.6 498.3h0M187 500.6h0M188.3 500.6h0M268.5 494.5h0M183.2 501.4h0M252.9 493.7h0M187.9 500.3h0M217.3 499h0M222.5 499h0M232.1 495.1h0M224.1 498.7h0M226.3 499.4h0M201.7 501.2h0M222.1 497.6h0M201.3 498.7h0M255.1 499.9h0M268.6 499.7h0M198.8 500.8h0M181.8 501.8h0M230.4 494.9h0M197.3 500.4h0M254.8 499.5h0M221.2 499.9h0M216.2 497.6h0M250.3 497.5h0M246.5 499.8h0M208.7 499.6h0M245.3 499.4h0M270.3 492.5h0M272.8 495.6h0M250.8 497.1h0M268.4 498.4h0M190.5 500h0M228.7 499.4h0M196.5 501.1h0M264.3 500.8h0M238.3 497.1h0M268.3 498.4h0M216.7 498.2h0M208.5 500.6h0M210.9 502.3h0M219.8 500.5h0M182.1 500.4h0M241.5 499.9h0M203.2 500.8h0M257.8 494.5h0M255.7 495.9h0M270.8 492.9h0M193.6 501.3h0M275.4 498.7h0M217.7 500.3h0M188.2 501.4h0M193.3 501.3h0M231.7 501.7h0M268 496.1h0M224.6 498.9h0M236.1 498.6h0M219.9 498.3h0M207 498.5h0M243.3 499.7h0M256.9 495.5h0M180.6 500.1h0M180.6 501.1h0M257.6 495.9h0M243.4 498h0M278.2 494.9h0M232.3 499h0M184.2 502h0M226.9 498.1h0M185.6 500.9h0M191.9 500.5h0M227.5 497.9h0M247.7 499.8h0M182.6 501.9h0M234.4 497.1h0M181.9 501.7h0M202.9 499.5h0M249.8 495.8h0M188.4 500.8h0M267.8 498.6h0M247.8 491.9h0M222.3 499.4h0M224.6 498.3h0M266.7 492.2h0M257.6 495.8h0M208.1 500h0M256.5 496.8h0M179.2 501.3h0M197.3 500.5h0M235.6 495.7h0M270.5 497.7h0M212.1 502.7h0M278.4 497.5h0M277 498.1h0M188.6 500h0M272.9 498.1h0M196.2 500h0M183.4 500.6h0M213.5 500h0M213.3 499.9h0M195.2 499.2h0M239 497.1h0M226.1 498.7h0M207.9 499.5h0M280.5 500h0M228.2 500.1h0M266.6 494.8h0M230.2 497.8h0M270.3 498.1h0M266.9 501.3h0M203.2 498.5h0M181 500.8h0M212.3 497.4h0M203.2 499.6h0M193.1 498.5h0M211.6 498.8h0M256.2 498.6h0M179.8 500.7h0M185.2 502.1h0M222.3 503.7h0M250.1 496.2h0M258.2 495.1h0M181.2 500.7h0M227.7 499.4h0M230.8 498.4h0M269.9 493.8h0M191.5 501.3h0M241 503h0M183.6 499.9h0M202.5 498.4h0M271.9 496.6h0M251.9 496h0M247.1 496.7h0M229.2 498.4h0M217.3 499.1h0M211.4 497.8h0M258.8 498.3h0M232 498.9h0M236.6 500.3h0M183 500.3h0M243.9 496.2h0M247 497.5h0M210.4 498.8h0M205.8 497.6h0M215.4 496.5h0M258.2 498.6h0M233.4 498.4h0M269.9 495.6h0M276.7 491.2h0M205.5 500.6h0M237.1 497.5h0M198.8 501h0M249.9 498.5h0M248.9 498.5h0M277 497.5h0M238.9 501.5h0M190 497h0M183.2 501.6h0M210.2 496.8h0M260.9 495.9h0M248.7 495.5h0M258.7 493.9h0M198.6 500h0M185.6 502.2h0M279.5 497.1h0M261.1 498.4h0M189 499.9h0M271.8 493h0M252 496.4h0M201.8 501.6h0M240.6 496.7h0M213.3 495.6h0M195.3 499.1h0M200.3 499.4h0M228.4 495.6h0M255.3 495.5h0M209.6 499.3h0M210.1 498.9h0M270.7 497.1h0M213.1 499.6h0M226.8 499.5h0M185.1 500.5h0M226.8 498.9h0M191.4 500.7h0M182.8 502.7h0M230 499.8h0M192.7 498.8h0M209.4 497.2h0M272.1 494.5h0M233.2 498.6h0M236.6 498.5h0M267.7 496.2h0M255 500.5h0M178.3 501.5h0M201.3 501.5h0M188.9 500.4h0M241.3 496.8h0M280 497.1h0M188.3 500.9h0M226.8 499.2h0M210.3 496.8h0M211.2 497.5h0M185.9 500.6h0M271.4 497.4h0M186.7 499.5h0M234.8 501.2h0M196.6 502.4h0M188.3 499.6h0M223.4 498.6h0M252.7 494.9h0M267.9 495.4h0M199.4 499.6h0M259 496.6h0M198.7 498.3h0M186.3 500.3h0M187.1 499.6h0M198 500.1h0M212.8 501.6h0M195.7 499.7h0M240.9 497.7h0M179 501.4h0M260.1 498.4h0M253 496.7h0M256.5 500.1h0M269.1 501.4h0M182.9 501.1h0M217.9 501.9h0M191.4 502.8h0M274.4 496.8h0M223.9 498.6h0M279.8 492.5h0M208.4 497.5h0M274.2 496.3h0M272 496.6h0M212.6 497.4h0M278.5 495.4h0M207 495.7h0M225.7 496.7h0M268.6 496.9h0M228.1 498.3h0M270.8 493.3h0M263.2 493.8h0M265.8 504.5h0M259.8 495.7h0M192.3 499.4h0M188.3 499.9h0M267.5 498.9h0M216.9 498.4h0M270.4 493h0M272.2 499.9h0M207.8 499.8h0M274.6 497.9h0M181.8 501.3h0M241 498.6h0M237.5 498.2h0M193.7 502.8h0M263.9 496.8h0M229.2 500h0M267.6 493.7h0M188.7 502.1h0M208.6 500.2h0M236.6 497.9h0M208.2 497.7h0M275.2 494h0M231.1 499.8h0M181.7 500.3h0M195.4 499.9h0M249.9 492.1h0M216.9 500.4h0M186.7 501.4h0M276.2 495h0M245.8 496h0M260 499h0M267.9 497.6h0M187.6 501.3h0M230.8 498.1h0M245.4 499.3h0M277.5 496.5h0M221.7 501h0M236.3 497.4h0M208 500.5h0M271.9 490.2h0M179.8 501.2h0M197.4 500.8h0M237.7 497.5h0M196 501.2h0M267.3 498.4h0M235.5 499.5h0M279.7 495.7h0M258.5 494.8h0M210.4 499.3h0M181.7 501.2h0M215.4 502.5h0M265.3 499.9h0M207.9 499h0M222.8 499.8h0M213.8 500.1h0M182 501.5h0M214.2 497.7h0M242.1 495.9h0M217.4 499.5h0M223.4 498.1h0M225.8 500.3h0M266.1 498.1h0M226 495h0M275.6 499.9h0M246.8 499h0M180.7 501.4h0M240.3 496.2h0M183.7 500.4h0M214.2 497.3h0M212.2 500.4h0M178.2 500.4h0M208.6 498.2h0M211.6 499.2h0M235.9 500.2h0M217.7 496.5h0M267.4 497.6h0M196.8 500.2h0M277.9 497.1h0M280.2 496.5h0M261.7 497.4h0M280 497.6h0M203.8 500h0M221.6 497.5h0M274.2 494.6h0M276.7 493.8h0M270 499h0M190.6 500.2h0M210.5 500h0M193.6 501.3h0M246.9 497.5h0M261.5 496.2h0M260.4 490.1h0M188.3 500.6h0M181.7 501.3h0M256.5 497.8h0M242.5 500.6h0M251.2 500.2h0M236.9 497.8h0M278.4 497.8h0M240.1 500h0M235.8 498.8h0M248.8 495.8h0M247.7 497.1h0M229.6 495.6h0M271 490h0M210.6 499.6h0M213.5 498.2h0M183.9 501.1h0M263.1 494.9h0M239.6 499.3h0M196.7 498.6h0M253.4 498h0M258.5 494.5h0M211 501.1h0M185.4 501.4h0M215.5 502.2h0M254.8 495h0M218.6 500.3h0M186.8 501.6h0M256.8 497.2h0M210.6 498.8h0M232.3 495.9h0M181.8 501.7h0M255.4 496.1h0M186.1 500.3h0M191.7 501.2h0M193.9 501.5h0M179.2 501.1h0M180.6 501.3h0M261.5 495.1h0M207.4 499h0M220.3 496.7h0M195.6 501.1h0M240.1 495h0M261.4 493.1h0M256.6 496.3h0M269.9 495.8h0M244.7 495.9h0M187 500.3h0M189.5 501.6h0M218.7 497.9h0M270.1 494h0M219.1 499.2h0M228.8 496.1h0M182.2 500.4h0M255.1 495.7h0M214.1 495.6h0M190.7 501.5h0M264.6 496.2h0M272.3 495.8h0M230.4 496.8h0M236.3 497.6h0M278.8 498.4h0M238 496.1h0M204.2 498.9h0M265 498.7h0M241.1 499.1h0M279.2 498.1h0M244.1 502.4h0M182.9 500.9h0M268.1 497.5h0M245.3 498.1h0M222.9 498.4h0M265.9 497.8h0M241.2 499.3h0M266.9 496.7h0M182.2 501.5h0M236.4 497.7h0M191.2 500.3h0M225.7 498.2h0M268.5 495.7h0M234.6 496h0M216.6 497.5h0M239 495.2h0M230.7 500.4h0M183.4 500.8h0M269.3 496.8h0M185.9 499.6h0M220.8 500h0M180.4 501.3h0M203.8 501.3h0M262.8 497.7h0M248.1 502.7h0M201.6 498.4h0M194.6 501.1h0M270.7 498.4h0M230.1 500.7h0M264.1 497.6h0M235.6 498.7h0M204 499.9h0M256.6 498.9h0M232.6 500h0M194.6 501.7h0M178.1 501.2h0M228.1 500.4h0M202.5 501.5h0M189.2 502.2h0M231.8 498.9h0M245.7 495.6h0M206 499.4h0M276.6 495.1h0M274.7 499.2h0M224.9 498h0M241.4 499.3h0M228.5 494.6h0M212 499.9h0M250.2 499h0M186.7 500.6h0M258 496.3h0M200.7 497.5h0M254.4 498.5h0M190 500.1h0M279.3 493.8h0M201.7 498.8h0M229.4 496.9h0M243.2 494.3h0M242 499.6h0M204.1 500.4h0M234.4 501h0M194.5 498h0M220.7 500.6h0M208.3 499.2h0M214.5 498.9h0M272.1 497.3h0M213.9 499.5h0M200.7 501.6h0M240.5 498.5h0M180.4 501h0M242.8 495h0M202.5 496.4h0M269.8 489.4h0M216.1 500.8h0M255.9 497.2h0M220.2 496.9h0M222.5 496.9h0M200.3 500h0M231.5 496h0M213 497.1h0M263 495.7h0M250 493.2h0M256.6 495.5h0M257.3 501.2h0M224.2 501.2h0M205.5 499.8h0M241.5 496.4h0M183.6 500.4h0M252.5 493.6h0M232.7 498.5h0M226.7 497.3h0M235.1 497.3h0M273.4 501.1h0M235.6 499.9h0M252.7 497.4h0M231.8 497.8h0M259.4 493.8h0M266 499h0M254.4 496.2h0M262.9 496.5h0M188.6 503h0M224.4 502.2h0M253.8 499.3h0M183.5 500.4h0M200.4 501.8h0M197.1 499.8h0M229.5 500.2h0M202.9 499.1h0M182.9 502.5h0M198.5 500.6h0M243.9 500.1h0M227.7 500.6h0M188.9 500.3h0M190.2 500.2h0M256 496.4h0M250.4 497.1h0M277.3 501.3h0M214.7 500.4h0M207.7 501h0M261.6 498.5h0M219.8 500.5h0M262 495.6h0M179.8 501.3h0M221.9 497.5h0M253 498.7h0M213.5 498.5h0M178.9 501.2h0M220.8 498.3h0M275 494h0M185.7 501.3h0M199.5 500.7h0M189.9 502h0M210.6 503.5h0M268.6 498.4h0M257.5 495.4h0M254.7 495h0M239.9 495.7h0M185.8 500.1h0M268.5 493.8h0M256.8 493.7h0M206.5 499.8h0M202.2 501h0M208.5 501.4h0M200.9 499.6h0M191 498.3h0M278.7 494.3h0M247.6 499.3h0M271.2 498.7h0M240.8 494.4h0M242.4 500.4h0M184.2 501h0M270.8 495.4h0M184 502h0M261.9 496.9h0M208.7 500.1h0M247.5 495.9h0M220.3 498.1h0M178.9 501.3h0M276.2 496.8h0M197.7 499.2h0M186.1 499.9h0M257 498.2h0M188.3 499.2h0M184.5 499.9h0M252.2 492.4h0M179.8 501.1h0M198.7 499.6h0M219.1 498.4h0M204.7 498.5h0M254.1 495.8h0M186.9 501.5h0M206.4 499.7h0M231.4 498h0M207.6 499h0M227.1 497.4h0M244.8 498.7h0M229.7 498h0M241.3 498.9h0M200.4 500.1h0M220.3 500.2h0M223.5 498.8h0M259.5 501.6h0M187.9 500.3h0M187.6 499.8h0M190.8 500.1h0M230 500.4h0M223.6 497.8h0M212.2 496.4h0M238.2 494.1h0M213.4 498.6h0M240.2 495.3h0M219.4 501.5h0M209.8 501.1h0M184.7 500.6h0M250.9 498.4h0M180.3 501.5h0M188.5 499.6h0M253.1 494.6h0M208.3 500.8h0M193.5 499.7h0M278.9 498.1h0M246.1 493.8h0M255.3 496.9h0M217 502.5h0M193 501.1h0M195.2 499.7h0M221.5 501.5h0M220.5 500.6h0M253.6 500.4h0M242.4 498.2h0M261.9 496.2h0M257.5 494.6h0M278.9 496h0M259.1 497.4h0M254.3 496.8h0M206.1 502.5h0M269.3 497.2h0M258.6 493.9h0M187.6 500.5h0M246.1 496.6h0M186.4 502.4h0M197.9 500h0M209.9 501.5h0M216.9 498.1h0M232.9 498.3h0M180 500.6h0M231.8 499.4h0M179.8 500.1h0M216.3 498.6h0M205.5 501.1h0M260.3 492.7h0M225.7 498.8h0M242.7 498.8h0M193.5 500.1h0M223.6 497.9h0M244.4 496.4h0M238.3 496.5h0M269.9 496.4h0M182.1 500.4h0M186.5 500.9h0M247.3 497.9h0M242.6 503.1h0M225.1 500.1h0M270.2 497.4h0M274 499.1h0M249 496.4h0M211 503.2h0M218.5 497.6h0M268.3 496.4h0M226.2 500h0M255 498.2h0M270.3 499.8h0M266.4 497.9h0M178.2 500.4h0M242.3 496.4h0M273.9 495.5h0M265.3 494.7h0M228.1 500h0M179.9 501.5h0M268.8 501.2h0M194.8 500.7h0M185.6 500.4h0M232.5 496h0M209 498.3h0M271.4 497.8h0M234 500h0M212.5 497.8h0M192 498.9h0M180.3 501.1h0M215.1 498.6h0M277.6 494.2h0M235.5 498.1h0M263.6 495h0M213.7 500.5h0M197.5 501.2h0M224.5 500.3h0M199 499.4h0M252.6 495.3h0M260.3 499.2h0M204.6 499.9h0M245.2 498.6h0M185.2 501.2h0M265.1 496h0M258 497h0M216.6 494.3h0M250.1 497.2h0M233.8 498.1h0M246.4 496.9h0M187.8 501.5h0M181.2 501.2h0M180.7 501.3h0M209.4 497h0M192.8 500.4h0M272.7 497.5h0M188.6 499.8h0M235.6 499.2h0M240.5 497.9h0M213.9 501.3h0M248.5 495.9h0M264.9 494h0M244.3 497.6h0M188.6 500.9h0M257.4 497.8h0M241.7 499.6h0M193.4 502.6h0M198.8 499h0M240.2 501.1h0M280 495.3h0M252 493.2h0M254.4 491.4h0M253.7 496.1h0M230.5 496.6h0M213.5 498h0M246.4 499.1h0M183.6 500.1h0M217.9 494.6h0M208.6 501.9h0M207.4 500h0M214.1 499.5h0M220.9 498.4h0M275.3 495.6h0M263.8 497.7h0M252.1 499.4h0M188.7 500.8h0M233.7 499.7h0M253.9 497.7h0M180.6 500.7h0M188.2 500.5h0M207.8 500.1h0M259.1 494.8h0M220.5 499.1h0M264.2 500.1h0M187.1 500.7h0M261.8 498.5h0M194.4 499.5h0M247.5 499.9h0M262.4 490.5h0M201.9 501.6h0M266.7 501.4h0M247.5 498.5h0M237 498.4h0M276.3 495.5h0M239 495.1h0M226.3 499.8h0M268.9 494h0M223 493.3h0M245.8 498.7h0M223.8 500.7h0M201.2 500.1h0M220.1 500.7h0M216.3 499.7h0M261.1 495h0M238.2 501.1h0M239.7 498.9h0M191.9 498.3h0M206.8 501.7h0M183.5 501.2h0M208 500.9h0M219.3 498h0M206 500.2h0M227.7 496.3h0M266.2 496.6h0M269.8 496.6h0M258.8 496.5h0M231.5 494.7h0M187.6 501.3h0M192.2 502.1h0M239.6 493.8h0M256.6 499.9h0M214.5 500.8h0M243.2 499.6h0M181.6 500.8h0M211.1 499.6h0M254.6 498h0M213.7 498.9h0M230.6 502.3h0M259.5 495h0M194.1 500.5h0M182.1 500.1h0M220.3 497.8h0M194.2 500.4h0M219.9 500.6h0M230.8 498.4h0M205.7 496.6h0M225.8 498.1h0M217.4 497.5h0M190.4 498.6h0M262.8 501h0M197.4 498.7h0M269.9 495h0M207.3 500.9h0M259 495.9h0M209.1 498.9h0M237.4 499.4h0M246.2 494.8h0M209.6 500.9h0M239.7 495.5h0M207 498.5h0M218.8 498.3h0M274.5 494.5h0M220.2 499.4h0M201.4 499.7h0M250.7 495.7h0M225.6 496.5h0M278.2 497.1h0M238.8 498.4h0M192.7 501.4h0M243 498.3h0M205.6 499.5h0M189.7 498.7h0M193.5 500h0M262.9 494.2h0M239.7 499.4h0M274.1 501.9h0M237.7 495.8h0M276.1 496.5h0M238.9 495.2h0M209.8 500.5h0M203.9 501.2h0M178.2 501.5h0M277 495.2h0M229.4 498.3h0M187.5 501.7h0M234.7 498.1h0M200.6 500.1h0M220.8 500h0M262.8 495.7h0M223 497.7h0M230.6 500h0M210.9 497.3h0M268.8 493.6h0M221 498h0M231.2 497.8h0M268.4 496.6h0M178.7 501.4h0M203.8 498.6h0M218 500.6h0M278.9 491.7h0M202 498.8h0M203.2 499.8h0M250.5 497.2h0M210.6 499h0M264.3 493.7h0M198.8 503.5h0M220 497.1h0M237.2 500.7h0M221.2 499h0M257.8 496.7h0M279.2 492.4h0M180 500.8h0M271.4 498.8h0M210.7 500h0M228.1 495h0M249.5 497.3h0M264.4 493h0M183.9 501.1h0M238.5 497.3h0M214.8 496h0M207.3 499.2h0M229.6 498.5h0M235.1 495.5h0M240.8 498.7h0M222.4 498.7h0M261.5 500.6h0M214.5 500h0M196.2 500.4h0M253.1 493.6h0M254.7 496.9h0M265.2 489.1h0M184.7 501.9h0M212.3 500.6h0M212.2 500.4h0M220.5 498.2h0M277.3 494.4h0M198.6 498.6h0M260.4 491.8h0M215.8 501.6h0M217.9 495.7h0M254.1 499.5h0M240.2 499h0M212.2 499.6h0M252.1 496h0M221.5 500.3h0M179.5 501.4h0M276.8 494.1h0M271.2 493.4h0M251.2 495.6h0M184.3 501.9h0M235.4 498h0M249.8 493.7h0M231.1 496.4h0M211.1 500.1h0M217.4 500.4h0M211.1 497.3h0M212.9 498.7h0M225.9 496.1h0M197.9 495.8h0M184.7 500.5h0M254.2 493.3h0M212.8 500.8h0M262.8 497.6h0M200.3 499.4h0M270.5 494.2h0M179.5 500.9h0M252.5 496h0M232.8 493h0M225 501.4h0M244.4 496.3h0M238.1 496.5h0M274.9 498.3h0M241.7 497.5h0M247.5 498.8h0M236.7 499.1h0M267.6 492.3h0M236.7 499.6h0M263.1 498.4h0M217.8 498.4h0M182.6 501.2h0M267.6 493.5h0M187.7 499.1h0M198.9 500.9h0M233.2 500.7h0M199.2 498.5h0M223 497.4h0M186 501.5h0M270.7 491.6h0M246.5 496h0M184.8 500.6h0M208.6 500.3h0M256.7 497h0M255.8 496.5h0M181.5 502.4h0M187.4 501h0M240.7 498h0M262.4 495.9h0M213.7 500.9h0M226.8 495.7h0M240.4 497h0M238.8 498.3h0M241.1 500h0M203.3 500.6h0M218.3 498h0M213.6 498.4h0M180.9 500.9h0M279.8 492h0M225.4 497.2h0M241.5 499.1h0M237.3 500h0M272.6 497.2h0M210.2 496.1h0M190 498.8h0M275.4 494.5h0M209.6 501.2h0M207.6 497.5h0M236.2 499.1h0M187.3 500.6h0M186.2 499.9h0M216.7 501.6h0M271.8 494.5h0M208.7 500h0M199.2 500.4h0M269.5 499.8h0M181.6 501.3h0M178.4 502h0M268.1 495.2h0M205.4 501.5h0M256.3 500.2h0M204.6 499.2h0M182.5 500.2h0M277.6 497.4h0M209.6 501.5h0M227.7 498.8h0M206.5 498.9h0M221.6 497.7h0M265.4 499.5h0M262.3 494.6h0M245.9 495.5h0M207.4 499.4h0M273.2 494.6h0M256.5 496.8h0M239.2 495.5h0M224.6 498.3h0M229.9 497.7h0M220.1 499.5h0M266.7 495.6h0M275.1 497.6h0M208.8 499.2h0M193.9 500.9h0M201.3 497.9h0M250 497.3h0M184.3 502.2h0M268.3 491.8h0M231 500.4h0M190.6 500.8h0M180.7 500.3h0M192.9 501.2h0M234.3 499.8h0M238.3 500h0M233.5 497.1h0M249.1 502.2h0M232.5 497h0M217.2 499.9h0M198.4 500.6h0M225.6 497.9h0M231.5 497.7h0M267.8 499.8h0M263.2 493.4h0M226.6 497.8h0M277.4 495.8h0M221.4 502.5h0M254.3 497.4h0M245.8 497.7h0M237.8 498.7h0M199.6 498.1h0M215.6 498.5h0M262.4 501.4h0M181.7 499.9h0M227.4 498.5h0M252.8 495h0M192 496.7h0M217.7 499.1h0M186.1 500.4h0M230.6 498h0M269.1 499.9h0M249.2 496.6h0M221.2 497.6h0M219.4 497.2h0M212.5 499.1h0M253.4 497.2h0M240.4 495.9h0M253.7 500.2h0M226.8 497.7h0M182.3 501h0M261.9 495.9h0M219.4 501.8h0M256.8 497.5h0M193.4 500.1h0M223.9 498.9h0M220.5 499.1h0M187 502.3h0M180.7 500.7h0M241.2 497.6h0M180.7 500.9h0M200.2 500.1h0M193.4 499.9h0M251.4 494.5h0M188.9 501h0M190.3 499.7h0M220.4 500.4h0M262.9 496h0M245.5 494h0M212.6 498.4h0M271 495.2h0M217.6 496.9h0M251.9 494.8h0M191.8 501.4h0M232.2 498.7h0M210.2 499.2h0M191.3 502.3h0M197.8 499.6h0M262.7 496.8h0M240 499.3h0M231 497.4h0M228.1 499.5h0M243.3 495.7h0M276.3 495h0M250.1 497.6h0M205.3 497h0M270.4 489.9h0M192.6 502.7h0M213.7 501.3h0M206.5 498.5h0M237.9 497.8h0M200.9 500.5h0M263.2 491.6h0M275.3 495.9h0M221.4 500.6h0M185.4 500.4h0M266 496.2h0M194.7 500.4h0M251.5 498.7h0M230.4 497.5h0M236.9 500.6h0M268.5 498.4h0M204 501.1h0M195.3 502.3h0M201.8 499.1h0M260.7 497.3h0M205 500.6h0M274.7 498.7h0M207.1 498.1h0M269.1 495.4h0M272.2 495h0M219.8 499.1h0M273.7 495.7h0M203.8 501.1h0M180 500.7h0M218.7 495.2h0M249.7 498.6h0M186.9 498.6h0M252.3 501.3h0M223.9 498.5h0M192.5 503h0M219 496.6h0M264.4 497.1h0M253.8 493.5h0M255 494.9h0M209.3 502.4h0M252.3 500.2h0M199.5 498.8h0M210.5 499h0M190.6 500.5h0M185.3 500.3h0M217.9 497.4h0M198.8 502.5h0M182.4 501.8h0M206.3 499.3h0M262.7 494.3h0M228.5 498.7h0M241.1 503.4h0M224.7 498.7h0M239.7 499h0M180.1 500.5h0M248.4 495.8h0M258 499.2h0M187.6 501.2h0M279.5 496.7h0M236.9 494.7h0M274.5 494.5h0M279 496.2h0M279.9 502.6h0M222.3 501.7h0M198.8 500.2h0M183 499.6h0M187 500.7h0M233 499.6h0M273.5 493.6h0M271.5 497.5h0M252.4 498.1h0M195.1 498.7h0M186.9 500.8h0M215.7 503h0M228.6 494.1h0M186.3 501h0M246.9 498.1h0M253.7 494.4h0M280.1 497.1h0M206.5 497.8h0M201.8 499.6h0M197.4 500.5h0M273.9 493.3h0M212 497.6h0M258.7 499.5h0M239.2 501.2h0M225.7 498.3h0M213.4 501.3h0M248.6 496.5h0M178.2 500.8h0M267.4 495.7h0M203.8 498.1h0M257.3 494.8h0M249.4 495.8h0M199.9 500.1h0M238.3 500.9h0M261.8 496.7h0M200.1 499.6h0M276.7 494.6h0M247.7 499h0M181.8 500.9h0M248 500.6h0M273.8 492.9h0M194.7 497.4h0M238.7 502.2h0M276.4 494.8h0M249 498.2h0M254.6 497.7h0M279.5 492.1h0M273.8 495.3h0M227.4 496.9h0M186.3 500.2h0M214.1 500.1h0M261.3 498.8h0M214.3 500h0M212.2 498.5h0M268.6 493.3h0M256.7 497.5h0M274.1 491.1h0M238.9 498h0M242.5 499.3h0M243.4 500.1h0M237.3 505.3h0M179.1 501.1h0M206.5 501.9h0M240.1 492.7h0M179.7 500.7h0M180.3 501h0M216.2 502.3h0M220.2 501.8h0M261.8 491.4h0M267.7 493.8h0M218.4 498.5h0M187.6 500.6h0M226.5 498.7h0M219.8 501.3h0M216.4 499.4h0M239.2 501.3h0M216.1 496.6h0M236.7 504h0M205.9 498.8h0M206 501.7h0M231.5 502.6h0M201.6 501.9h0M207.3 497.3h0M237.4 495.2h0M274.4 499h0M271 496.1h0M199 500.5h0M234.1 498.3h0M267.5 493.4h0M215.2 497.3h0M263.1 496.3h0M236.9 496h0M276.3 496.3h0M223.9 502.7h0M279 496.5h0M253.1 495h0M190.2 501.8h0M193.8 500h0M229.7 499.7h0M250.7 495.2h0M264.6 495.1h0M214.1 501h0M228.6 501.8h0M186.3 500.7h0M260.9 495.9h0M221.7 496.1h0M244.5 495.9h0M275.9 494.9h0M256.3 498.2h0M275.6 494.9h0M235 497.3h0M201.2 497.2h0M202.5 500.8h0M277.8 494h0M195.7 499h0M220.6 501h0M271.5 493.9h0M257.4 498.6h0M206.2 499.1h0M191.4 501.7h0M218.3 501h0M197.8 499.9h0M217 500.4h0M235.1 500.6h0M277.9 495.2h0M257 494.3h0M193 499.9h0M233.7 498.2h0M217.1 499.2h0M184.4 500.1h0M191.6 500.6h0M271.7 494h0M242.3 498.3h0M188.6 499.6h0M193.2 501h0M191.1 501.8h0M242.9 501.2h0M266.9 493.8h0M224 497.3h0M211.4 498.4h0M275.5 495.8h0M225.7 499.2h0M271.1 500.7h0M197 502.2h0M233.2 495.3h0M212 501.8h0M233.4 498.5h0M270.1 493.5h0M248.8 493.5h0M249.4 499.5h0M279.8 494.9h0M238 497.9h0M256 501.3h0M203.6 499h0M256.4 497.1h0M253.5 496.5h0M191.6 499.8h0M234 496.7h0M271.6 496.6h0M243.4 494.7h0M198.5 501.2h0M256.5 499h0M244.3 499.7h0M217.6 504.1h0M242.8 496.3h0M198.6 500.4h0M215.6 502.3h0M217.1 497.5h0M190.2 500.5h0M210.6 498.4h0M182.1 501.5h0M259.5 497.8h0M253.4 496.3h0M250.2 497.7h0M216.8 495.9h0M212.9 500.6h0M224 496h0M224.5 497.9h0M191.6 500.2h0M238 495h0M185.7 500.1h0M258.4 498.6h0M179.8 501.3h0M195.9 499.2h0M268 493h0M267.3 497.6h0M232.7 497.4h0M196.3 499.8h0M271.9 494.5h0M260.1 497.8h0M206.7 496.2h0M271.2 492h0M250.3 495.2h0M235.2 502.4h0M243.2 498.9h0M198.9 498.9h0M274.8 495.9h0M209.9 504.8h0M266.2 497.7h0M195 500h0M265 495.5h0M220.1 499.3h0M263.9 499.7h0M242.3 500.4h0M215.8 500.5h0M269.8 499.9h0M241.3 495.6h0M260.9 494.8h0M277.6 498.3h0M191.2 500.8h0M183.5 500.1h0M258.5 496.6h0M279.6 494.2h0M250.6 497.7h0M193.9 499.1h0M206.5 500.6h0M210.2 496.3h0M262.8 498h0M257.8 498.3h0M250.2 500.1h0M246 502.6h0M260.8 501.1h0M239 497.5h0M210.2 497.1h0M279.1 498.3h0M276.8 494.4h0M228.3 497.3h0M251.4 498.9h0M183.1 501.8h0M210.8 495.8h0M264.3 495.8h0M232.6 498.9h0M205 501.4h0M279.5 497.9h0M206.1 499.8h0M234.1 496.3h0M179.2 500.9h0M276.8 494.9h0M224.3 500.6h0M206.5 499.6h0M272.8 497.2h0M254.5 493.2h0M182.7 501.9h0M247.5 498.2h0M249.1 492.7h0M191.1 500h0M220.2 497.2h0M254 495.8h0M197.5 499h0M269.8 494.2h0M222.6 498.6h0M246.2 497h0M252.1 499.6h0M244.7 494.4h0M212.3 499h0M277.3 499.8h0M248.2 497.1h0M184.3 500.6h0M273.3 497.5h0M243.3 496.1h0M280.4 493.2h0M231 498.9h0M205.2 503.9h0M244 492.5h0M256.5 495h0M279.5 496.3h0M192.1 499h0M194.6 499.7h0M196.5 501.1h0M244.1 499.8h0M255.9 495.2h0M216.2 497.3h0M193.7 501.5h0M251.5 496.5h0M273.5 494h0M260.9 496.1h0M236 495.8h0M242.5 500.8h0M204.6 499.7h0M264.8 494.3h0M240.5 496.5h0M227 496.7h0M265.6 498.3h0M269.4 499.5h0M179.2 501h0M265.2 501.3h0M219.1 499.5h0M226.2 496.2h0M262.6 499.4h0M272.4 493.6h0M216.5 505.1h0M234.2 497.1h0M233.3 497.6h0M208.3 499.7h0M239.4 498.4h0M184.9 500.7h0M252.2 494h0M211 501.4h0M247.3 493.5h0M203.9 501.1h0M208.2 498.4h0M210.1 498.4h0M264.7 498.6h0M201.1 499.3h0M193.5 500.4h0M224.6 497.5h0M263.8 497.7h0M179.7 501.4h0M179.4 501.3h0M212.5 499.3h0M212.8 502.1h0M189.5 498.2h0M231.3 498.3h0M194.7 500.5h0M204.6 499.2h0M254.4 496.5h0M219.9 496.9h0M185.7 500h0M193.9 500.4h0M252.4 497.2h0M210.4 500.7h0M234.9 494.7h0M220 498.6h0M221.7 498.7h0M270.6 496.3h0M208.7 499.8h0M264.2 492.5h0M250.4 498.5h0M248.4 496.1h0M194.7 503.2h0M221.2 498.9h0M238.2 498h0M243.3 500.7h0M184.4 502.4h0M181.1 501.7h0M223.1 498.5h0M208.3 498.4h0M257.5 495.9h0M233.7 498.8h0M208.9 499.3h0M197.6 502.8h0M259.8 496.1h0M243.2 503h0M195.7 501h0M200.5 499.4h0M265.7 497.1h0M272.2 495.8h0M226.8 498.3h0M270.7 496.1h0M188.9 501h0M202.8 498.5h0M273.7 498.1h0M192.2 498.9h0M234.5 499.8h0M271.5 498.4h0M237.5 499.1h0M231.4 496.9h0M217.8 497.3h0M209.4 497.8h0M227.5 498.6h0M208 498.4h0M250.2 498.5h0M247.1 496.6h0M199.6 500.6h0M194.1 500.4h0M280 496.8h0M223.2 498.5h0M259.9 498.1h0M190.6 498.4h0M216.5 497.8h0M205.3 498.8h0M217 496.8h0M251.1 501.2h0M214.6 497.7h0M242.8 497.1h0M261.7 495.2h0M246.2 498.8h0M181.6 500.9h0M228.7 499.7h0M219.8 499.2h0M245.5 499h0M235.6 502.2h0M183.5 501.6h0M209.8 500.3h0M191.3 501.9h0M186.8 501.8h0M184.4 501.2h0M238 495.6h0M234.8 496.1h0M193.7 501.8h0M180.7 501h0M248.8 499.2h0M224.7 499.3h0M261.5 493.4h0M207.7 497.9h0M266.6 493.2h0M204.3 501.7h0M210.3 502h0M248.1 499.7h0M245.1 495.9h0M256.3 498.9h0M243.8 499.4h0M266.7 497h0M249.6 499.5h0M189.1 500.5h0M230.7 496.1h0M273.2 497.1h0M256.1 495.2h0M247.3 500h0M210.9 496.7h0M194.8 500.1h0M212.4 497.8h0M223.9 500.7h0M178.6 501.2h0M238.3 503.7h0M213 499.7h0M180.2 501.3h0M239.1 495.1h0M211.5 499.8h0M270.7 495.7h0M198.2 499.5h0M219.5 499.5h0M188.5 500.2h0M200.5 497.8h0M202.4 501.2h0M244.4 494.9h0M226.8 499.9h0M199.9 499.2h0M223.4 499.6h0M187.2 499.7h0M279.5 494h0M185.4 499.8h0M250.6 497.1h0M178.6 501.8h0M235.4 498.5h0M231.8 497.9h0M199.4 499.7h0M215.4 497.3h0M265 502.5h0M256.4 494.1h0M259.5 493.5h0M207.4 497.8h0M280.1 498.2h0M249.6 500.8h0M246.2 496.6h0M186.1 501.9h0M220.3 498.4h0M202.6 499.5h0M249.6 497.8h0M248.6 500.4h0M264.2 496.4h0M263.4 496.1h0M248.1 496.5h0M202.2 499.5h0M235.6 499.9h0M257.6 498.8h0M271.9 499.1h0M212.4 500.3h0M195 501.9h0M194.9 501.5h0M262.1 496.6h0M232 500.8h0M209.7 499.5h0M193.7 501.5h0M204.9 501.3h0M197.1 500.2h0M199.5 498.9h0M185.7 500.6h0M213.4 501.2h0M256.1 496.8h0M178.2 501.3h0M210.1 500.6h0M212.2 496.6h0M276.7 492.7h0M250.2 496.7h0M266.9 496.1h0M194.2 499.7h0M214 495.9h0M221 503.1h0M203.5 500.1h0M239.2 499.4h0M180.2 501.1h0M187.9 502.5h0M267.1 493.3h0M234 500.4h0M180.1 501.5h0M189.5 500.4h0M217.4 500.7h0M258.7 495.5h0M211.1 499.2h0M200.6 500.5h0M275.8 491.9h0M185.6 501.6h0M245.8 496.1h0M259.9 496.1h0M237.8 496.4h0M206.1 500.8h0M227.8 500.4h0M233.2 496h0M189.4 501.3h0M235.5 498.6h0M218.1 499.5h0M276.4 494.4h0M184 500.6h0M265.4 494h0M186.2 501.2h0M233 495h0M255.5 495.4h0M211 497.6h0M264.5 496.4h0M178.2 501.8h0M196.9 500.9h0M192.8 502.9h0M259.2 497.9h0M238.8 500.5h0M254.8 497.6h0M210.4 499.1h0M238.8 499.5h0M275.8 492.9h0M225.2 499.2h0M279.4 493.7h0M191.8 501.1h0M236.5 497.2h0M270.2 496.1h0M259.5 491.4h0M252.8 500.7h0M259.3 496.1h0M180.7 502.3h0M220.1 497.3h0M186.7 500h0M199.1 500.4h0M249.9 495h0M277.3 493.8h0M198.9 501.6h0M204.7 498.5h0M278.6 495.4h0M184 500.9h0M237.6 498.6h0M183.7 501h0M251.6 494.2h0M183.3 500.1h0M233 497h0M271.9 496.9h0M269.2 493.6h0M260.2 493.1h0M234.6 498.8h0M269.2 496h0M220.5 498.4h0M269.8 499h0M244.2 497.3h0M213.2 496.8h0M258.9 495.7h0M195.5 500h0M189 500.2h0M236.5 498.5h0M189.5 500.8h0M260.9 492h0M206.4 499.2h0M217.3 497.6h0M192.8 500.8h0M198.3 498.8h0M206.7 500.1h0M265.2 499.2h0M280.3 494.4h0M260.6 496.5h0M260.7 499.6h0M240 499.7h0M236 501.6h0M231.6 501h0M230.6 498.7h0M238.7 499.6h0M203.3 498.7h0M277.9 492.6h0M252.4 493.3h0M215.7 499.3h0M275.6 494.5h0M271.3 497.4h0M245.3 498.6h0M208.5 500.7h0M180.5 502.4h0M239.6 498.9h0M191.8 498.5h0M195.3 500.5h0M205.5 498.2h0M279.8 495.7h0M216.1 498.5h0M200.9 499.6h0M268.5 496.3h0M255.2 497.2h0M276.7 495h0M229.3 499.9h0M229.7 496.2h0M262.2 499h0M178.5 500.9h0M262.6 498.1h0M185 501.6h0M187.4 500.6h0M217.1 500.6h0M180.9 501.3h0M211.3 497.5h0M270.2 498.2h0M235.6 498.7h0M195.4 499.6h0M262.6 497.3h0M257.1 494.5h0M183.6 501.3h0M223.8 497.5h0M187 501.9h0M185.2 499.7h0M240.4 498.2h0M234.9 500.4h0M276.1 494.8h0M222.9 499h0M235.7 502.8h0M257.2 497.1h0M238.1 497.5h0M216.2 500.9h0M273.7 496.9h0M265.8 500.6h0M202.8 502.6h0M245 496.3h0M270.2 494.9h0M216.3 499.3h0M214.1 501.3h0M245.5 496.6h0M190 499.2h0M186 502h0M185.2 500.5h0M231.9 499.6h0M274.7 496.4h0M227.3 495.6h0M226.5 494.9h0M259.7 496h0M212.5 500.7h0M223.7 499.6h0M279.5 495.9h0M235.5 498.7h0M186.5 500.2h0M252.5 496.2h0M220.1 498.7h0M211.6 501.9h0M216.8 499.4h0M261.2 495.6h0M223.6 499.7h0M198.6 499.6h0M196.5 500.4h0M234.2 499.5h0M260.4 498.3h0M272.1 498.2h0M233.6 501.1h0M178.6 500.9h0M209.8 500.6h0M264 494.7h0M235.4 499.5h0M191 500.8h0M224.3 499.6h0M179 500.7h0M262.2 501.6h0M244.6 497.8h0M219 498.2h0M218.1 500.2h0M230.6 499.8h0M262.7 496.4h0M268.7 492.8h0M242.1 494.2h0M267.3 498.2h0M253.8 498.6h0M272.8 496.9h0M227.1 501.1h0M205.3 498h0M187.2 500.8h0M250 494.3h0M202.1 499h0M180.6 499.5h0M237.9 496.3h0M201.5 499.8h0M190 500.4h0M188.3 501.6h0M237.9 502.4h0M247.3 496.7h0M243.6 498.2h0M210.8 499.6h0M270.1 497h0M253.9 496h0M278.4 496.8h0M276.7 493.6h0M262.4 495.9h0M236.4 494.9h0M272.5 501.2h0M204.9 502.6h0M279.3 495.1h0M276 494.4h0M197.2 502.3h0M196.4 500.2h0M211.6 500.8h0M264.5 496.2h0M262.3 496.3h0M194.8 500.5h0M276.1 494.2h0M243.6 496.3h0M265.2 495.1h0M185.9 501.3h0M219.9 496.9h0M219.3 501h0M226.8 498.9h0M216.1 499.9h0M224.3 501.1h0M200.1 500.2h0M180.4 501.5h0M251.4 498.6h0M216.6 501.5h0M188.6 501h0M211.3 502h0M235.6 502.5h0M224.8 501h0M260.3 497.7h0M201.8 503.2h0M248.2 499.9h0M189.2 499.8h0M267.1 497.1h0M241.6 494.5h0M183.6 500.8h0M201.9 501.1h0M260.3 498h0M195.9 501h0M195.7 500.5h0M182.7 500.9h0M256.9 496.3h0M194.8 501.3h0M240.1 499.6h0M243.3 499.1h0M178.1 501.1h0M181.9 501.2h0M259.3 498.2h0M276 496h0M182.8 500.1h0M236.2 499.3h0M277.4 491.7h0M204.7 501.1h0M217.7 500.9h0M239.7 497.8h0M264.9 500.3h0M180.4 500.3h0M215.3 500.7h0M201.5 499.5h0M203.3 500.9h0M217.3 497.2h0M197.4 500.1h0M228.4 499.9h0M183.7 500.1h0M254.8 496.3h0M234 498.3h0M263.2 495.1h0M199.8 499.1h0M188.8 501.8h0M261.7 498h0M211.8 497h0M196.8 500.6h0M242.6 499.1h0M202.3 497.8h0M268.6 494.6h0M254.6 495.3h0M275.4 499h0M244.9 499.9h0M226.5 499.8h0M179.6 501h0M226.4 502.2h0M272.5 497.6h0M232.9 496.4h0M196.7 499.9h0M233 497.3h0M227.2 497.6h0M272.6 492.6h0M269.5 496.9h0M223.5 497.9h0M250.1 497.2h0M238.3 498h0M189.1 501.3h0M201.5 500.1h0M200.7 498.2h0M240.1 499.8h0M219 497.6h0M213.4 500.6h0M268.9 493h0M234.8 500.2h0M223 496.1h0M226.6 496.8h0M245.9 496.8h0M201.6 502h0M207.1 501.8h0M243.6 496.3h0M208.7 498.4h0M200.4 499.5h0M243.9 498h0M245.9 497.9h0M214.6 498h0M268 499.1h0M245.1 500.2h0M233.9 500.6h0M273.3 497.7h0M186.4 501.3h0M208.9 497.9h0M213.6 499.8h0M253.8 499.8h0M225.1 497.6h0M260.1 494.3h0M203.9 498.5h0M235.2 497.7h0M238.3 496.9h0M239.8 494.8h0M273.1 494.4h0M275.1 499.8h0M194.4 499.5h0M251.7 496.6h0M224.2 496.5h0M216.8 497.9h0M198.7 501.1h0M261 491.3h0M230.6 495.7h0M276.7 496.7h0M232.3 498h0M242.5 499.6h0M256.1 495.7h0M203.8 499h0M239.2 499.6h0M205.1 500h0M195.2 500.6h0M267.1 497.6h0M224.5 497.4h0M219.3 497.8h0M182.2 500.9h0M235.1 501.9h0M241 496.8h0M190.2 499.6h0M279.2 496.9h0M241.6 497.2h0M254.3 494.5h0M196.3 503.2h0M247 496.8h0M219.9 499.1h0M202.9 499.8h0M241 498.6h0M249.3 495.7h0M271.1 496.9h0M259.9 494h0M267.7 494.6h0M212.9 499.7h0M215.8 499.4h0M241.9 497.7h0M196.5 500.8h0M221.8 500.4h0M256.1 496.7h0M183 502h0M213.6 498.9h0M231.9 499.3h0M213.7 499h0M257.5 498.7h0M216.9 498h0M261.7 493.3h0M262.8 495.4h0M212.5 497.5h0M275.4 496.8h0M188.6 500.9h0M218.8 502.2h0M248.1 494h0M273.7 496.2h0M212.5 501.5h0M234.5 499.1h0M230.7 497.6h0M186.1 501.4h0M229.6 499.7h0M181.1 501.2h0M257 496.6h0M208.3 497.8h0M181.2 501.9h0M225.5 500.4h0M253.1 500.2h0M199.4 500.3h0M193.7 499.8h0M195.3 498h0M206.7 501.5h0M223 495.3h0M199.1 499.6h0M212.3 501.8h0M254.4 501.3h0M229.4 496.8h0M214.9 501h0M214.6 499h0M188.4 500.4h0M196.3 501h0M221.5 498.9h0M220.2 496.2h0M252.8 497.8h0M264.5 498.1h0M244.3 503.3h0M249.7 495.9h0M179.8 501.8h0M266.1 493.9h0M235.3 500.2h0M237.8 497.6h0M199.2 502.2h0M269.3 490.9h0M181.4 501.3h0M182.2 501.7h0M187.2 501.2h0M233.4 498.8h0M242.2 498.5h0M271.4 495.8h0M233.1 497.5h0M274 497.4h0M264.2 501.7h0M257.7 495.1h0M189.7 500.1h0M192.6 502.6h0M253.6 499h0M220.4 500.4h0M248.2 495.3h0M183.1 501.5h0M215.6 498.7h0M217.3 496.6h0M205.4 500.2h0M238.1 496.4h0M261.3 496.9h0M191 499.8h0M257.1 496h0M204.8 498.9h0M239.8 496h0M233.9 495h0M260.5 497.9h0M181.9 501.7h0M256 498.1h0M253.6 496.5h0M232 496.5h0M235.7 500.6h0M180.8 501.6h0M231.3 496.1h0M264.8 497.4h0M251.1 495.1h0M247.5 495.9h0M244.6 497.5h0M194.9 501.6h0M274 493.2h0M268.6 497.4h0M222.1 498.3h0M226.4 498.9h0M215.5 496.7h0M233.3 497.2h0M205.2 501.5h0M199 498.6h0M267 495.4h0M237.2 498.4h0M234.2 495.7h0M210.3 498h0M270.8 496.6h0M254.9 497.3h0M191.4 500h0M213.5 498.8h0M213.4 498.4h0M243.4 497.5h0M241.9 497.4h0M225.6 504.5h0M181.4 501.7h0M236.5 497.5h0M256.9 498.6h0M272.1 492.8h0M273.6 498.9h0M211 499.2h0M213.1 497.8h0M242.8 494.9h0M185.1 500.8h0M255.2 499.3h0M238.9 496.7h0M247.3 492.2h0M255.6 496.2h0M267.2 500.1h0M248.6 496.1h0M217.6 503h0M237.7 496.4h0M264 498.5h0M239.2 501.2h0M185.6 499.9h0M270.6 497.7h0M260 496.1h0M247.4 496.6h0M268.8 495.1h0M215.8 498.8h0M197.7 500.3h0M275.2 494.4h0M198.5 503.1h0M252.3 494h0M178.7 501.5h0M240.3 496h0M244.1 497.8h0M193.8 500.3h0M244.5 498.5h0M189.6 502.9h0M200.7 497.8h0M271.3 499.7h0M255.5 497.2h0M259.7 495.6h0M262 495.6h0M256.6 495.6h0M210.2 500.8h0M251.3 500.6h0M228.6 500.3h0M223.2 497.1h0M214.6 499.9h0M226.6 499.8h0M234.3 499.2h0M224.3 500.8h0M225.2 499.2h0M211.6 501.1h0M268.5 497.2h0M200 500.9h0M222.8 499.2h0M237.3 494.6h0M246.1 498.9h0M268.4 501.2h0M200.3 499.8h0M197.2 499.7h0M265.2 490.8h0M256.2 497h0M238.7 500.4h0M247.3 494.8h0M198.8 499h0M226.4 497.7h0M196.7 500.4h0M244.3 495.3h0M273.8 496.6h0M268.6 493.1h0M259.2 495.7h0M278.2 493.8h0M187.1 500.2h0M255.2 498.8h0M197.8 500.5h0M266.4 494.2h0M179.1 500.8h0M202.4 500.6h0M217.1 498.7h0M206.7 500.2h0M255.1 497.9h0M225.7 497.9h0M224.4 502h0M244.4 497.8h0M209.7 499.7h0M182.4 501.5h0M189.9 499.8h0M256.8 496.6h0M241.4 501.6h0M261.2 499.7h0M199 501.6h0M274.6 496h0M204.2 499.6h0M271.9 493.8h0M242.2 496.7h0M187.2 499.8h0M280.5 495.4h0M178.4 501h0M218.6 497.7h0M232.1 498.4h0M245.5 496.1h0M237.1 500.1h0M238.1 499.3h0M228.8 499h0M209.2 501.1h0M252.4 497.5h0M203.7 500.5h0M239.1 498.8h0M213.9 499.5h0M205 501h0M238.1 495.2h0M224 499.3h0M276 497.8h0M267.4 492.3h0M234.8 496.9h0M252.4 501.6h0M273.6 496.7h0M250.6 498.7h0M192.9 499.1h0M203.7 498.3h0M220.1 500.4h0M178.5 500.9h0M214.7 497.8h0M240.1 495.2h0M249.3 495.2h0M277 496.9h0M183.1 499.7h0M252.6 496.7h0M193.8 502.7h0M215.8 498.7h0M248.3 497.3h0M271.4 497h0M200.3 500.8h0M203.3 499.6h0M241.7 497.6h0M259.1 495.9h0M203.6 501.9h0M248.7 496.7h0M189.1 501.1h0M205.2 498.8h0M181 499.7h0M259.9 499.1h0M226.4 501.8h0M204 501.2h0M221.2 496.1h0M216.4 498.6h0M274.9 493.8h0M275.1 492.4h0M190.7 499.5h0M222.2 497.4h0M211.1 500.4h0M262.8 496.9h0M178.4 501.5h0M244.1 502.4h0M240.2 498.9h0M201.3 497.8h0M192 501.9h0M232.9 495.7h0M264.9 496.9h0M204 499h0M228.4 498.1h0M185.9 501.6h0M253.5 499h0M234.6 501h0M263.3 497.1h0M264.4 500.3h0M180.3 501.4h0M251.4 496.4h0M212.9 499.5h0M204 499.8h0M221.6 497.1h0M223.3 498.8h0M207.9 499.6h0M254.5 495.7h0M188.6 500.8h0M249 496.8h0M214.5 499.2h0M279.6 490.9h0M278 496.8h0M181.2 501.4h0M182.6 502.4h0M194.1 499h0M216.4 501.2h0M190.9 499.5h0M227.9 497.4h0M184.2 500.8h0M192.8 499.3h0M260 493.6h0M186 501.3h0M207.8 497.8h0M265.6 495.1h0M212.2 497.4h0M181.2 500.6h0M206 499.6h0M263 496.1h0M233.5 496.7h0M263.7 498.3h0M206.7 497.7h0M212 500.3h0M227.3 501.3h0M272.5 493.2h0M230.4 497.3h0M267.6 497.1h0M180.7 501h0M251.6 494.2h0M178.6 501.7h0M204.8 500.9h0M202.6 500.9h0M196.4 499.6h0M197.5 500.2h0M249.8 499.3h0M183.9 500.2h0M244.8 495.5h0M237.4 500.5h0M209.7 499.8h0M231.1 497.4h0M238 495.8h0M233.9 501.2h0M243.3 496.7h0M235.9 498.7h0M242.2 498.3h0M211.6 498.9h0M203.8 500.9h0M220.2 500.1h0M215.3 500.2h0M190 503.2h0M239.4 494.9h0M277.7 494.6h0M207.8 497.2h0M263.6 497h0M198 499.2h0M222.8 496.5h0M224.2 498.6h0M199.7 497.6h0M271.4 492.8h0M235.8 499.2h0M180.6 500h0M238.6 497.7h0M180 501.1h0M272.1 497.7h0M280.1 494.8h0M217.7 498.6h0M191.2 499.4h0M273.6 493.5h0M181.4 500.9h0M203.4 499.3h0M247 492.3h0M266.4 497.9h0M215.3 497.1h0M225.4 500h0M210.9 502.1h0M263.4 496.7h0M192.8 500.9h0M240.1 493.3h0M213.7 495.9h0M266 497h0M249.1 497.7h0M224.8 499h0M226.7 501h0M249 495.5h0M236.5 499h0M233.3 497.2h0M255 498.9h0M218.9 498.2h0M204.3 499.9h0M251 499.4h0M212.7 498.1h0M240 499.8h0M182.3 499.2h0M184.4 500.8h0M233.1 498.4h0M216 500.1h0M231.1 498.5h0M270.1 496.1h0M240.8 499.9h0M268.1 493.2h0M213.6 497.5h0M203.1 501.2h0M191.6 499.3h0M252.3 500.5h0M248.4 499.5h0M267.6 494.8h0M273.5 497h0M180.4 500.7h0M189 500.7h0M199.2 500.7h0M273.8 495.9h0M212.2 499h0M180.7 500.6h0M241.6 498.3h0M193.3 500.7h0M270.7 495h0M214.3 501.3h0M214.3 499.5h0M259 497h0M205.4 500.3h0M265.1 496.1h0M263.3 498.1h0M184.2 500.2h0M254.9 497.6h0M257.1 495.3h0M181.1 501.1h0M190.3 500.6h0M225.3 501.6h0M253.3 494.4h0M183.1 501.4h0M244.3 497h0M230.8 497.1h0M256.1 498.8h0M200.2 502.6h0M207.7 497.8h0M231.8 499.9h0M183.7 500.3h0M238.3 500h0M193.8 502.1h0M233.6 497.4h0M277 498.8h0M253.9 495.4h0M244.8 499.7h0M203.5 498.2h0M192.6 500.5h0M249.6 498.7h0M272.3 499.1h0M237.8 500h0M220 497.4h0M227.1 499.9h0M232.1 495h0M238.1 497.6h0M233 499.4h0M191.9 500.4h0M239.8 498.7h0M197.8 500.4h0M214.5 499.5h0M272.4 493.4h0M223.7 499.4h0M199.3 501.4h0M218.2 496.9h0M236.8 499.8h0M191.5 499.3h0M178.9 501.6h0M275 496.4h0M236.4 499.2h0M240.9 500.3h0M257.3 496.8h0M206.4 497.4h0M202.2 500.7h0M211.2 500.5h0M220.7 500.1h0M260.7 499.8h0M233.8 496.9h0M259.4 497.4h0M194.1 500.6h0M260 498.7h0M232.6 498.5h0M267.5 497.2h0M276.1 499.1h0M232.1 496.2h0M263.2 496.7h0M239.5 498.6h0M232.8 498.5h0M205 498.1h0M266.4 495.5h0M198.3 499.2h0M236.3 496.6h0M229.3 499.6h0M264.4 495.2h0M261.3 496.1h0M217.3 499.9h0M209.5 500h0M178.7 501.6h0M184.7 500.4h0M253.9 497.2h0M210.2 499h0M242.1 495.2h0M249.5 497.3h0M185.7 502.8h0M215.5 500.4h0M228.5 497.5h0M265.8 496.6h0M203.8 500.4h0M222.6 496.5h0M206.8 500.8h0M278.8 493.7h0M255.8 495.4h0M264.4 500.3h0M258.5 495.1h0M203.8 501h0M251.1 499.9h0M200.3 501.6h0M182 500.7h0M238.9 497.3h0M269.5 499.9h0M228.7 497h0M268.4 495.5h0M201.7 501.7h0M269.1 493.1h0M187.4 499.3h0M224.1 503.2h0M258.6 498.9h0M195.5 501.6h0M248.1 498.7h0M187.3 501.5h0M215.5 501.8h0M213.3 499.9h0M226.1 500.3h0M199.6 499.6h0M249.8 494.8h0M239.2 498.2h0M267 495.6h0M260.2 495.1h0M187.6 501h0M264.5 500h0M226 497.3h0M188.1 502.3h0M182.9 500.8h0M191.6 501.3h0M216.6 498.2h0M188 501.5h0M275 496.7h0M253.3 495.2h0M264.9 497.7h0M198.9 498.8h0M238 500.9h0M250.7 497h0M222.7 500.9h0M222.8 498.7h0M190.5 502.5h0M233.9 497.6h0M243 498.6h0M270.5 494.4h0M211.4 498.1h0M204.6 501.1h0M243.6 501h0M201.2 498.9h0M178.9 500.8h0M255.4 496.6h0M204.7 499.3h0M271.1 493.6h0M232.6 500.3h0M233.9 502.1h0M222.9 499.1h0M245.4 495.8h0M214.6 498.4h0M178.2 501.2h0M227.4 499.2h0M213.9 499.3h0M242.9 500.6h0M178.1 501.8h0M201.5 500.2h0M239.5 497.4h0M277.7 495.5h0M192.5 499.8h0M254.5 495h0M246.9 496.6h0M192.4 499.3h0M190.7 500.1h0M228.8 497.3h0M230.3 499.2h0M274.7 494.7h0M245.5 500.7h0M183.8 500.9h0M273.6 497.9h0M219.7 500.8h0M201.8 501.6h0M279.5 494.6h0M248 499.4h0M250.2 499.3h0M226.4 500.9h0M198.5 502.4h0M265.5 494.8h0M196.8 501.3h0M212.8 499.3h0M217.8 502.8h0M182.9 501.8h0M236.5 496.2h0M228.2 499.2h0M198.9 500.2h0M261.3 495.9h0M194.2 499h0M277.3 495.8h0M218.5 502.1h0M178.7 500.7h0M238.1 498.6h0M222.1 502.8h0M271.6 497.3h0M268.2 497.1h0M225.2 495.7h0M204.8 499.3h0M262.1 497.1h0M206.6 499.6h0M246.5 500.1h0M249.4 500.2h0M236.2 496.2h0M269.6 492.4h0M228.5 494.4h0M186.4 499h0M251.4 497.4h0M227.4 497.8h0M276.6 495.5h0M202.6 499h0M179.4 501.4h0M181.8 500.5h0M179.1 501.2h0M191.3 500.6h0M249.4 496.6h0M217.8 496.5h0M208.7 498.9h0M252.5 497.5h0M233 500.6h0M217.2 496.1h0M229.3 480.7h0M244.2 465.5h0M247.5 479.1h0M246.9 488.5h0M235.3 510.3h0M199.6 522.2h0M202.9 526.3h0M216.7 532.1h0M213.9 511.9h0M222.2 515.2h0M235.9 508.2h0M210.1 530.8h0M230.4 521h0M238.1 516h0M239.2 510.3h0M227.7 507.8h0" stroke="#0a0a0a" stroke-width="2.3" stroke-linecap="round" fill="none"/>
<path d="M224.3 503h0M186.9 504.7h0M193 502.9h0M198.6 504.9h0M196.6 502.8h0M190.7 504.5h0M218.5 504.8h0M222.3 504h0M188.2 504.1h0M221.4 504h0M192 504.8h0M201.2 503.6h0M190.3 504.4h0M200.2 506.7h0M220 504.3h0M219.1 507h0M213.4 502.8h0M187.4 506.5h0M202 503.1h0M208 504.1h0M198.8 507.4h0M192.8 502.8h0M218.4 505.1h0M210.8 504.6h0M206.9 505.6h0M206.6 503.6h0M186.2 503.9h0M215.1 503.1h0M194.5 504.4h0M191.7 504.5h0M208.7 504.3h0M206.5 503.4h0M205 504.5h0M197.6 503h0M220.8 502.7h0M217.2 505.3h0M223.1 503.8h0M197.6 503.7h0M210 503.2h0M211.1 505.6h0M201.8 509.5h0M204.6 511.5h0M212.2 518.1h0M212.8 524.7h0M218.3 532.9h0M225.5 533.7h0M227.7 523.4h0M229.8 520.6h0M209.5 546.9h0M220.5 551h0M194.7 506.2h0M197.4 507.8h0" stroke="#2f3d92" stroke-width="2.3" stroke-linecap="round" fill="none"/>
<path d="M266 491.5h0M244.1 492.3h0M267.9 489.4h0M268 487.5h0M277.6 487.6h0M258.3 492.4h0M268.6 489.9h0M232.2 491.4h0M263.3 485.5h0M274.2 488.4h0M273.6 491.3h0M240.1 489.7h0M275.8 491.5h0M274.3 487.9h0M258.4 490h0M277.1 490.5h0M264 491.8h0M245.6 493.4h0M264.6 492h0M242.4 493.3h0M278.5 488.6h0M279.2 486.9h0M262.5 488h0M272.1 489.2h0M260.5 492.6h0M268.1 491.2h0M255.1 487.3h0M278.6 491.9h0M262.9 492.6h0M249 492.4h0M278.1 491.6h0M279.2 491.6h0M263.1 490.9h0M272.5 490.3h0M272.5 487h0M249.9 487.3h0M247.8 491.9h0M261.8 491.4h0M279.8 491.9h0M253.3 488.1h0M227.2 492.8h0M273.2 483.7h0M272.4 488.2h0M247.7 488.5h0M259.2 491.5h0M266.6 491.5h0M265.3 487.8h0M278.3 490.7h0M250.8 487h0M275.3 491.6h0M272.2 483.4h0M250.5 491.5h0M272.7 483.9h0M262 492.1h0M265.7 490.1h0M258 491.6h0M247.7 489.6h0M244.9 493.2h0M251.2 492.6h0M254.6 492.5h0M268.7 489h0M258.9 491.2h0M240.6 489.9h0M258.1 488.5h0M253.8 492.2h0M277.8 490.3h0M262.5 487.2h0M266.5 491.8h0M277.3 491.9h0M245.5 490.4h0M267.2 491.1h0M253.5 489.7h0M264 488.4h0M272.6 490.2h0M267.6 486.4h0M270.5 488.9h0M258.9 489.6h0M277.9 488.3h0M246.8 490.6h0M273.9 488.1h0M264.3 490.5h0M274.5 491.7h0M276.4 488h0M272 490.6h0M270.5 487.9h0M277.6 489.3h0M277.4 491.7h0M279.1 491.4h0M272.1 488.6h0M278.6 490.6h0M258.8 492.2h0M241.1 493.5h0M252.5 491.5h0M271.9 487.5h0M245.8 491.9h0M231.3 491.1h0M258.7 492.5h0M277.2 489.5h0M271.5 489.1h0M251.4 485.9h0M272.9 483.6h0M270 486.3h0M267.1 490.6h0M238.7 492h0M277.6 487.9h0M242.8 493.5h0M274.2 490.1h0M275.9 491.8h0M234.8 494.3h0M265.5 490.1h0M279.7 487.8h0M272.3 486.4h0M250.6 491h0M241.4 487.9h0M258.5 491.9h0M267.3 489.7h0M259.6 491.5h0M264.8 491.6h0M267.4 491.4h0M265.2 490.7h0M262.1 491.3h0M267.4 488.3h0M263.5 488.8h0M258.6 490.8h0M250.9 489.9h0M269 491h0M253.3 493h0M238.8 493h0M248.5 492.5h0M267 492h0M272.3 488.6h0M232 494.9h0M253.8 491.5h0M243.6 491.5h0M230.5 492.2h0M242.7 492.4h0M263.7 492.3h0M264.1 492.3h0M270.7 488.6h0M230 494.5h0M242.5 491h0M262.3 491.1h0M255.2 492.9h0M266.9 490.7h0M243.8 491.1h0M269.5 483.9h0M275.8 489.4h0M247.8 492.6h0M273.9 491.1h0M256.9 492.8h0M258.4 491.9h0M268.4 489.2h0M274.5 491.6h0M279.3 490.1h0M235.8 493.8h0M252.9 492.5h0M256.8 489.1h0M271.9 487.6h0M270 490.1h0M260.5 492.1h0M262.4 491.6h0M262.5 487.3h0M268.4 490.5h0M238.7 490.2h0M277.6 492h0M256.5 490.7h0M274.8 490.4h0M275.8 491.6h0M264.4 487.7h0M271.8 490.1h0M225.5 454h0M242.5 445.3h0M246.3 450.7h0M245.2 463.4h0M249.1 465.5h0M252.9 459.3h0M255.2 457.3h0M239.8 473.7h0M243.1 472.5h0M263.4 473.7h0M260.7 479.5h0M266.1 480.7h0M268.9 481.9h0M274.4 479.1h0M277.1 484h0M257.9 485.2h0M271.6 486h0" stroke="#d7262c" stroke-width="2.3" stroke-linecap="round" fill="none"/>
<text x="260.8" y="458" font-size="8.7" text-anchor="start" fill="#d7262c" font-style="italic">CXCL10</text>
<line x1="277.7" y1="462.3" x2="275.3" y2="470.2" stroke="#d7262c" stroke-width="0.75" />
<path d="M274.4 473.4 L273.9 469.3 L277.1 470.2 Z" fill="#d7262c"/>
<path d="M326.5 501.3h0M329.1 500.1h0M396.6 498.8h0M368.6 501h0M377.5 499h0M321.8 499.6h0M370.5 496.6h0M348.6 498.6h0M324.6 499.9h0M325 498.2h0M399.2 498.2h0M336 499.4h0M398.5 498.7h0M394.5 496.1h0M388.8 497.7h0M341.2 499.9h0M339.2 500.9h0M320.9 497.7h0M362.1 502h0M345.6 499.7h0M336.4 498.6h0M372.7 499.9h0M319.7 500.4h0M391.1 498.5h0M344.9 497.7h0M319.8 500h0M346.7 499.6h0M324.9 502h0M378.2 497.3h0M361.2 499.7h0M346.6 497.1h0M378.6 498.9h0M355.6 498.9h0M371.9 498.3h0M370.3 498h0M376.1 496.6h0M379.7 499h0M359.5 499.2h0M325.6 501.8h0M348.5 499.9h0M337.9 498.5h0M361.5 492.4h0M388.2 500.6h0M375.5 497.2h0M342.5 497.9h0M371.3 498.2h0M386.9 498.7h0M338.5 502.6h0M330.4 499.7h0M366.1 499.8h0M396.8 496.4h0M359.9 497.4h0M325.4 500.3h0M360.1 501.7h0M361.3 497.7h0M361.8 501.6h0M361 496.3h0M333.8 503.1h0M370.2 500.3h0M359 495.8h0M331.7 498.5h0M359.1 499.4h0M370.1 493.7h0M384.6 495.1h0M374.7 495.7h0M399 495.4h0M357.8 502.7h0M366.9 499.2h0M353.1 496.7h0M350.2 498.2h0M328.5 502.2h0M365.4 499.4h0M366.3 500.2h0M358.6 500.1h0M379.5 498.9h0M371.1 497.7h0M366.4 496.8h0M344.4 498.1h0M330.4 500.8h0M395.8 498.4h0M334.4 501.1h0M395 500.2h0M339.4 498.7h0M360.1 495.5h0M373.9 495.6h0M351.4 497.5h0M384.2 496.7h0M392.9 496.4h0M356.8 498.5h0M385 499.6h0M373.7 497h0M329.6 501.8h0M322.9 498.3h0M350.1 497.7h0M387.4 497.9h0M322.1 501.2h0M341.5 498h0M320.2 498.9h0M339.3 501h0M354.8 505.4h0M385.7 496.2h0M381.1 498.5h0M398.7 496.6h0M392 497.5h0M318.5 500.1h0M386.6 497.9h0M326.1 500.6h0M368.1 498.5h0M379.9 497.6h0M335 501.2h0M368.4 497.2h0M393 496.3h0M322.7 499.9h0M369.7 500.4h0M370.9 497.6h0M340 499.3h0M382.3 495.6h0M334 499.1h0M365 498.9h0M320.2 500.5h0M382.5 498.7h0M346.4 499h0M332.7 500.2h0M395.1 498h0M378.3 501.2h0M341.7 498.3h0M397.7 496.1h0M327.8 499.5h0M376.3 500.5h0M335 497.1h0M332.7 500.9h0M319.9 500.9h0M356 501.7h0M397.2 498.4h0M325 500.6h0M336.4 500.4h0M360.6 502.1h0M392.5 497.5h0M375.4 501.4h0M366.5 499h0M332.3 498.8h0M328.3 504.1h0M330.7 500.7h0M357.8 497.6h0M390.7 496.9h0M337.9 502.3h0M366.5 496.2h0M368.4 501.9h0M321.7 500.9h0M318.8 501.2h0M318.3 500.2h0M338.4 498.6h0M346.3 500.4h0M355.6 497.6h0M319 500.8h0M365 496.7h0M378.1 496.8h0M400.2 496h0M371.3 497.8h0M387.5 498.7h0M322.4 499.5h0M352.2 500.2h0M328.8 500.7h0M328.5 498.6h0M386.8 496.3h0M353.7 503.6h0M356.3 500.2h0M346.3 500.9h0M322.7 500h0M389.6 500.9h0M320.8 500h0M339.2 497.4h0M369.4 496.1h0M369.7 499.5h0M363 493.6h0M360.8 496.4h0M371.5 498.5h0M332.9 504.1h0M358.6 500.2h0M386.2 498.2h0M389.2 496.6h0M348.8 496.8h0M351.4 499.8h0M389.8 497.9h0M355.5 502.2h0M340.9 502.9h0M380.1 499.6h0M322.6 499.2h0M373.9 498.5h0M331.8 502.4h0M328.6 499.2h0M400 495.7h0M375.1 497.7h0M353.9 498.8h0M386 497.8h0M373.2 501.2h0M378.8 499.4h0M332.8 501.6h0M344.5 497h0M362.2 498.8h0M386.6 494.2h0M341.3 495.1h0M380.6 496.8h0M331.8 502.6h0M318.1 501.6h0M328.1 502.1h0M319.9 500.6h0M340.1 501.3h0M354.1 498.5h0M345.4 499.8h0M352.6 498.9h0M321.3 502.3h0M389.9 496.6h0M354.5 503.3h0M331.3 499.1h0M352.4 498.1h0M368.5 498.6h0M378 500.6h0M380 499.3h0M390.4 498.6h0M325.9 498.5h0M372.7 497h0M332.5 498.9h0M347.7 502.6h0M360.8 501h0M398.7 497h0M330.6 501.5h0M393.7 495h0M318.9 500.8h0M390.2 498.4h0M337.6 497.9h0M365.9 500.3h0M359.3 499h0M398.2 497.1h0M327.5 500h0M354.8 498.9h0M363.1 500.7h0M377 495.5h0M331.7 498h0M334.5 502.2h0M396.2 498h0M332.8 499.2h0M331.7 501.9h0M388.7 497.9h0M327 502.3h0M400.3 496.3h0M351 501.3h0M363.8 498.3h0M364.3 501.7h0M326.7 498.1h0M350.4 502.2h0M367 502h0M323.1 500.3h0M347.1 502.2h0M339.2 499.1h0M381.6 496h0M336.7 500.6h0M339.4 501.6h0M352 501.6h0M358.5 496.8h0M342.1 501.8h0M331.5 498.7h0M319.8 500.3h0M364.8 496.6h0M331 500.6h0M389.6 498.4h0M382.9 497.6h0M393.6 498.3h0M376.8 501.9h0M357.2 497.5h0M347.4 498.2h0M373.3 499.7h0M330.7 499.2h0M358 498.4h0M324 499.6h0M321.5 500.1h0M371.8 501.8h0M395.1 497.5h0M372.9 499.6h0M368 498.5h0M362.9 499.5h0M360.7 497h0M363.7 499.1h0M364.8 498.1h0M357.4 498.2h0M384.8 499.7h0M398.2 498.2h0M322.4 500.6h0M362.2 503h0M361.6 499.9h0M363.1 497h0M393.6 498.7h0M356.6 498.8h0M326.2 498.4h0M327.3 499.8h0M375.2 496.2h0M351.8 497h0M328.8 500.9h0M374.9 494.7h0M374.7 501.3h0M374.5 501.8h0M398.7 498.9h0M349.4 502h0M319.7 500.4h0M320.2 499.3h0M343.6 494.3h0M341.1 499.9h0M319.2 500.9h0M384.5 497.7h0M322.2 499.1h0M365.8 498.6h0M399.1 497h0M363.2 500.9h0M331.8 499.6h0M349.8 495.8h0M339.8 498.8h0M354.2 502h0M321.8 501h0M396.4 499h0M331.4 498.5h0M349 500.5h0M364.1 505.8h0M400.1 497h0M365.9 497.3h0M335 498.3h0M388.8 497.8h0M396.3 497.4h0M380.3 501.3h0M343.1 501.2h0M374.6 501.1h0M353.9 503.4h0M363.2 498.1h0M357.5 499h0M361.6 501.8h0M356.9 501.2h0M385.1 498.1h0M347 502.7h0M337 501.3h0M328.5 501.3h0M334.8 500.7h0M392.5 494.9h0M383.4 497.2h0M322.7 500.5h0M373.8 502.5h0M346.7 498.6h0M388.1 498h0M388.3 495.1h0M335.7 498.2h0M360.1 495.6h0M384.6 497.3h0M372.2 496.9h0M378.8 497.1h0M321.8 499.8h0M355 499.1h0M393.8 495h0M385.4 496.1h0M361.2 499.2h0M390.7 497.2h0M391.3 498.5h0M396 496.7h0M384.4 492.7h0M368 497.3h0M390.1 495.6h0M339.1 500.5h0M351.1 495.7h0M319 501.7h0M375.8 500.3h0M387.8 496.1h0M352.5 498.9h0M349.6 499.7h0M351.7 501.7h0M330 502.2h0M389.4 500.4h0M320.4 500.4h0M352.9 502.4h0M383.3 496.2h0M366.6 498.8h0M376.2 497.6h0M399.3 496.8h0M349.7 500.5h0M326.9 501.4h0M333.7 501h0M392.9 497h0M383.5 498.2h0M322.7 502.5h0M352.3 501.6h0M387.9 497.5h0M362.7 495.9h0M385 494.1h0M337.1 499.1h0M368.8 496.6h0M383.5 497.7h0M329.3 501.3h0M329.1 503h0M329.8 499.9h0M325.9 501.7h0M380.7 499.6h0M360.2 498.8h0M336.8 501.4h0M362.4 503.7h0M381.2 499h0M350 504.3h0M363.9 496.5h0M320.3 499.8h0M383.3 497.2h0M364.7 499.2h0M338 498.6h0M336.5 498.5h0M355.4 501.7h0M397.7 496.2h0M340.8 497.6h0M378.9 500.9h0M399.4 497.2h0M326.4 500.9h0M345.3 498.4h0M349.4 495.8h0M354.8 503.6h0M347.4 504.6h0M359.5 501.7h0M399.8 497.1h0M363.4 501h0M391.3 499h0M322.7 498.8h0M357.6 495.2h0M331 500h0M351.9 499.4h0M354.7 499.1h0M354.8 505.9h0M379.3 494.7h0M367.3 501.4h0M323.9 499.2h0M359.8 500.6h0M380.5 498.4h0M394.4 498.8h0M379.2 500.2h0M397.3 496.2h0M368.1 495.4h0M397.8 498h0M346 500.9h0M399 497.8h0M331.5 499.6h0M364.2 498.9h0M375.2 504.2h0M382.1 496.6h0M365.2 501.3h0M378.2 496h0M332.5 500h0M336.3 500.1h0M369 495.2h0M390.8 499.5h0M347.4 503.4h0M348.5 501.9h0M338.4 499.5h0M396.7 497.1h0M371 495.9h0M325.7 499.9h0M382.1 500.3h0M393.6 500h0M388.2 496.7h0M373.3 497.6h0M372 497.7h0M387.3 497h0M333.9 500.6h0M391.6 498.3h0M331.5 499.1h0M377.4 496.8h0M392.2 498.1h0M329.3 497.5h0M325.6 498.1h0M366.6 501.6h0M323.4 501h0M363.2 495.4h0M349.7 497.5h0M328 501.8h0M372.6 496.5h0M358.7 501.9h0M336.9 498.9h0M356.6 498.7h0M353.2 496.7h0M343.4 499.4h0M346 501.9h0M374.9 498.1h0M346.8 499.5h0M317 500.4h0M388 496.3h0M371.4 496.4h0M366.3 495.2h0M378.6 498.3h0M373.7 497.5h0M387.4 497.6h0M389.2 499.3h0M394.6 497.4h0M357.8 502.1h0M365.4 499.5h0M388.3 499.3h0M336.9 503.1h0M323.5 498.2h0M393.1 497.3h0M356.5 500.5h0M400.4 496.5h0M365.6 497.7h0M376.2 500.7h0M355.8 504.4h0M329.2 499.2h0M341 497.8h0M390.3 498.9h0M367.8 498.9h0M329.6 502.7h0M329.2 500.5h0M332.9 498.7h0M357 500.9h0M323.6 500.3h0M370.3 498.2h0M368.8 498.9h0M394.1 498.3h0M377.8 498h0M381.1 498.9h0M327.5 501.1h0M364.6 502.2h0M375.5 499.9h0M399.2 497.5h0M375.3 497.1h0M324.9 501.1h0M337 498.9h0M375.7 497.1h0M344.5 500.4h0M319.5 500.4h0M373.3 499.8h0M381.6 495.8h0M363.2 499.9h0M347.9 501.1h0M364.2 500.8h0M350 495.3h0M385.7 496.9h0M374.2 501.1h0M375.6 497.7h0M338.1 496.9h0M388.3 497.4h0M340.2 496h0M349.9 497h0M360.7 503h0M370.1 500.1h0M360.6 497.3h0M357.8 498.1h0M366.1 501.4h0M323.9 499.4h0M333.7 499.3h0M373 500.3h0M386.7 495.4h0M331.7 499.1h0M322.8 500.7h0M372.6 501.1h0M359.5 502.7h0M353.9 500.8h0M390.1 496.4h0M376.4 496.2h0M359.4 495.3h0M348 499.2h0M377.7 496.9h0M326 502.8h0M341.5 497.5h0M345.1 497.6h0M357.5 493.6h0M354.4 498.2h0M388.3 497.5h0M371.1 497.9h0M327.6 497.7h0M341.5 499.4h0M363.1 497.5h0M359.8 498.8h0M365 499.7h0M326.1 500.2h0M328.5 497.3h0M371.5 495.9h0M342.1 498.2h0M337.7 503h0M325.7 499.5h0M334.6 498.7h0M327.3 501.2h0M391.7 497h0M349.6 497.5h0M331.2 500.2h0M390.9 498.7h0M362.2 503.6h0M343.6 501.8h0M320.1 500.4h0M383.5 494.7h0M326.6 500.9h0M369.5 497.7h0M399.5 496.8h0M371.1 496.3h0M360.5 497.2h0M393.8 495.9h0M380 495.4h0M373.9 500.7h0M338.4 499h0M331.5 498.2h0M364 496.1h0M385.4 497.2h0M375.4 499.3h0M389.2 496.9h0M388.9 499.4h0M390.2 497.6h0M340.4 500.5h0M385.4 497.5h0M399.1 496.2h0M362 497.1h0M349.7 498h0M350.7 503.3h0M367.4 505.7h0M398.2 498.1h0M340 499.8h0M381.2 495.5h0M333.5 501h0M368.4 496.3h0M370.8 501.2h0M377.3 498.8h0M329.8 498.4h0M333.6 500.9h0M382.2 497.9h0M363.8 501.6h0M330.6 500.1h0M330.1 500.1h0M381.7 496.2h0M391.2 495.4h0M375.4 498.7h0M395.7 496.4h0M376.2 495.6h0M337.6 502.3h0M385.2 497.4h0M390.2 496.6h0M377.6 494.6h0M356.7 500.4h0M392 498h0M374.4 498.6h0M358.6 497h0M373.1 498.3h0M399.6 495.6h0M350.8 500.6h0M356 494.6h0M345.5 499.3h0M320.7 500.6h0M395.2 494.7h0M346.8 500.1h0M337.9 500.6h0M363.3 497.9h0M375 500.4h0M356.1 498.3h0M387.1 498.5h0M319.1 499.6h0M393.4 497.1h0M348.7 498h0M384 495.9h0M360.7 502h0M327.2 499.7h0M395.3 497.6h0M347.8 500.1h0M371.7 497.8h0M368.8 497.9h0M375.6 497.3h0M345.1 496.9h0M322.8 500.7h0M357 500.1h0M370.9 495.2h0M346.3 498.9h0M332.5 497.4h0M348.1 497.3h0M330.1 500.8h0M371.8 497.9h0M350 494.7h0M334.8 501.5h0M385.1 500.8h0M399.4 496.2h0M382.6 499.4h0M324.7 500.8h0M340.9 497.8h0M392.2 497.7h0M396.6 496.8h0M389.6 495.5h0M323.4 502.4h0M361.4 500.3h0M388.7 496.6h0M348.9 496.8h0M379.2 500.4h0M336.8 499.2h0M350.8 498.2h0M345.1 503.9h0M362.8 498.2h0M393.5 497.7h0M372.6 498.1h0M396.6 496.2h0M356.2 498.6h0M374.3 498.8h0M371.3 497.7h0M354.5 498.3h0M355 499.9h0M360.8 499.1h0M326.1 499.9h0M383.8 496.6h0M343.9 498.4h0M377.9 499.6h0M366.9 500.2h0M392.6 496.5h0M335.5 501.9h0M375.9 494.9h0M336.5 501.4h0M354.8 500.5h0M398.1 497.2h0M353.3 503.2h0M324.3 501.1h0M326.4 500.2h0M328.5 502.1h0M318 500.7h0M378.6 498.5h0M387.4 499.1h0M328.8 501h0M386 492.7h0M341.1 501.8h0M323.3 502h0M347.9 496.3h0M366.4 495.8h0M358.2 497.7h0M377.7 501.2h0M385 494.8h0M349.9 501.1h0M330 499.8h0M329.4 499.9h0M400.2 495.8h0M397.4 499.2h0M344.8 503.6h0M384.6 495h0M341.4 496.8h0M376.3 499.1h0M393.4 495.2h0M321.8 500.8h0M388.5 496.7h0M318.3 501.4h0M350.8 496.7h0M360.4 499.4h0M399.5 497.5h0M321.9 499.6h0M334.1 501.1h0M361.3 495.5h0M378.7 498.7h0M356 502h0M344.8 498.6h0M364.7 499h0M371 494.6h0M387.9 496.8h0M370.6 496.4h0M345.5 500.4h0M394.4 498h0M348.9 500.2h0M332.5 497.6h0M374 493.7h0M362.7 496.6h0M358.9 498.9h0M376.4 497.5h0M333.2 501.1h0M319.3 499.4h0M332.4 499.1h0M365.1 497.5h0M328.3 500.3h0M381.2 499.4h0M366.3 497.8h0M353.1 497.3h0M360.7 498.7h0M329.9 500.1h0M360.2 500.5h0M368.5 496.8h0M370.3 497.6h0M353 501.6h0M328.4 499.6h0M353.2 497.8h0M378.5 501.7h0M396.5 495.3h0M371.3 499h0M324.2 502.3h0M395.7 498.5h0M348.7 501.2h0M386 498.2h0M347.7 499.2h0M341.1 496.6h0M324.1 500.6h0M337.2 501.3h0M358.2 498.1h0M339.1 497.7h0M392.5 500h0M352.5 500.1h0M380.1 498.5h0M396.7 497.2h0M356.8 498.5h0M390.3 497.5h0M346.4 500.7h0M347.5 499.2h0M388.5 500.7h0M322.1 499.3h0M381.8 500.1h0M377.1 494.6h0M332 499.2h0M319.1 500.4h0M365.2 495.5h0M323.2 498.8h0M387.3 494.7h0M340.8 499.9h0M357.5 498.9h0M320.1 499.7h0M342.3 499.5h0M399.9 496.7h0M360.1 498.1h0M380.8 497.8h0M364.4 495.5h0M328.1 501.6h0M336.5 500.8h0M396.2 496.7h0M385.5 501.1h0M368.2 498.4h0M334.5 501h0M396 495.3h0M379.1 501.8h0M377.5 499.7h0M364 500.5h0M322.5 500.6h0M319.2 500.3h0M375.5 498.4h0M321.9 501.9h0M351.8 498.2h0M371 501.8h0M365.9 503.9h0M339.3 501.2h0M337.9 500.8h0M370.6 497.3h0M351.4 501.2h0M373.6 501.8h0M328.5 499.1h0M393.4 497.7h0M376.2 498.5h0M365.1 502.4h0M381.3 501.6h0M335.4 500.1h0M360.5 497.7h0M356.3 498.4h0M377.1 498.5h0M350.9 500.1h0M342.4 499.5h0M388.2 496.7h0M390.1 497.5h0M328.7 498.5h0M361 498.3h0M338 500.1h0M363.6 501.6h0M392.1 497.2h0M381.8 497.4h0M372.4 494h0M379.4 501.1h0M360.5 499.1h0M379.4 499.2h0M377.3 498.4h0M371.5 498.2h0M355.1 501.6h0M394.3 497.7h0M335 501.9h0M378.9 496.4h0M349.3 501.5h0M333.8 498.7h0M371.7 496.8h0M337.5 498.4h0M368.6 500h0M329.2 502.5h0M378.9 495.3h0M389.7 497.9h0M350.9 496.6h0M389.7 496.3h0M398.3 499.1h0M371.1 497.4h0M366.1 500.6h0M334.2 501.1h0M336.7 498.2h0M323.6 500.6h0M346.6 497.7h0M387 495.6h0M368.4 496.1h0M396.2 498.2h0M357.1 494.4h0M381.4 500.4h0M357.6 498.2h0M375.5 499.2h0M390.3 495.2h0M395.7 498.6h0M335.7 500h0M396.4 496.4h0M355.3 500.8h0M341.8 501h0M399.9 496.7h0M336.9 500.1h0M381.3 496.9h0M344.4 498.8h0M375 498.4h0M386.7 496.6h0M340.9 498h0M386.1 498.5h0M341.2 497.6h0M360.4 498.7h0M375 499.9h0M381.1 496.4h0M346.5 498.7h0M343.5 500.8h0M372.7 498.6h0M326.3 501.4h0M351 498.1h0M317 500.8h0M325.1 500.2h0M392.1 495.4h0M325.3 502.3h0M346.2 498.9h0M354.2 496h0M365.9 503.3h0M326 500h0M358.3 501.4h0M360.1 500.2h0M383 496.5h0M374.9 495.7h0M389.1 495.9h0M383.8 497.3h0M325.2 500h0M323.3 501h0M349.8 499.9h0M353 496.4h0M373.9 497.8h0M347.9 500.4h0M330.2 497.1h0M375.9 494.3h0M354 501.2h0M332.3 498.9h0M398.3 496.4h0M330.2 499.7h0M386.4 495.1h0M368.6 501.6h0M360.3 501.8h0M320.5 500.7h0M325.7 500.1h0M353.9 502.3h0M383.4 495.9h0M362.6 497.8h0M391 497.9h0M348.9 498h0M338 499.2h0M379.4 499.3h0M371.2 500.5h0M368.6 497.1h0M394.3 497.3h0M396.1 497.6h0M397.1 495h0M321.5 500.5h0M323.6 501.3h0M367.2 497.4h0M389.2 495.4h0M365.1 496.1h0M381.4 495.5h0M396.6 498.6h0M333.8 500.6h0M385.1 499h0M320.6 499.1h0M329.3 502.2h0M388.6 502.1h0M386.9 497.2h0M379.9 495.4h0M354.8 502.7h0M349.8 497.7h0M337.4 498.2h0M340 498.5h0M328.8 502.9h0M344 496.5h0M317.4 501.2h0M368.6 500.3h0M381.1 497.8h0M373.2 495.3h0M389.4 495.1h0M353.7 498.4h0M336.8 499.8h0M397.6 497.5h0M382.2 494.3h0M398.5 497.4h0M317 500.4h0M356.4 496.8h0M327.1 500.4h0M383.3 500.9h0M321.5 499.4h0M335.9 500.6h0M317.8 500.2h0M389.1 495.5h0M327.3 499.4h0M333.3 498.5h0M350.6 499.3h0M337.2 501.2h0M385.9 499.1h0M325.7 500.3h0M384.6 499.2h0M350.5 498.4h0M352.2 498.6h0M336 500.8h0M390.8 498.7h0M382.8 501.6h0M391.8 496.3h0M348.1 498.8h0M357.9 503.1h0M346.4 501.3h0M379.8 500.2h0M338 498.5h0M394.9 497.5h0M368.2 501.5h0M317.5 500.3h0M323.3 497.3h0M377.6 497.5h0M317.4 500.9h0M348.9 498.1h0M372.3 497.5h0M337.1 499.3h0M368.4 501.1h0M372.8 500.4h0M375.5 499.1h0M335.2 497h0M369.7 501.5h0M358.6 500.8h0M362 495.6h0M373.2 500.3h0M342.6 501.6h0M359 499.7h0M369 499.5h0M334.3 499.2h0M317.9 500.3h0M379.6 498h0M363.1 494.9h0M319.4 500.3h0M360.4 496.8h0M380.3 497.6h0M363.3 499.8h0M331.8 498.7h0M382.7 495.9h0M354.7 502.4h0M355.8 500.4h0M334.9 503.1h0M375.6 496.9h0M321.9 498.7h0M334.1 500.8h0M368.9 498h0M391.2 497h0M359.3 496.3h0M368.7 500.1h0M336.4 500.7h0M392.9 496.1h0M387.6 497.4h0M375.3 496.3h0M322.1 500.9h0M331.8 499.5h0M368.4 497.1h0M348.5 502.2h0M355.1 501h0M362.2 500.3h0M350.4 498.8h0M359.7 497.5h0M338.6 500.2h0M384.1 496.3h0M351 494.1h0M322.6 500.6h0M396 497.8h0M326.6 500.4h0M358.8 495.3h0M359.7 496.4h0M328.4 500.2h0M347.9 499.9h0M366.2 496.8h0M358.3 500h0M322.1 499.6h0M361.1 498.6h0M348.3 500.1h0M323.3 499.2h0M348.9 498.5h0M370.1 497.5h0M340.4 501.9h0M396.5 496.5h0M331.2 499.5h0M335.6 501.8h0M347.8 498.5h0M341.4 503.3h0M386.3 498.4h0M335.4 498.5h0M365.6 499.7h0M389.3 497.3h0M359 497.4h0M399.2 497.2h0M335.7 500.6h0M329.4 502.9h0M372.3 501.1h0M320.1 500.5h0M370.8 496.9h0M334.4 500.1h0M329.5 501.9h0M320.4 500.3h0M330.9 500.8h0M333.9 502.3h0M317 501.2h0M382.3 497.7h0M317.7 501.1h0M360.7 501.2h0M393.8 497.6h0M356.5 499.2h0M319.5 498.9h0M346.8 496.2h0M341.7 496.7h0M388.1 497.7h0M322.4 500.8h0M334.3 501.6h0M379.6 496.9h0M343.8 501.2h0M343 503.2h0M355.9 498.5h0M318.6 500h0M384 497.3h0M384.4 498.1h0M388.1 497.6h0M361.7 499.6h0M371.7 499.8h0M369.5 497.9h0M332.6 501h0M373.1 500.2h0M380 499.4h0M378.3 498h0M345.5 499.4h0M350.6 498.8h0M366.3 498h0M398.5 498.1h0M352.4 498.9h0M333.9 497.3h0M349.4 500.4h0M346 498.5h0M317.1 499.6h0M391.6 494.7h0M379.1 497h0M380.7 498.8h0M359.8 499.9h0M336 502.3h0M382.8 498h0M335 500.9h0M396.3 497h0M378.4 497.2h0M360.9 501.8h0M348.3 500.1h0M380.9 494.9h0M345.3 500.3h0M344.8 499.1h0M368.5 497.6h0M380.9 498.1h0M384.6 496.9h0M384.8 497h0M375.2 499.7h0M358.5 496.6h0M355.8 498.2h0M331.1 498.9h0M356 500.5h0M384 498.6h0M318.9 500.9h0M391.5 495.3h0M374.3 497.1h0M329.2 499.8h0M388.5 498.1h0M397.4 496.5h0M372.3 499.3h0M344.7 496h0M350.4 499.4h0M364.8 500.2h0M348.1 500.6h0M325.9 499.3h0M320.4 498.2h0M390.8 497.7h0M371.8 498.5h0M381.8 497.5h0M366.6 498.9h0M374.2 498.9h0M322.7 500.1h0M369.8 498.6h0M320.1 501.7h0M321.4 500h0M317.8 501.6h0M382.4 496.9h0M356.9 500.7h0M385.8 494.9h0M340.4 501.9h0M366.4 500.1h0M392.9 496.4h0M319.3 500.3h0M331.4 500.2h0M371.4 498.4h0M395 494.7h0M368.7 499h0M350.9 498.9h0M334.6 500.4h0M322.5 499.8h0M317 499.8h0M352.7 502.8h0M343.6 500.5h0M367 501.6h0M372.2 502.7h0M379.3 499.2h0M321.2 499.6h0M365 495.6h0M363.8 496.6h0M360.8 499.5h0M325.5 501h0M345.8 499.6h0M354 498.5h0M367.2 499.6h0M399.2 497.3h0M381.3 501.8h0M354.1 504.7h0M333.7 501.2h0M336.9 498.6h0M360.5 500.9h0M367 498.4h0M361.6 500.1h0M342.6 500h0M380.2 497.8h0M369 497.6h0M384.2 498.9h0M364.7 501.3h0M366.7 499.6h0M364 502.4h0M397.7 497.3h0M328.1 501.1h0M372.6 496h0M373.9 499.8h0M330.4 499.7h0M374.9 497.5h0M388.8 498.7h0M328.6 501.8h0M377.5 497h0M345.4 500.4h0M375.9 498.9h0M373.8 496.7h0M349 497.8h0M334.4 498.4h0M329.9 503.7h0M338.6 500.2h0M373.2 499.9h0M381.6 496.5h0M336.5 498.7h0M361.3 496.2h0M385 499.3h0M376.9 499.4h0M374.2 500h0M319.6 500.9h0M358.3 504.4h0M369.6 499.7h0M387.9 499.2h0M329.8 501h0M350.1 495.5h0M398.3 496.2h0M345.8 501h0M393.4 494.8h0M337.8 500h0M365.9 497.9h0M393.2 497.3h0M366.8 500.9h0M345.9 499.1h0M324.6 499.8h0M322.2 500.8h0M336.8 502.2h0M346.3 502.6h0M393.9 495.9h0M393.7 497.1h0M364.8 500.2h0M383.7 498.7h0M323.8 501.2h0M385.8 497.1h0M376.2 500.5h0M321.2 499.7h0M390.9 498.1h0M322.9 499.7h0M336.9 497.9h0M387.4 499.2h0M398.3 496.7h0M364.6 498h0M335.1 498.3h0M320.2 499.9h0M355.3 497h0M355.6 500.2h0M387.7 496.7h0M358.8 497.5h0M382.6 499.3h0M362.4 497.5h0M355.6 500.4h0M366 496.9h0M360.1 500.6h0M357.4 498.7h0M347 497.8h0M338.5 503h0M347.5 501.5h0M325.9 501h0M328.2 499.6h0M369.9 500.8h0M326.2 499.5h0M378.6 496.1h0M384 500.4h0M317.2 499.9h0M384.3 500.5h0M338.6 501h0M363.2 497.2h0M359.4 499.2h0M335.9 502.2h0M341.7 501.9h0M377.7 498.1h0M343.1 497h0M323.6 500.3h0M372.1 494.8h0M324.3 500.5h0M338.6 500.7h0M390 498.8h0M383.8 497.9h0M338.5 501.6h0M390.1 500h0M397.1 497.4h0M344.4 500.2h0M344.5 497.8h0M344.4 500.8h0M318.1 501.1h0M388.5 498.8h0M344 495.3h0M361.5 500.3h0M400.2 497.1h0M338.4 499.6h0M339.7 496h0M385.6 497h0M333.3 496.8h0M362.3 504h0M342.6 498.6h0M319.3 501h0M351 499.8h0M377.9 499.6h0M368 497.6h0M356.1 500.8h0M369.5 497.6h0M371.1 499.9h0M383.2 494.7h0M327.1 499.3h0M355.9 498.7h0M324.8 500.8h0M367.3 497h0M374.8 498.5h0M327.4 498.5h0M341.5 502h0M397 496.2h0M352.9 498.7h0M385.3 497.3h0M392.9 497.3h0M330.7 499.6h0M361.2 500.6h0M343.6 499.6h0M381.5 492.5h0M340.5 499.3h0M375.9 499.8h0M385.7 496.3h0M339.9 501.6h0M379.3 499.5h0M384.5 500.5h0M383.5 495.7h0M392.7 495h0M377.5 499.6h0M326.6 499.7h0M386.4 498.4h0M398.8 497.4h0M317.8 501.3h0M359.3 497.4h0M352.1 502.6h0M330.9 499.4h0M343 504.1h0M392.3 497.2h0M322.2 502.5h0M348.9 501.2h0M386.9 497.1h0M317.6 499.7h0M321.3 499.6h0M390.2 499.6h0M356.8 497.2h0M375.8 496.4h0M319.1 500.7h0M349.3 497.2h0M321.2 499.6h0M347.2 493h0M380.7 494.6h0M380.9 499.3h0M387.2 492.2h0M399.1 497.8h0M393.8 498.6h0M364.9 498.3h0M394.4 497.6h0M378 494.5h0M352.6 502.1h0M357 499.1h0M324.2 500.2h0M357.7 497h0M391.9 499.7h0M319.9 499.8h0M340.4 496.1h0M356.6 493.9h0M369.3 494.5h0M355.2 499.1h0M331.7 499.7h0M339.3 499h0M381.1 499.3h0M376.7 499.2h0M328.4 499.5h0M392.4 498.6h0M327.4 499.9h0M362.6 496.9h0M397 496.8h0M368.8 497.5h0M351.6 495.7h0M327.1 500.7h0M355 499.7h0M396.2 498.7h0M364.4 498.9h0M358.5 498.1h0M359.5 498.7h0M317.4 500.3h0M361 497.2h0M353.3 498.7h0M333.5 497.9h0M330.4 498.4h0M368.5 497h0M383.7 499h0M335.6 498.2h0M342.8 500.5h0M390.8 497.3h0M358.8 496.4h0M350.9 500.6h0M368.1 497.5h0M332.9 501h0M344.7 500.2h0M325.5 499h0M374.3 498.7h0M357.5 498h0M374 502.5h0M337.4 500.3h0M347.7 500.8h0M344.8 499.2h0M396.6 497.7h0M376.4 500.6h0M384.8 497.8h0M359.1 500.2h0M326.1 500.1h0M330 502h0M382 499h0M380.2 497.3h0M384.4 497.2h0M368.6 500.3h0M318.4 500.5h0M395.3 497.7h0M341.4 499.4h0M328.3 498.9h0M369.3 498.2h0M346.8 499.7h0M380.7 495.4h0M330.1 500.6h0M385.1 497.5h0M345 497.8h0M387.1 498.1h0M328.4 504.8h0M340.7 498h0M384.5 496h0M326.7 499.5h0M340.7 496.1h0M332.9 500.5h0M378.7 499.3h0M358.3 499.2h0M365.8 498.4h0M324.7 499.8h0M385.7 497.7h0M388.2 498.4h0M369.5 496.2h0M345.3 498.1h0M337.8 502.9h0M382.9 498.6h0M339.9 501.9h0M332.9 499.4h0M327.1 500h0M386.2 500.4h0M392.4 498.8h0M333.5 503.2h0M377.7 496.2h0M322.3 499.2h0M378.2 503.8h0M371.4 498.6h0M385.8 496.6h0M357.9 493.4h0M399.3 498.5h0M335.2 497.9h0M362.8 499.1h0M362.4 494.6h0M368.7 499.1h0M334.2 494.4h0M317.6 500.4h0M361.7 498.6h0M361.4 499.8h0M393.2 498.5h0M334.6 498.8h0M387.6 497.6h0M335.4 502.6h0M390.5 497.2h0M371.9 500.5h0M388.6 496.2h0M395.9 498.3h0M369.7 494h0M355.6 498.5h0M386.6 495h0M346.4 503.1h0M397.5 497.6h0M332.2 498.9h0M383.5 499.7h0M332.5 501.5h0M360.5 498.8h0M346.2 499.1h0M338.4 501.2h0M339.3 497h0M370.4 499.3h0M374.3 498.7h0M357.9 498.1h0M365.5 500.2h0M394 497.3h0M369.1 499.7h0M323.5 500.4h0M323.6 500.7h0M379.3 499.7h0M341.9 504.3h0M345.9 499h0M327.7 498h0M359.4 501.7h0M331.1 502.2h0M395.9 497h0M384.4 496.2h0M323.2 498.5h0M320.3 502.1h0M376.2 497.4h0M383.8 499.7h0M373.7 498.8h0M397.6 495.4h0M346.8 496.3h0M336.6 500.2h0M321.5 502.5h0M339.7 497h0M337.8 500.2h0M330.2 499.5h0M335.7 499.7h0M330.2 500.5h0M368.2 498.4h0M332 500.8h0M388.3 495.3h0M398.8 497.2h0M367.4 499.9h0M368.7 500.9h0M378.8 498h0M347 500h0M367.5 500.6h0M335.2 500.5h0M354.2 500.1h0M341.1 499.5h0M318.1 500.8h0M340.7 499.6h0M386.8 497.6h0M383.6 495.3h0M321.1 499.8h0M398 496.3h0M324.2 500.3h0M371 495.9h0M329.7 499.4h0M382.4 496.5h0M397.9 496h0M332.2 501.2h0M381 497h0M349.8 498.9h0M323.3 500.3h0M399.5 497.2h0M340.6 498.8h0M319.2 500.5h0M327.7 501.4h0M377.7 498h0M341.2 500.1h0M398.1 496.3h0M367.2 498.3h0M326.6 501.2h0M337.7 498.2h0M367.4 493.9h0M394.3 497.4h0M367.3 502h0M339.9 499.9h0M318.4 501h0M375.1 499.5h0M394.5 496.9h0M368.5 498.1h0M358.9 498.2h0M327.8 499.5h0M361.7 496.3h0M339.5 496.7h0M390.1 497.4h0M394.9 496.5h0M339.2 497.3h0M349.6 498.6h0M319.2 500.4h0M387.1 496.6h0M382.2 499.4h0M375.8 498.6h0M366.1 501.8h0M353.9 501.3h0M370.1 497.8h0M395.6 498.3h0M350.9 501.7h0M354.4 503.1h0M332.3 499.9h0M396.2 497.5h0M384.4 497.3h0M357.6 503.8h0M399.8 497.4h0M391.9 497h0M358.3 499.1h0M361.2 496h0M398.8 496.3h0M362.7 498.6h0M394 495.6h0M332.5 500.6h0M394.4 496.6h0M343.1 498.4h0M370.4 500.9h0M362.7 500.8h0M343.7 499.7h0M347.4 500.2h0M348.8 498.7h0M352.6 501h0M371.8 499.4h0M363 497.1h0M370.9 500.3h0M383.4 497.7h0M387.9 498.5h0M326.6 499.6h0M394.8 497.5h0M388.7 497h0M351.3 503h0M325.3 501.4h0M333.7 502.2h0M340.6 497.5h0M354.4 500h0M388.7 497.2h0M329.3 501.5h0M332.5 499.1h0M347.8 498.2h0M322 500.7h0M397.1 498.6h0M370 494.3h0M344.5 502.3h0M390.4 499.4h0M396.1 497.6h0M348.5 497.2h0M325.6 500.3h0M358.5 495.5h0M332.6 501.7h0M321.4 500.8h0M393.5 497h0M364.1 497.4h0M355.5 499h0M368.4 502.6h0M367.8 499h0M386.9 493.9h0M382 498.8h0M345.1 500.9h0M351.2 497.9h0M335.3 499.6h0M363 499.1h0M332.7 502.4h0M364.1 500.5h0M361.1 500.8h0M318.7 501.7h0M325.1 499.6h0M350.5 500.7h0M393.6 498.3h0M334.6 499.6h0M345.3 499.4h0M374.6 499.3h0M325.3 499.8h0M386.5 498.2h0M345.2 502.3h0M335.2 502h0M340.4 498.7h0M357.1 500.6h0M329.3 499.8h0M354.1 502.7h0M325.7 498.9h0M369.6 496.4h0M352.2 497.3h0M391.7 497.1h0M355.3 498.5h0M353.6 495.7h0M330.1 498.3h0M347.7 502.1h0M329.2 498h0M396.2 497.9h0M381.1 498.6h0M372.6 499.9h0M340.3 497.9h0M398.7 498.7h0M388.7 497.7h0M335.5 497.8h0M347.6 499.1h0M333.8 502.2h0M391.5 496.1h0M396.3 498.1h0M373.8 498.2h0M394.2 496.9h0M355.6 502h0M399.3 497.2h0M349.8 497.2h0M398.2 496.7h0M381.3 496.6h0M333.4 499.9h0M340.3 501.4h0M382 497h0M390.9 496.5h0M384.5 496h0M394.8 496.2h0M386.1 495.3h0M320.2 499.6h0M356.1 502.6h0M359.1 498.6h0M380.5 501.6h0M322.3 500.2h0M354 501.9h0M382.3 498.8h0M329.1 497.6h0M333.5 498.8h0M324.8 502.1h0M393.6 498.1h0M345.5 500.6h0M397.3 497h0M330.9 501.2h0M372.3 499.7h0M395.4 497.3h0M370.8 495.2h0M391.7 498.6h0M322.3 500.5h0M393 496.9h0M364.8 505.9h0M348.4 497.2h0M325.6 500.6h0M383.2 500.7h0M400.3 497.2h0M356.9 500h0M363.4 499.8h0M328 498.8h0M372.3 502.6h0M374.7 497.7h0M333 499.2h0M362.8 499h0M388.1 498.4h0M341.5 498h0M396.8 496.8h0M372.8 495.7h0M320.7 500.4h0M381.5 495.4h0M331.1 499.1h0M383.1 497.9h0M333.2 500.7h0M355.7 500.7h0M337.9 497.1h0M345 503.3h0M318.7 501.5h0M317.9 501.5h0M328.6 501.9h0M378 499.3h0M380.5 497.7h0M398.2 498h0M377.8 497.6h0M345.2 499.3h0M319 501h0M328.2 500.9h0M355.4 498.8h0M364.2 497.8h0M319.2 500.5h0M372.1 499.5h0M362.4 501.3h0M373.4 496.6h0M395.8 498.7h0M368.8 495h0M366.4 500.9h0M334.7 497.8h0M362.9 502.8h0M324.3 499.8h0M370.7 500.2h0M354.3 497.8h0M332 502.6h0M333.9 499.4h0M350.7 496.7h0M335.5 498.6h0M359.5 495.6h0M354.5 496.2h0M391.1 499.5h0M354.8 502.8h0M370.7 494.8h0M329.6 500.4h0M360.6 498.1h0M358.6 498.5h0M380.1 502.2h0M378.6 499.1h0M321.8 500.8h0M328.3 500h0M391.3 499.1h0M343.7 498.7h0M342.5 499.3h0M347.5 504h0M346.4 502.1h0M373.4 496.1h0M365.6 494.3h0M330.1 502.7h0M348 499.9h0M375.4 498.2h0M355.4 500.8h0M324.8 497.7h0M330.9 501.5h0M319.5 499.7h0M327.2 501.2h0M377.3 498.7h0M328.5 500.2h0M371.3 496h0M376.9 499.2h0M391.7 494.3h0M373.1 500.8h0M362 498.4h0M324.9 500.5h0M349.3 498h0M360.7 502.6h0M345 501.2h0M389.2 498.1h0M319.3 500.2h0M367.9 502h0M346.5 496.8h0M383.9 500.4h0M326.9 501.5h0M341.1 498.4h0M386.5 499.8h0M327.4 500.4h0M338.4 500.5h0M353.2 502.4h0M337.8 499.4h0M352 497.9h0M359.1 495.2h0M331.4 497.2h0M391.1 497.3h0M326.1 500h0M396.8 497.4h0M318.7 500.9h0M398 495.8h0M323.1 499.8h0M370.5 497.5h0M344 500.3h0M321.6 500.4h0M359.2 500.3h0M369.1 499.6h0M336.9 503.1h0M353.8 501.8h0M357.2 496.3h0M352.3 501.9h0M375.4 498.5h0M361.8 498.1h0M386.1 499.2h0M320 500.3h0M347.1 497.9h0M324.7 500.4h0M377.9 500.5h0M325.7 500.6h0M399.3 496.1h0M349.7 497.5h0M330.7 500.2h0M338.8 499h0M387.8 496.1h0M334 499.3h0M335.4 501.1h0M351.1 497.9h0M393.6 497.9h0M335 498.7h0M326.4 500.6h0M389.3 498.2h0M367.3 495.8h0M345.8 499.5h0M320.5 500.4h0M357.2 500.3h0M375.8 500.7h0M366.1 496.3h0M362.2 494.3h0M389.8 494.7h0M326.4 498.4h0M344.7 501.7h0M400.5 497.1h0M390.4 497.2h0M357 502.8h0M341.1 499.9h0M388.4 494.8h0M365.4 501.4h0M360.8 500.9h0M367.2 493.9h0M324.4 501.1h0M362.2 498.2h0M360.9 505.7h0M325.3 501h0M390.7 497.7h0M387.3 495h0M367.5 500.9h0M363.4 500h0M366.9 499.7h0M380.1 493.3h0M380.7 499.1h0M317.2 500.5h0M340.8 500.5h0M319.3 501.2h0M361.9 499h0M348.2 501.5h0M372.2 495.3h0M335.7 499.1h0M340.6 498.3h0M386.8 497h0M317.2 500h0M318 500.4h0M350.8 495h0M330.7 502.1h0M347.6 500.2h0M371.1 501.4h0M372.8 499.9h0M357.7 497.3h0M392.1 497.1h0M340.1 498h0M382.8 498.2h0M362.7 501.1h0M367.6 500.3h0M321.3 500.1h0M370 498.1h0M357.9 499h0M355 497.4h0M359.9 498.5h0M390 495.7h0M336.6 498.9h0M347.4 499.9h0M383.6 499.4h0M371.4 499.4h0M338.3 497.3h0M370.5 497.8h0M349.8 502.2h0M377.1 500.3h0M375.3 499.1h0M398.8 496.6h0M358.2 497.9h0M338.9 498.9h0M344.8 502.9h0M390.2 498.2h0M371.7 497.5h0M320.4 502h0M371.2 499h0M341.8 503.2h0M379.4 499.3h0M386.2 498.5h0M396.5 497.6h0M356.1 497.3h0M396.3 495.6h0M334.5 501.4h0M383.3 497.4h0M321.4 500.3h0M383.7 496.5h0M360.3 499.8h0M353.9 496.9h0M334.6 501.1h0M393.4 497.7h0M318 500.3h0M367.7 497h0M332.9 498.3h0M399.2 497.2h0M385 499.1h0M323.6 500.2h0M350.7 503.1h0M352.9 496.5h0M359.6 497.6h0M326.6 502.3h0M334.6 496.6h0M318.1 499.6h0M324 501.4h0M322.5 499.8h0M361.8 501h0M346.4 502.7h0M393.9 497.1h0M350 502.9h0M360.3 495.8h0M344.6 501.7h0M320.2 500.3h0M342.7 500.1h0M384.8 497.7h0M351.5 497.4h0M350.7 501h0M394.6 499h0M346.3 504h0M351.6 498.1h0M396.9 499.1h0M329.8 501.7h0M338.5 499.4h0M340.9 500.1h0M319.8 501h0M351 503.7h0M339.6 499.1h0M326.2 499.6h0M325.3 500.6h0M392.2 496.9h0M393.2 497.6h0M328.5 499.9h0M356 499.2h0M321.5 500h0M318.6 501.8h0M383.1 501.2h0M380.5 497.9h0M330.7 498.8h0M329.6 499.9h0M321 500.9h0M341.6 500.1h0M349.8 496.5h0M350 499.5h0M320.4 499.4h0M347 501.3h0M363.5 497.5h0M320.5 501.7h0M335.1 500h0M329.2 498.5h0M399.2 498.7h0M376.8 496.7h0M367.6 501.9h0M349.5 496.5h0M330.4 499.6h0M320.9 499h0M322.5 502.2h0M383.9 502.4h0M368.8 502.7h0M365.5 500.1h0M333 503.1h0M320.5 500.4h0M335 499.5h0M364.2 498.1h0M331.7 500.2h0M375 496.8h0M349 497.8h0M349.5 502.7h0M397.9 497h0M398.4 496.3h0M385.5 495.2h0M348.7 501.3h0M338.4 501.6h0M368.3 498.5h0M373 500.3h0M327.6 501h0M376.1 495.5h0M361.9 497.8h0M382.2 498.7h0M351.3 499.9h0M332.1 497.8h0M386.4 498.3h0M394.2 496.6h0M392.7 496.9h0M333.1 499.2h0M345.2 500.5h0M355.9 497.6h0M376.5 499.7h0M339 501.1h0M332.5 498.4h0M394.8 496h0M397.6 497h0M371 499.4h0M345.7 503.1h0M348.1 500.8h0M386.5 499.7h0M318.6 501.2h0M360 495.2h0M349.4 497.5h0M391.7 495.7h0M400.1 498.4h0M329.5 502.1h0M348 496.7h0M338.3 500.9h0M327.2 499.3h0M382.5 499.1h0M372.5 499h0M392.3 499.2h0M323.5 499.6h0M394.7 495.6h0M341.9 499.2h0M335.8 501.6h0M358.1 503.1h0M343.3 503.4h0M345.4 499.5h0M391.9 497.3h0M359.7 497.1h0M333.4 500.5h0M338.8 498.7h0M360.5 499.1h0M379.3 498.7h0M379.7 497.2h0M393.8 497.9h0M334.3 499.9h0M346.9 495.1h0M392.4 496.8h0M367.6 500h0M326.5 501.8h0M366.9 499.3h0M380.1 497.5h0M358.4 498.1h0M384.3 498.1h0M368.1 501.9h0M385.9 499.6h0M373.7 499.6h0M371.5 497.6h0M320 499.5h0M383.9 497.8h0M331.4 498.9h0M388.2 496.2h0M340.9 501.7h0M339.5 501.6h0M384 499.6h0M339 503.4h0M390.3 498.2h0M374.2 499.6h0M350.4 503.1h0M341.7 500.2h0M319.9 500.8h0M341.2 501.6h0M375.4 496.8h0M332.7 499.6h0M335.4 501.7h0M361.6 492.4h0M359.7 505.8h0M322.5 500.4h0M341.6 497.5h0M356.3 496.9h0M381.1 501.6h0M385.1 499.4h0M354.9 498h0M340.8 500.6h0M377.3 495.2h0M381.8 497.9h0M345 496.6h0M361.2 495.6h0M323.8 499.7h0M385.2 495.3h0M384.8 499.6h0M355 497.3h0M358.5 497.6h0M320.1 500.4h0M330.8 497.9h0M390.1 498.2h0M381 496.4h0M325 499.3h0M335.4 502.2h0M371.1 497.7h0M333.1 501.8h0M346.6 502.7h0M378.9 497.4h0M387.2 500.4h0M327.2 500.3h0M389.1 494.3h0M336.7 501.5h0M326.7 499.9h0M396 496.5h0M377.5 501.1h0M364.4 501.1h0M387.5 500.5h0M398.7 498.1h0M388.7 497.8h0M394.2 498.3h0M358.5 497.9h0M355 496.9h0M357.4 501h0M347 495.3h0M326.8 499.3h0M374.8 497.7h0M336.3 504.2h0M322.5 500.6h0M354.9 500.8h0M360 495.2h0M397.8 497.8h0M374.8 498.1h0M400.4 497.2h0M330.6 499.7h0M355.2 498.9h0M368.6 500.9h0M394.5 498.7h0M333.8 497.5h0M396.8 497.3h0M326.6 499.1h0M396.2 495.7h0M362.4 496.5h0M339.8 501.9h0M381 494.6h0M385.9 494.4h0M370 481.5h0M337 520.6h0M355.1 511.9h0M357.3 509.9h0M321 500h0M366.1 490.6h0M374.4 491.4h0M352.4 493.4h0" stroke="#0a0a0a" stroke-width="2.3" stroke-linecap="round" fill="none"/>
<path d="M355.1 505.8h0M373.3 504h0M337 503.5h0M345.8 504.2h0M358.8 504.9h0M344.4 504.6h0M354.1 503.9h0M374 503h0M360.3 503.8h0M377.6 502.7h0M358 505.4h0M362.5 505.4h0M371 504.5h0M376.3 504.3h0M368 504.3h0M355.9 506h0M353.3 504.9h0M368.6 503h0M360.7 504.5h0M337.2 504.4h0M348.2 507.8h0M368.9 502.9h0M344.3 504.2h0M338.3 504.9h0M370.5 503.5h0M350.7 530.4h0M349.1 507.4h0" stroke="#2f3d92" stroke-width="2.3" stroke-linecap="round" fill="none"/>
<path d="M396.5 478.4h0M382.5 490.8h0M374.1 494.9h0M378.5 493.4h0M392.3 494.8h0M391.2 489.9h0M392.7 492.9h0M395.2 486.8h0M397.6 493.3h0M393.7 495h0M378.2 492.3h0M380.6 489.6h0M383.7 492.1h0M380.5 490h0M387.2 494.7h0M383.9 494.1h0M394 488.9h0M399.2 490.9h0M391.1 492.6h0M397.5 494.4h0M390.6 489.1h0M397.1 490.3h0M390.6 492.6h0M387.4 492.1h0M389.1 488.1h0M398.6 493.8h0M395.3 494.4h0M399.1 495.2h0M390.1 494.5h0M396.8 494.5h0M397.3 493.7h0M387.4 487.5h0M392.9 492.7h0M397.2 491.6h0M381.6 491.9h0M394 492.5h0M377.2 493.9h0M379 490.2h0M376.1 493.9h0M380.9 494h0M392.1 494.2h0M379.6 492.1h0M382.1 492.1h0M399.3 493h0M381.7 488.4h0M376.5 490.6h0M385.9 491.5h0M374.1 490.9h0M381.7 493.3h0M398.4 495.1h0M386.1 493.1h0M378.7 494.4h0M389.7 494.2h0M369.5 492.4h0M392.3 492.3h0M382 493.3h0M382.9 490.7h0M397.8 495.1h0M385 491.5h0M394.7 493.8h0M393.1 495.1h0M386.2 492.3h0M387.1 483.6h0M393.3 484.3h0M371.5 494.5h0M374.6 492.2h0M380.8 494.4h0M397.5 492.7h0M388 489.6h0M378.9 493.5h0M381.5 492.5h0M392.3 493.5h0M396.2 484.2h0M398.1 489.6h0M370.9 493.4h0M397.1 488.3h0M391.2 494.8h0M397.3 489.3h0M391.4 493.9h0M389.5 493.6h0M370.9 494.8h0M396.3 486.4h0M379 489.8h0M395.1 491.4h0M384.3 491h0M373.1 492.8h0M392.2 490.4h0M385.6 493.3h0M394.1 492.9h0M381.1 491.9h0M372 493.7h0M398.3 489.4h0M399.4 482.3h0M398.7 490.3h0M378.7 491.6h0M379.4 494.5h0M393.7 493.4h0M395.8 491.6h0M399.6 493.9h0M385.9 492.9h0M379.3 491.7h0M397.5 491.1h0M382.3 491.7h0M389.4 493.9h0M382.8 494h0M371.9 492.8h0M375.2 494.1h0M392.6 493h0M393.6 492h0M371.4 493.7h0M396.5 491h0M389.3 494h0M399.7 491h0M392.2 489.1h0M398.7 492.7h0M376.5 494.4h0M372.2 494.4h0M388.8 494.3h0M391 490.4h0M395.1 491.8h0M398 487.1h0M381.8 494.8h0M379.6 491.8h0M395.6 492.5h0M392.6 494.9h0M395.4 490.3h0M382 493.9h0M374.2 494.7h0M391.8 492.5h0M379.1 493.4h0M383.4 494.1h0M372.6 493.6h0M396.8 491.6h0M372.1 493.7h0M395.6 492.6h0M386.1 493.4h0M398.3 490.8h0M374.6 490.5h0M390 494.9h0M384.4 493.2h0M381.9 492.7h0M383.3 492.9h0M396.6 492.9h0M397.8 489.5h0M382.1 492.8h0M390.8 493.6h0M385.1 491.9h0M370.7 491.1h0M385.1 491.3h0M370.7 493.4h0M393.9 494.9h0M377 493.6h0M398.2 492.4h0M380.1 492.6h0M371.3 494.3h0M379 492.6h0M377.7 494.4h0M377.9 490.6h0M394.1 491.7h0M398.7 488.8h0M388.2 488.5h0M393.1 491.3h0M396.8 490.8h0M382.1 493.3h0M375.8 491.6h0M376.9 493.6h0M378.3 493.6h0M390.6 494.8h0M398.7 483.6h0M392 492h0M397.1 492.9h0M375.8 494h0M399.9 495.1h0M396.4 485.6h0M393 488.2h0M395.6 487.3h0M394.6 493.2h0M375.9 491.4h0M393 492.6h0M396.3 492.5h0M383.7 492.9h0M370.4 494.7h0M393.9 493.3h0M374.6 493.5h0M398.2 487.4h0M387.2 493.9h0M383.8 493.2h0M394.6 485.5h0M390.7 489.8h0M394.9 494.6h0M380.4 490.2h0M387.2 493.3h0M373.6 493.1h0M398.5 487.4h0M383.5 494.3h0M378.7 493h0M393.8 493.9h0M380.1 491.7h0M389.7 494.3h0M394 495h0M394.1 490.3h0M397 491.4h0M393.1 495.1h0M397.7 494.1h0M398.8 489.6h0M376.1 493h0M392.9 491.9h0M396.1 489.4h0M394.3 492.8h0M397.2 491.4h0M370.8 493h0M378.9 493.4h0M387.4 493.8h0M397.6 494.3h0M395.9 495.4h0M375.2 490.8h0M384.4 489.8h0M389.6 491.5h0M382.5 494.2h0M378.8 494.7h0M372.8 494.8h0M374.2 493.2h0M396.2 492.9h0M394.2 491h0M385.2 490.6h0M394.5 491.3h0M388.5 490.9h0M369.1 494.5h0M375.5 493.6h0M397.8 493.8h0M386.4 493.5h0M389.9 492.2h0M392.7 493.3h0M395.5 493.3h0M374.8 494.3h0M375.5 493.8h0M390.3 494.7h0M391.2 490.6h0M394.6 488.5h0M398.9 492.7h0M387.2 493.1h0M392.7 486.8h0M387.9 493.5h0M374.2 491.3h0M380.8 486.4h0M392.9 488.8h0M399 495.5h0M384 491h0M396.5 487.9h0M397.1 488h0M379.9 491.7h0M382 494.1h0M387.2 489.4h0M373.8 493.8h0M397.8 493.3h0M398.6 490.3h0M385 487.3h0M383 491.8h0M390.8 492.9h0M392.8 494.7h0M386.5 478.6h0M392 477.8h0M393.6 476.2h0M359.5 487.3h0M377.1 485.6h0M388.1 483.2h0M396.4 481.5h0M382.6 488.9h0M348.5 488.9h0" stroke="#d7262c" stroke-width="2.3" stroke-linecap="round" fill="none"/>
<text x="385.8" y="458.1" font-size="8.7" text-anchor="start" fill="#d7262c" font-style="italic">CXCL10</text>
<line x1="400.8" y1="462.3" x2="397.4" y2="470.9" stroke="#d7262c" stroke-width="0.75" />
<path d="M396.2 474 L396 469.8 L399.2 471.1 Z" fill="#d7262c"/>
<text x="32.4" y="13.8" font-size="8.7" text-anchor="start" fill="#231f20" >Whole blood</text>
<text x="110.8" y="13.8" font-size="8.7" text-anchor="start" fill="#231f20" >O/N incubation</text>
<path d="M39 93.5 V147.5 A6.3 6.3 0 0 0 51.6 147.5 V93.5 Z" fill="#f1d3d6" stroke="#a0434d" stroke-width="0.6"/>
<clipPath id="tb3875"><path d="M39 93.5 V147.5 A6.3 6.3 0 0 0 51.6 147.5 V93.5 Z"/></clipPath>
<rect x="39" y="100.4" width="12.6" height="53.4" fill="#811c27" clip-path="url(#tb3875)"/>
<rect x="40" y="103" width="5.4" height="37" fill="#f0cdd1" stroke="#c7868e" stroke-width="0.4"/>
<path d="M38.3 77.6 Q38.3 75.4 40.5 75.4 H50.3 Q52.5 75.4 52.5 77.6 L52.8 93.8 H38 Z" fill="#8f2d37"/>
<rect x="38" y="91.2" width="14.8" height="2.6" fill="#7a2029"/>
<rect x="38.4" y="76.4" width="14" height="1.4" fill="#a1414b" opacity="0.7"/>
<path d="M85.2 49.3 V103.7 A6.7 6.7 0 0 0 98.6 103.7 V49.3 Z" fill="#f6e2e4" stroke="#c07a83" stroke-width="0.6"/>
<clipPath id="tb8431"><path d="M85.2 49.3 V103.7 A6.7 6.7 0 0 0 98.6 103.7 V49.3 Z"/></clipPath>
<rect x="85.2" y="90.4" width="13.4" height="20" fill="#ad4a55" clip-path="url(#tb8431)"/>
<rect x="86.5" y="59.6" width="6.1" height="37" fill="#f3d9dc" stroke="#c98a92" stroke-width="0.45"/>
<path d="M84.5 33.4 Q84.5 31.2 86.7 31.2 H97.3 Q99.5 31.2 99.5 33.4 L99.8 49.6 H84.2 Z" fill="#8f2d37"/>
<rect x="84.2" y="47" width="15.6" height="2.6" fill="#7a2029"/>
<rect x="84.6" y="32.2" width="14.8" height="1.4" fill="#a1414b" opacity="0.7"/>
<path d="M85.2 137.6 V190.7 A6.7 6.7 0 0 0 98.6 190.7 V137.6 Z" fill="#f6e2e4" stroke="#c07a83" stroke-width="0.6"/>
<clipPath id="tb84119"><path d="M85.2 137.6 V190.7 A6.7 6.7 0 0 0 98.6 190.7 V137.6 Z"/></clipPath>
<rect x="85.2" y="178.7" width="13.4" height="18.7" fill="#ad4a55" clip-path="url(#tb84119)"/>
<rect x="86.5" y="147.9" width="6.1" height="37" fill="#f3d9dc" stroke="#c98a92" stroke-width="0.45"/>
<path d="M84.5 121.7 Q84.5 119.5 86.7 119.5 H97.3 Q99.5 119.5 99.5 121.7 L99.8 137.9 H84.2 Z" fill="#8f2d37"/>
<rect x="84.2" y="135.3" width="15.6" height="2.6" fill="#7a2029"/>
<rect x="84.6" y="120.5" width="14.8" height="1.4" fill="#a1414b" opacity="0.7"/>
<path d="M55.5 103.6 Q63 90.5 75 85.3" stroke="#231f20" stroke-width="1.05" fill="none"/>
<path d="M78.4 84.1 L74.7 88.4 L75.1 85.3 L72.8 83.4 Z" fill="#231f20"/>
<path d="M55.5 133.8 Q63 146.5 75 151.7" stroke="#231f20" stroke-width="1.05" fill="none"/>
<path d="M78.4 153 L72.8 153.7 L75.1 151.8 L74.7 148.7 Z" fill="#231f20"/>
<rect x="107.2" y="51.1" width="56.2" height="19.4" rx="6" fill="#eff1f6" stroke="#8aa2d6" stroke-width="0.9"/>
<text x="112" y="65.2" font-size="8.7" text-anchor="start" fill="#231f20" >+ DMSO</text>
<rect x="107.6" y="125.2" width="73.6" height="68.9" rx="7" fill="#eff1f6" stroke="#8aa2d6" stroke-width="0.9"/>
<text x="111.9" y="137.3" font-size="8.7" text-anchor="start" fill="#231f20" >+ SARS-CoV-2</text>
<text x="111.7" y="147.8" font-size="8.7" text-anchor="start" fill="#231f20" >Spike peptide</text>
<text x="111.7" y="157.6" font-size="8.7" text-anchor="start" fill="#231f20" >pool</text>
<path d="M143.3 158.5 Q146 155.6 149.1 157.5 M140.3 161.6 L142.3 163.3 M138.2 167.5 Q139.3 164.6 141.3 166.9 M137 172.8 Q133.6 174.4 135.6 176.6 Q137 177.4 138.4 176 M141.6 171.8 L147.1 172.5 M145.7 168.4 L143.7 177.3 M153.2 159.5 Q154.2 162.5 151.9 165.7 Q150.5 169.5 151.9 174.6 L151.7 179.4 M151.9 171.1 Q152.6 168.6 154.1 169.6 Q155 171.8 152.2 171.8 M156 165.7 L161.5 159.5 M158.7 169.8 Q161.8 170.6 160.1 175.9 M155.3 183.1 Q160 182.6 164.2 180 M136.5 182.1 L140.3 181.4 M146.4 181.4 L148.1 179.4 M144.4 184.1 Q141.4 185.4 143.3 189.3 Q145.2 189.5 146.4 187.6" stroke="#1f2c6c" stroke-width="1.5" fill="none" stroke-linecap="round"/>
<path d="M181.2 20.3 H186.8 V217 H181.6" stroke="#2b2b2b" stroke-width="0.85" fill="none"/>
<line x1="186.8" y1="45.3" x2="197" y2="45.3" stroke="#231f20" stroke-width="0.95" />
<path d="M199.5 45.3 L194.5 48.2 L196 45.3 L194.5 42.4 Z" fill="#231f20"/>
<line x1="186.8" y1="110" x2="197" y2="110" stroke="#231f20" stroke-width="0.95" />
<path d="M199.5 110 L194.5 112.9 L196 110 L194.5 107.1 Z" fill="#231f20"/>
<line x1="186.8" y1="190.4" x2="197" y2="190.4" stroke="#231f20" stroke-width="0.95" />
<path d="M199.5 190.4 L194.5 193.3 L196 190.4 L194.5 187.5 Z" fill="#231f20"/>
<line x1="289.8" y1="45.3" x2="300" y2="45.3" stroke="#231f20" stroke-width="0.95" />
<path d="M302.5 45.3 L297.5 48.2 L299 45.3 L297.5 42.4 Z" fill="#231f20"/>
<line x1="289.8" y1="109.8" x2="300" y2="109.8" stroke="#231f20" stroke-width="0.95" />
<path d="M302.5 109.8 L297.5 112.7 L299 109.8 L297.5 106.9 Z" fill="#231f20"/>
<line x1="289.8" y1="190.5" x2="300" y2="190.5" stroke="#231f20" stroke-width="0.95" />
<path d="M302.5 190.5 L297.5 193.4 L299 190.5 L297.5 187.6 Z" fill="#231f20"/>
<text x="212.8" y="13.9" font-size="8.7" text-anchor="start" fill="#231f20" >Supernatant</text>
<text x="313.7" y="13.9" font-size="8.7" text-anchor="start" fill="#231f20" >ELLA</text>
<text x="353" y="13.9" font-size="8.7" text-anchor="start" fill="#231f20" >or</text>
<text x="379.2" y="13.9" font-size="8.7" text-anchor="start" fill="#231f20" >Olink</text>
<text x="212.8" y="85" font-size="8.7" text-anchor="start" fill="#231f20" >RNA extraction</text>
<text x="315.2" y="85.3" font-size="8.7" text-anchor="start" fill="#231f20" >qTACT</text>
<text x="366.2" y="85.3" font-size="8.7" text-anchor="start" fill="#231f20" >or</text>
<text x="392.9" y="85.3" font-size="8.7" text-anchor="start" fill="#231f20" >TACTseq</text>
<text x="212.8" y="154.6" font-size="8.7" text-anchor="start" fill="#231f20" >Whole blood</text>
<text x="212.8" y="164.8" font-size="8.7" text-anchor="start" fill="#231f20" >(no RNA extraction)</text>
<text x="312.8" y="165.2" font-size="8.7" text-anchor="start" fill="#231f20" >dqTACT</text>
<path d="M217.3 48 L250 47.2 L253.3 52 L253.4 66.5 L251.8 69.3 L223 72.3 L217.8 68.5 Z" fill="#dcdcdc" stroke="#a0a0a0" stroke-width="0.4"/>
<path d="M217.3 48 L250 47.2 L253.3 52 L222.5 57.8 Z" fill="#efefef"/>
<path d="M222.5 57.8 L253.3 52 L253.4 66.5 L251.8 69.3 L223 72.3 Z" fill="#cfcfcf"/>
<path d="M222.6 63 L253.3 58.5 L253.4 66.5 L251.8 69.3 L223 72.3 Z" fill="#bdbdbd"/>
<path d="M217.3 48 L222.5 57.8 L223 72.3 L217.8 68.5 Z" fill="#e6e6e6"/>
<ellipse cx="231.4" cy="53.2" rx="9.9" ry="4.5" fill="#3f444b"/>
<ellipse cx="231.6" cy="53.6" rx="8.4" ry="3.4" fill="#7895b0"/>
<path d="M226 52.5 L230 51.6 L231 54.5 L227 55.3 Z M233 51.8 L237 52.6 L235.5 55.2 L232 54.6 Z" fill="#9fb6cc"/>
<path d="M236 59.2 L243.8 58.1 L244.3 61.2 L236.6 62.5 Z" fill="#eef3fa" stroke="#6d8fc8" stroke-width="0.3"/>
<path d="M217.6 27.9 L241.3 26.6 L240.4 46.3 L218.4 47.3 Z" fill="#e4e4e4" stroke="#9d9d9d" stroke-width="0.45"/>
<ellipse cx="229.2" cy="37.5" rx="7.9" ry="7.3" fill="#f7f8fb" stroke="#c6c6c6" stroke-width="0.4"/>
<circle cx="228.9" cy="37.6" r="0.9" fill="#333"/>
<path d="M240.8 30.3 L244 28.6 L250.8 37 L250.6 39.2 L248 39.2 Z" fill="#eef2f6" stroke="#9aa4ae" stroke-width="0.4"/>
<path d="M252 39 H262.8 V55.2 L257.7 70.2 L252.8 55.2 Z" fill="#eef3f8" stroke="#a3adb8" stroke-width="0.45"/>
<path d="M252.8 55.2 H262.3 L260.3 63 H254.9 Z" fill="#f6e7b4"/>
<path d="M254.9 63 H260.3 L257.7 70.2 Z" fill="#d42a2a"/>
<path d="M255.1 21.1 H259.9 V24.6 H255.1 Z" fill="#dfe6ec" stroke="#9aa4ae" stroke-width="0.4"/>
<path d="M255.4 24.6 H259.6 L258.2 52 H257.3 Z" fill="#eef2f6" stroke="#9aa4ae" stroke-width="0.4"/>
<path d="M256.9 36.5 H258.6 L258.1 51.5 H257.4 Z" fill="#e9ad8c"/>
<path d="M222 104.3 H235.8 V106.8 H234.6 V121.5 L229.3 135.7 L223.6 121.5 V106.8 H222 Z" fill="#dfe7ee" stroke="#a6b2be" stroke-width="0.45"/>
<rect x="222" y="104.3" width="13.8" height="2.5" fill="#c9d3dc"/>
<rect x="226.3" y="119.2" width="5.8" height="0.9" fill="#2c3f8f"/>
<path d="M234 119.4 L241.4 101.9 M232.1 128.6 L256.2 129.6" stroke="#555" stroke-width="0.45" stroke-dasharray="0.8 0.9" fill="none"/>
<circle cx="260.6" cy="110.1" r="19.3" fill="#fff" stroke="#444" stroke-width="0.55"/>
<path d="M247.4 103.2 L250 103.8 L253 103.2 L256 102.6 L260 102.8 L264 102 L268 101.4 L271.5 101" stroke="#4453a8" stroke-width="1.1" fill="none" stroke-linejoin="round"/>
<path d="M247.4 103.2l0.5 -2.0M248.7 103.5l0.5 -2.0M250 103.8l-0.4 -2.1M251 103.6l-0.4 -2.1M252 103.4l-0.4 -2.1M253 103.2l-0.4 -2.1M254 103l-0.4 -2.1M255 102.8l-0.4 -2.1M256 102.6l0.1 -2.1M257 102.6l0.1 -2.1M258 102.7l0.1 -2.1M259 102.8l0.1 -2.1M260 102.8l-0.4 -2.1M261 102.6l-0.4 -2.1M262 102.4l-0.4 -2.1M263 102.2l-0.4 -2.1M264 102l-0.3 -2.1M265 101.8l-0.3 -2.1M266 101.7l-0.3 -2.1M267 101.6l-0.3 -2.1M268 101.4l-0.2 -2.1M269.2 101.3l-0.2 -2.1M270.3 101.1l-0.2 -2.1" stroke="#4a58ad" stroke-width="0.55" fill="none"/>
<path d="M246.7 108.4 L248.5 110.8 L251.5 113 L255 114.2 L259 114.8 L264.2 115.2" stroke="#4453a8" stroke-width="1.1" fill="none" stroke-linejoin="round"/>
<path d="M246.7 108.4l-1.7 1.3M247.3 109.2l-1.7 1.3M247.9 110l-1.7 1.3M248.5 110.8l-1.2 1.7M249.5 111.5l-1.2 1.7M250.5 112.3l-1.2 1.7M251.5 113l-0.7 2.0M252.7 113.4l-0.7 2.0M253.8 113.8l-0.7 2.0M255 114.2l-0.3 2.1M256 114.3l-0.3 2.1M257 114.5l-0.3 2.1M258 114.7l-0.3 2.1M259 114.8l-0.2 2.1M260 114.9l-0.2 2.1M261.1 115l-0.2 2.1M262.1 115l-0.2 2.1M263.2 115.1l-0.2 2.1" stroke="#4a58ad" stroke-width="0.55" fill="none"/>
<path d="M271.5 107.5 L270.8 111 L269.5 114.5 L268 117.5 L266.5 120 L265 121.8" stroke="#4453a8" stroke-width="1.1" fill="none" stroke-linejoin="round"/>
<path d="M271.5 107.5l-2.1 -0.4M271.3 108.7l-2.1 -0.4M271 109.8l-2.1 -0.4M270.8 111l-2.0 -0.7M270.4 112.2l-2.0 -0.7M269.9 113.3l-2.0 -0.7M269.5 114.5l-1.9 -0.9M269 115.5l-1.9 -0.9M268.5 116.5l-1.9 -0.9M268 117.5l-1.8 -1.1M267.5 118.3l-1.8 -1.1M267 119.2l-1.8 -1.1M266.5 120l-1.6 -1.3M265.8 120.9l-1.6 -1.3" stroke="#4a58ad" stroke-width="0.55" fill="none"/>
<path d="M216 181.5 L219.5 177.8 L227.8 186.5 L227.8 188.6 L225.5 188.6 Z" fill="#eef2f6" stroke="#9aa4ae" stroke-width="0.4"/>
<path d="M227.7 188.2 H238.2 V203.5 L233 219 L228.2 203.5 Z" fill="#eef3f8" stroke="#a3adb8" stroke-width="0.45"/>
<path d="M228.2 203.5 H238.2 L233 219 Z" fill="#c4343c"/>
<path d="M230.5 170 H235.2 V174.2 L234.1 174.8 L233.5 203 H232.6 L231.6 174.8 L230.5 174.2 Z" fill="#e7edf2" stroke="#9aa4ae" stroke-width="0.4"/>
<rect x="232.5" y="186" width="1" height="16.5" fill="#b9444c"/>
<path d="M238.2 204.4 L251.1 191.8 M238.2 207.4 L256.2 215.2" stroke="#666" stroke-width="0.45" stroke-dasharray="0.8 0.9" fill="none"/>
<circle cx="267.9" cy="199.9" r="18.8" fill="#f6dedf" stroke="#8a8a8a" stroke-width="0.55"/>
<circle cx="259.9" cy="190.4" r="3.2" fill="#c48fc4"/>
<circle cx="260.2" cy="190.6" r="2.0" fill="#b57ab8"/>
<circle cx="267.9" cy="188.9" r="3.8" fill="#9c4aa0"/>
<circle cx="268.2" cy="189.1" r="2.4" fill="#853a8c"/>
<circle cx="257.7" cy="199.9" r="5.8" fill="#5b56aa"/>
<circle cx="258.0" cy="200.1" r="3.6" fill="#4a4599"/>
<circle cx="278.1" cy="196.2" r="5.8" fill="#5b58aa"/>
<circle cx="278.40000000000003" cy="196.39999999999998" r="3.6" fill="#4a4799"/>
<circle cx="268.3" cy="202.5" r="3.6" fill="#9a459f"/>
<circle cx="268.6" cy="202.7" r="2.2" fill="#84368c"/>
<circle cx="274.2" cy="207.9" r="5.8" fill="#9d8fca"/>
<circle cx="274.5" cy="208.1" r="3.6" fill="#8a7cbc"/>
<circle cx="263.9" cy="212.3" r="3.6" fill="#dcaad5"/>
<circle cx="264.2" cy="212.5" r="2.2" fill="#cf98c8"/>
<path d="M324.5 27.2 Q340 25.8 356 27.8 Q360.5 29 360.6 33 L360.6 50 Q360.3 53 358.5 54 L355 58.2 L336.5 58.6 L328 55.5 Q322 53.5 321.2 50 L321 32 Q321.2 28 324.5 27.2 Z" fill="#f7f7f7" stroke="#d4d4d4" stroke-width="0.4"/>
<path d="M321 30.7 L328 41.5 L360.6 40.1 L360.6 47.5 L328 50.9 L322 46.2 Q321 45.5 321 44.2 Z" fill="#ec8b2c"/>
<path d="M321 30.7 L328 41.5 L328 50.9 L322 46.2 Q321 45.5 321 44.2 Z" fill="#e27f20"/>
<path d="M333.1 30.1 L346.2 30.4 L353.3 35.8 L338.1 36.4 Z" fill="#4f9be0"/>
<circle cx="336.8" cy="44.3" r="1.4" fill="#fbe3c8"/>
<circle cx="347" cy="38.8" r="0.5" fill="#7ac143"/>
<path d="M322.5 50.5 L328 54.5 L336.8 56.3 L354.6 55.8 L355 58.2 L336.5 58.6 L328 56.5 Z" fill="#6a6a6a"/>
<g transform="translate(382 25)">
<defs><linearGradient id="olside" x1="0" x2="1" y1="0" y2="0"><stop offset="0" stop-color="#d2d2d2"/><stop offset="1" stop-color="#a2a2a2"/></linearGradient></defs>
<path d="M23.6 0.4 L33.8 6.6 Q35.9 8 35.9 10.5 V33.8 Q35.9 35 34.5 35.2 L25.3 36.2 L23.6 27 Z" fill="url(#olside)"/>
<path d="M0.1 26 L24.2 26.6 L25.3 36.2 L4 35.8 Q0.3 35.3 0.1 31 Z" fill="#e2e2e2"/>
<path d="M14 27 L24.2 26.6 L25.3 36.2 L17.5 36 Z" fill="#c9c9c9"/>
<path d="M5.4 0.9 L22.6 -0.2 Q25 -0.3 25 2.2 L25.2 26.2 Q25.2 28.2 23 28.2 L2 28 Q-0.6 28 -0.4 25.4 L2.4 3.6 Q2.8 1 5.4 0.9 Z" fill="#dedede"/>
<path d="M5.6 1.6 L22.4 0.6 Q24.2 0.5 24.2 2.4 L24.4 25.6 Q24.4 27.2 22.7 27.2 L2.3 27 Q0.4 27 0.6 25 L3.2 3.8 Q3.5 1.7 5.6 1.6 Z" fill="#4f4f4f"/>
<path d="M0.9 22 L24.3 9 L24.4 25.6 Q24.4 27.2 22.7 27.2 L2.3 27 Q0.4 27 0.6 25 Z" fill="#474747"/>
<path d="M4.6 7 L14.6 6.6 L14.3 13.8 L3.9 14 Z" fill="#e8e8e8"/>
</g>
<g transform="translate(317.4 95.8)">
<path d="M23.6 0.4 L33.8 6.6 Q35.9 8 35.9 10.5 V33.8 Q35.9 35 34.5 35.2 L25.3 36.2 L23.6 27 Z" fill="url(#olside)"/>
<path d="M0.1 26 L24.2 26.6 L25.3 36.2 L4 35.8 Q0.3 35.3 0.1 31 Z" fill="#e2e2e2"/>
<path d="M14 27 L24.2 26.6 L25.3 36.2 L17.5 36 Z" fill="#c9c9c9"/>
<path d="M5.4 0.9 L22.6 -0.2 Q25 -0.3 25 2.2 L25.2 26.2 Q25.2 28.2 23 28.2 L2 28 Q-0.6 28 -0.4 25.4 L2.4 3.6 Q2.8 1 5.4 0.9 Z" fill="#dedede"/>
<path d="M5.6 1.6 L22.4 0.6 Q24.2 0.5 24.2 2.4 L24.4 25.6 Q24.4 27.2 22.7 27.2 L2.3 27 Q0.4 27 0.6 25 L3.2 3.8 Q3.5 1.7 5.6 1.6 Z" fill="#4f4f4f"/>
<path d="M0.9 22 L24.3 9 L24.4 25.6 Q24.4 27.2 22.7 27.2 L2.3 27 Q0.4 27 0.6 25 Z" fill="#474747"/>
<path d="M4.6 7 L14.6 6.6 L14.3 13.8 L3.9 14 Z" fill="#e8e8e8"/>
</g>
<g transform="translate(317.2 174.9)">
<path d="M23.6 0.4 L33.8 6.6 Q35.9 8 35.9 10.5 V33.8 Q35.9 35 34.5 35.2 L25.3 36.2 L23.6 27 Z" fill="url(#olside)"/>
<path d="M0.1 26 L24.2 26.6 L25.3 36.2 L4 35.8 Q0.3 35.3 0.1 31 Z" fill="#e2e2e2"/>
<path d="M14 27 L24.2 26.6 L25.3 36.2 L17.5 36 Z" fill="#c9c9c9"/>
<path d="M5.4 0.9 L22.6 -0.2 Q25 -0.3 25 2.2 L25.2 26.2 Q25.2 28.2 23 28.2 L2 28 Q-0.6 28 -0.4 25.4 L2.4 3.6 Q2.8 1 5.4 0.9 Z" fill="#dedede"/>
<path d="M5.6 1.6 L22.4 0.6 Q24.2 0.5 24.2 2.4 L24.4 25.6 Q24.4 27.2 22.7 27.2 L2.3 27 Q0.4 27 0.6 25 L3.2 3.8 Q3.5 1.7 5.6 1.6 Z" fill="#4f4f4f"/>
<path d="M0.9 22 L24.3 9 L24.4 25.6 Q24.4 27.2 22.7 27.2 L2.3 27 Q0.4 27 0.6 25 Z" fill="#474747"/>
<path d="M4.6 7 L14.6 6.6 L14.3 13.8 L3.9 14 Z" fill="#e8e8e8"/>
</g>
<g transform="translate(358.1 102.4)">
<path d="M0 0 L18.7 4.4 L18.7 28.6 L0 22.8 Z" fill="#cacaca"/>
<path d="M18.7 4.4 L34.5 -2.3 L34.5 21 L18.7 28.6 Z" fill="#b3b3b3"/>
<path d="M0 0 L15 -6.8 L34.5 -2.4 L18.7 4.5 Z" fill="#111"/>
<path d="M0 22.8 L18.7 28.6 L34.5 21" stroke="#333" stroke-width="0.7" fill="none"/>
<path d="M2.6 6 Q2.3 5.2 3.2 5.3 L15.4 7.9 Q16 8 16 8.8 V16.2 Q16 17 15.2 16.8 L3 14.2 Q2.5 14.1 2.5 13.4 Z" fill="#111"/>
<ellipse cx="11.7" cy="-1.8" rx="2.2" ry="1.3" fill="#4caf3f"/>
<ellipse cx="16.4" cy="-0.4" rx="2.2" ry="1.3" fill="#f09a2a"/>
<ellipse cx="21.6" cy="0.9" rx="2.3" ry="1.3" fill="#3556c8"/>
<path d="M17.5 -3.2 L22.5 -2.2" stroke="#bbb" stroke-width="0.4"/>
</g>
<g transform="translate(358.2 181.1)">
<path d="M0 0 L18.7 4.4 L18.7 28.6 L0 22.8 Z" fill="#cacaca"/>
<path d="M18.7 4.4 L34.5 -2.3 L34.5 21 L18.7 28.6 Z" fill="#b3b3b3"/>
<path d="M0 0 L15 -6.8 L34.5 -2.4 L18.7 4.5 Z" fill="#111"/>
<path d="M0 22.8 L18.7 28.6 L34.5 21" stroke="#333" stroke-width="0.7" fill="none"/>
<path d="M2.6 6 Q2.3 5.2 3.2 5.3 L15.4 7.9 Q16 8 16 8.8 V16.2 Q16 17 15.2 16.8 L3 14.2 Q2.5 14.1 2.5 13.4 Z" fill="#111"/>
<ellipse cx="11.7" cy="-1.8" rx="2.2" ry="1.3" fill="#4caf3f"/>
<ellipse cx="16.4" cy="-0.4" rx="2.2" ry="1.3" fill="#f09a2a"/>
<ellipse cx="21.6" cy="0.9" rx="2.3" ry="1.3" fill="#3556c8"/>
<path d="M17.5 -3.2 L22.5 -2.2" stroke="#bbb" stroke-width="0.4"/>
</g>
<rect x="403.4" y="96.8" width="36.6" height="32.9" fill="#e4e6e8"/>
<rect x="403.4" y="96.6" width="16.6" height="11.2" fill="#f2f3f4" stroke="#6f7479" stroke-width="0.45"/>
<path d="M403.4 107.8 V96.6 H420" stroke="#2a2a2a" stroke-width="0.7" fill="none"/>
<path d="M406 98.5 L416 98.5 L411 105.5 L406 105.5 Z" fill="#ffffff" opacity="0.8"/>
<rect x="397.8" y="109.9" width="23" height="19.8" fill="#dadcdf"/>
<rect x="402.1" y="119.2" width="20" height="10.5" fill="#4a4d50"/>
<path d="M402.1 119.2 L414 119.2 L402.1 128 Z" fill="#5f6265"/>
<rect x="420.1" y="96.2" width="6.9" height="33.5" fill="#45484b"/>
<rect x="423.5" y="96.2" width="3.5" height="33.5" fill="#36393b"/>
<rect x="413.3" y="108.1" width="6.8" height="1.3" fill="#45484b"/>
<rect x="427" y="96.2" width="13" height="33.5" fill="#e3e5e7"/>
<rect x="426" y="108.2" width="12" height="1.2" fill="#4f6474"/>
<rect x="438.5" y="127.5" width="1.5" height="1.5" fill="#333"/>
</svg></body></html>
